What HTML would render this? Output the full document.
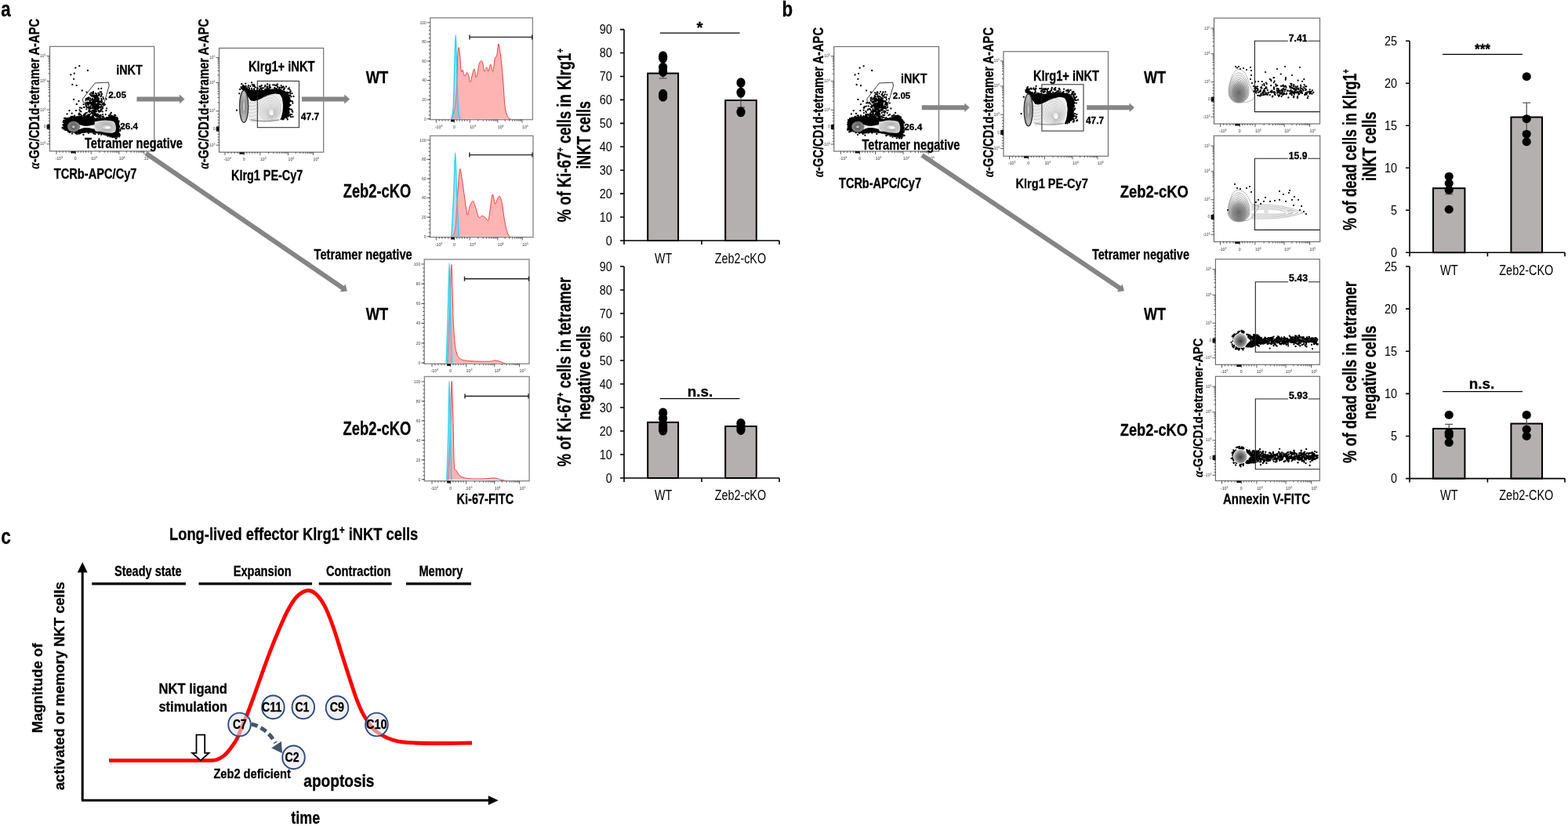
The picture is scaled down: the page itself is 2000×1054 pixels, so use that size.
<!DOCTYPE html>
<html><head><meta charset="utf-8"><title>Figure</title>
<style>html,body{margin:0;padding:0;background:#fff;}svg{display:block;}
text{font-family:'Liberation Sans', Arial, sans-serif;}</style></head>
<body><svg width="2000" height="1054" viewBox="0 0 2000 1054">
<rect width="2000" height="1054" fill="#fff"/>
<text x="1.20" y="20.80" font-size="27.54" font-weight="bold" fill="#000" stroke="#000" stroke-width="0.3" textLength="12.40" lengthAdjust="spacingAndGlyphs">a</text>
<rect x="63.50" y="59.30" width="133.20" height="133.60" fill="none" stroke="#707070" stroke-width="1.2"/>
<path d="M59.50 71.40H63.5 M59.50 103.40H63.5 M59.50 140.00H63.5 M59.50 161.70H63.5 M59.50 183.80H63.5 M61.50 93.77H63.5 M61.50 88.13H63.5 M61.50 84.13H63.5 M61.50 81.03H63.5 M61.50 78.50H63.5 M61.50 76.36H63.5 M61.50 74.50H63.5 M61.50 72.86H63.5 M61.50 128.98H63.5 M61.50 122.54H63.5 M61.50 117.96H63.5 M61.50 114.42H63.5 M61.50 111.52H63.5 M61.50 109.07H63.5 M61.50 106.95H63.5 M61.50 105.07H63.5 M61.50 143.62H63.5 M61.50 147.23H63.5 M61.50 150.85H63.5 M61.50 154.47H63.5 M61.50 158.08H63.5 M61.50 165.38H63.5 M61.50 169.07H63.5 M61.50 172.75H63.5 M61.50 176.43H63.5 M61.50 180.12H63.5 M72.00 192.90V196.90 M96.30 192.90V196.90 M116.20 192.90V196.90 M151.80 192.90V196.90 M183.80 192.90V196.90 M76.05 192.90V194.90 M80.10 192.90V194.90 M84.15 192.90V194.90 M88.20 192.90V194.90 M92.25 192.90V194.90 M99.62 192.90V194.90 M102.93 192.90V194.90 M106.25 192.90V194.90 M109.57 192.90V194.90 M112.88 192.90V194.90 M126.92 192.90V194.90 M133.19 192.90V194.90 M137.63 192.90V194.90 M141.08 192.90V194.90 M143.90 192.90V194.90 M146.29 192.90V194.90 M148.35 192.90V194.90 M150.17 192.90V194.90 M161.43 192.90V194.90 M167.07 192.90V194.90 M171.07 192.90V194.90 M174.17 192.90V194.90 M176.70 192.90V194.90 M178.84 192.90V194.90 M180.70 192.90V194.90 M182.34 192.90V194.90" stroke="#333" stroke-width="0.8" fill="none"/>
<path d="M59.70 158.70h3.8v6h-3.8z M90.30 192.90h6.2v2.6h-6.2z" fill="#111"/>
<text x="58.50" y="72.90" font-size="5" text-anchor="end" fill="#444">10<tspan dy="-2" font-size="3.5">5</tspan></text>
<text x="58.50" y="104.90" font-size="5" text-anchor="end" fill="#444">10<tspan dy="-2" font-size="3.5">4</tspan></text>
<text x="58.50" y="141.50" font-size="5" text-anchor="end" fill="#444">10<tspan dy="-2" font-size="3.5">3</tspan></text>
<text x="58.50" y="163.20" font-size="5" text-anchor="end" fill="#444">0</text>
<text x="58.50" y="185.30" font-size="5" text-anchor="end" fill="#444">-10<tspan dy="-2" font-size="3.5">3</tspan></text>
<text x="70.50" y="203.90" font-size="5.2" text-anchor="start" fill="#333">-10<tspan dy="-2" font-size="3.5">3</tspan></text>
<text x="96.30" y="203.90" font-size="5.2" text-anchor="middle" fill="#333">0</text>
<text x="116.20" y="203.90" font-size="5.2" text-anchor="start" fill="#333">10<tspan dy="-2" font-size="3.5">3</tspan></text>
<text x="151.80" y="203.90" font-size="5.2" text-anchor="start" fill="#333">10<tspan dy="-2" font-size="3.5">4</tspan></text>
<text x="183.80" y="203.90" font-size="5.2" text-anchor="start" fill="#333">10<tspan dy="-2" font-size="3.5">5</tspan></text>
<path d="M119.5 151.2h0M124.7 124.5h0M108.2 150.3h0M125.5 134.1h0M106.6 133.2h0M115.3 137.5h0M119.0 117.2h0M113.9 152.0h0M119.6 136.0h0M115.0 125.3h0M121.8 123.5h0M126.6 121.6h0M107.0 150.6h0M115.5 149.2h0M120.0 145.0h0M115.4 150.2h0M110.3 139.3h0M126.2 130.6h0M118.8 140.9h0M121.3 121.5h0M113.0 125.0h0M131.4 124.0h0M121.1 127.5h0M128.2 141.9h0M102.3 149.2h0M117.6 121.3h0M104.4 152.5h0M116.9 122.7h0M128.5 141.0h0M117.6 130.5h0M112.0 125.0h0M99.0 150.4h0M114.0 137.3h0M108.9 145.4h0M112.6 136.4h0M128.1 129.2h0M118.3 142.7h0M110.1 136.2h0M124.4 151.7h0M103.0 152.7h0M126.0 120.9h0M112.3 148.0h0M125.3 135.9h0M123.0 124.5h0M130.7 138.3h0M109.5 126.3h0M130.9 133.2h0M115.9 151.2h0M123.6 138.6h0M112.6 150.5h0M112.0 152.2h0M115.8 153.4h0M106.4 147.6h0M121.3 144.1h0M119.6 154.2h0M109.3 131.4h0M105.1 152.0h0M127.0 120.0h0M118.7 134.6h0M118.4 141.8h0M108.4 153.8h0M113.9 140.5h0M119.8 122.8h0M124.3 148.0h0M123.1 120.0h0M128.3 136.3h0M104.2 138.1h0M103.5 142.5h0M130.4 136.9h0M126.0 141.7h0M119.0 123.1h0M127.5 117.5h0M109.5 128.2h0M101.6 140.4h0M125.5 128.0h0M127.8 147.2h0M102.2 146.0h0M128.5 123.3h0M117.7 140.9h0M118.9 119.3h0M120.7 140.7h0M126.4 147.5h0M109.1 144.3h0M120.4 124.0h0M117.3 153.1h0M110.9 125.6h0M113.6 141.7h0M102.4 141.9h0M126.7 130.5h0M110.7 137.0h0M109.2 133.7h0M100.5 145.5h0M117.9 127.4h0M100.4 145.9h0M129.3 126.2h0M108.4 148.7h0M119.3 122.9h0M112.9 150.7h0M110.8 143.8h0M101.1 144.5h0M124.8 148.4h0M121.2 130.3h0M124.1 123.1h0M107.0 136.8h0M123.8 151.2h0M125.6 141.2h0M124.8 131.2h0M120.0 122.8h0M124.2 145.7h0M122.8 133.2h0M110.9 132.2h0M98.9 149.1h0M116.6 130.9h0M116.8 144.2h0M111.0 148.6h0M129.8 130.9h0M102.5 145.8h0M122.5 148.4h0M129.8 120.4h0M117.7 133.3h0" stroke="#000" stroke-width="2.20" stroke-linecap="round" fill="none"/>
<path d="M124.7 128.3h0M123.9 126.7h0M114.8 120.2h0M131.7 131.6h0M122.8 133.8h0M122.4 134.4h0M132.0 126.2h0M112.9 126.4h0M114.2 139.6h0M126.0 126.8h0M113.9 131.3h0M129.2 112.9h0M115.6 141.8h0M115.6 131.9h0M113.2 126.7h0M129.1 140.2h0M119.3 127.5h0M111.1 131.0h0M121.3 133.4h0M121.0 125.6h0M121.1 133.7h0M128.6 148.0h0M120.7 128.3h0M121.1 129.4h0M117.4 133.6h0M115.8 138.5h0M120.9 135.9h0M120.5 128.5h0M116.3 132.2h0M118.5 135.8h0M121.5 123.8h0M121.9 123.9h0M118.1 131.8h0M110.1 134.7h0M122.3 132.8h0M119.2 131.2h0M116.1 132.0h0M118.5 134.7h0M114.9 135.8h0M122.3 132.9h0M119.1 138.1h0M112.3 137.5h0M122.8 136.1h0M123.6 129.1h0M120.1 138.8h0M123.9 135.6h0M113.2 138.0h0M127.9 141.6h0M122.8 122.3h0M126.7 132.9h0M107.6 136.8h0M113.3 124.3h0M118.0 143.5h0M119.5 136.0h0M131.1 146.0h0M120.9 132.2h0M114.6 128.8h0M123.8 137.0h0M122.1 141.5h0M117.3 133.6h0M125.5 138.4h0M127.4 137.0h0M119.8 136.7h0M116.0 121.7h0M124.7 133.6h0M123.2 121.3h0M119.5 129.5h0M126.4 136.9h0M118.2 133.9h0M125.7 113.3h0M124.5 139.1h0M130.9 142.5h0M123.2 136.3h0M125.8 130.0h0M121.3 140.8h0M132.3 132.8h0M121.2 135.5h0M128.9 133.8h0M129.6 126.8h0M120.5 132.5h0M125.8 141.8h0M113.2 127.1h0M123.4 129.1h0M113.1 141.8h0M124.2 137.7h0M118.9 141.7h0M120.2 142.2h0M116.5 127.6h0M122.6 128.7h0M125.2 136.0h0M116.4 134.5h0M119.6 140.9h0M118.0 130.7h0M128.2 150.8h0M132.5 134.5h0M122.7 145.5h0M120.8 126.7h0M122.1 137.4h0M116.9 121.7h0M113.6 139.0h0M117.3 132.9h0M122.7 138.6h0M119.7 137.7h0M116.6 131.3h0M115.9 142.5h0M121.4 128.5h0M119.6 132.3h0M125.4 122.0h0M115.8 131.2h0M135.4 141.2h0M120.9 139.3h0M132.8 132.2h0M119.5 143.1h0M124.2 139.0h0M118.7 148.4h0M130.9 138.2h0M125.3 118.8h0M125.0 132.5h0M123.9 139.1h0M119.6 121.3h0M123.5 128.4h0M119.7 129.5h0M122.9 142.3h0M132.4 134.2h0M111.6 127.3h0M114.9 130.2h0M121.9 119.0h0M123.4 122.7h0M123.1 133.2h0M119.8 133.5h0M118.5 129.4h0M112.2 133.8h0M131.7 148.9h0M128.8 139.3h0M117.8 144.8h0M121.2 133.5h0M119.9 134.7h0M119.1 133.4h0M115.5 131.2h0M134.0 133.5h0M120.2 138.0h0M125.4 125.6h0M120.4 140.9h0M123.0 134.9h0M130.0 128.9h0M122.0 130.1h0M129.7 119.4h0M117.8 130.0h0M125.1 138.5h0M129.2 122.2h0M125.6 131.8h0M117.8 138.0h0M116.4 118.4h0M119.5 122.8h0M117.9 136.8h0M123.2 145.9h0M120.4 122.5h0M117.3 127.1h0M114.8 137.3h0M118.0 119.2h0M125.3 133.2h0M123.5 134.8h0M125.0 134.3h0M128.3 137.2h0M123.7 137.1h0M113.5 132.8h0M120.1 135.6h0M114.0 146.3h0M122.1 124.9h0M112.1 131.9h0M121.0 128.6h0M122.0 129.2h0M124.5 128.6h0M121.3 141.3h0M135.6 126.4h0M118.9 127.7h0M125.8 125.4h0M118.8 133.8h0M116.1 126.8h0M118.9 118.2h0M113.5 130.9h0M122.3 132.6h0M111.7 130.5h0M125.9 138.2h0M121.1 127.3h0M125.0 129.7h0M115.1 128.0h0M129.5 135.7h0M127.9 130.4h0M126.7 129.5h0M120.6 152.6h0M125.7 130.2h0M121.0 136.4h0M128.2 130.3h0M111.9 131.9h0M121.6 134.8h0M128.7 136.4h0M126.0 125.7h0M126.3 149.7h0M125.8 135.9h0M122.3 147.4h0M116.4 133.2h0M124.0 139.6h0M119.1 136.3h0M120.0 134.9h0M120.8 125.4h0M121.4 140.6h0M116.2 132.2h0M125.2 126.0h0M122.5 126.0h0M127.7 151.3h0M132.6 132.4h0M125.6 134.9h0M122.1 145.6h0M114.2 141.9h0M121.2 144.6h0M122.5 129.0h0M123.0 139.5h0M121.7 137.7h0M118.6 118.0h0M125.3 135.1h0M121.9 141.8h0M119.0 128.7h0M120.5 142.9h0M113.9 142.9h0M118.0 125.7h0M128.4 133.3h0M114.3 131.3h0M126.6 142.9h0M119.2 137.0h0" stroke="#000" stroke-width="2.20" stroke-linecap="round" fill="none"/>
<path d="M112.3 150.3h0M110.7 149.0h0M107.8 150.3h0M103.6 152.4h0M130.5 148.9h0M113.6 152.0h0M107.6 151.5h0M107.5 150.8h0M109.1 149.8h0M125.3 149.3h0M110.6 147.6h0M119.0 145.5h0M125.2 146.2h0M118.9 149.1h0M104.5 149.1h0M107.6 145.7h0M102.1 151.5h0M102.3 146.3h0M117.6 148.3h0M112.4 146.4h0M120.4 147.1h0M111.3 148.6h0M128.6 146.8h0M122.2 147.3h0M128.2 148.0h0M114.9 152.1h0M120.7 145.5h0M102.4 153.1h0M103.2 146.5h0M100.6 148.7h0M117.9 147.4h0M101.4 151.6h0M125.2 149.5h0M102.4 149.3h0M119.2 148.3h0M127.2 148.0h0M115.1 145.6h0M116.9 151.2h0M122.7 146.8h0M112.2 148.2h0M124.3 146.2h0M119.5 150.8h0M115.3 152.1h0M113.7 148.6h0M107.4 152.5h0M108.5 150.6h0M111.7 152.6h0M104.0 147.8h0M108.1 149.8h0M108.9 149.5h0M107.7 151.3h0M107.6 152.3h0M123.3 148.5h0M102.7 149.0h0M107.8 149.3h0M131.3 148.6h0M127.5 149.6h0M122.1 146.3h0M106.8 147.4h0M117.9 150.0h0" stroke="#000" stroke-width="2.20" stroke-linecap="round" fill="none"/>
<path d="M96.3 86.6h0M101.3 84.2h0M111.9 89.9h0M90.3 95.3h0M94.8 93.7h0M94.1 100.8h0M92.3 107.9h0M97.7 109.1h0M104.8 115.5h0M110.5 117.6h0M94.1 126.9h0M97.7 133.0h0M88.4 141.1h0M97.0 141.1h0M136.1 138.3h0M141.8 143.9h0M85.6 145.4h0M100.5 129.0h0M91.7 144.7h0M129.0 117.3h0M102.0 137.5h0M134.7 146.1h0M139.0 147.5h0M90.6 148.9h0" stroke="#000" stroke-width="2.30" stroke-linecap="round" fill="none"/>
<path d="M80.40 162.00L81.30 153.90L84.00 150.75L88.50 149.40L93.90 148.50L98.40 148.50L102.90 149.85L109.20 148.50L115.50 149.40L122.25 150.75L128.11 152.10L133.51 150.30L140.26 148.05L145.21 147.15L148.81 149.40L151.51 153.90L152.41 160.20L152.18 166.50L151.51 171.90L150.61 174.60L146.11 175.95L138.01 173.70L129.01 171.00L120.00 169.65L111.00 169.20L102.00 170.55L95.25 169.65L88.50 168.30L83.10 166.50L80.85 164.70Z" fill="#000" />
<path d="M82.0 159.8h0M80.4 159.5h0M80.6 155.8h0M81.2 153.9h0M82.1 151.0h0M83.0 150.9h0M83.5 151.0h0M86.1 151.2h0M86.5 150.8h0M89.7 150.5h0M91.7 149.0h0M91.9 149.6h0M92.5 148.7h0M94.9 148.1h0M95.2 147.6h0M98.4 149.4h0M100.9 148.9h0M101.2 148.6h0M103.3 149.6h0M105.6 151.2h0M107.1 147.5h0M108.3 147.0h0M110.1 150.1h0M113.6 147.6h0M116.2 150.7h0M117.4 149.2h0M119.7 150.6h0M122.9 151.9h0M125.4 152.4h0M127.5 152.3h0M126.6 152.0h0M130.2 151.1h0M132.6 150.5h0M132.6 151.7h0M136.4 149.8h0M138.9 149.9h0M140.6 145.6h0M141.2 147.3h0M142.6 147.6h0M146.4 146.7h0M145.3 149.9h0M147.2 147.4h0M149.0 149.8h0M149.0 151.7h0M150.1 151.5h0M151.7 154.7h0M151.2 156.3h0M152.0 160.9h0M151.7 161.6h0M152.3 162.2h0M153.0 165.3h0M153.4 166.8h0M151.4 167.8h0M152.2 170.7h0M152.9 172.3h0M152.3 174.3h0M151.1 172.2h0M149.4 173.2h0M150.7 174.2h0M148.8 176.1h0M147.8 177.0h0M143.3 175.0h0M140.8 174.6h0M137.5 173.7h0M136.6 171.1h0M132.3 171.0h0M129.2 171.8h0M125.9 171.3h0M121.4 171.2h0M119.4 170.3h0M117.2 166.9h0M113.2 169.6h0M112.6 169.5h0M108.3 168.2h0M106.4 171.9h0M102.0 170.3h0M98.1 171.1h0M100.2 170.7h0M96.5 170.2h0M92.0 170.5h0M89.5 168.5h0M88.8 169.2h0M87.1 168.1h0M84.1 165.8h0M83.2 165.8h0M81.0 164.6h0M81.1 163.5h0M79.5 163.1h0M80.9 164.2h0M82.6 161.4h0" stroke="#000" stroke-width="2.30" stroke-linecap="round" fill="none"/>
<path d="M100.20 158.40 C101.25 158.74 104.33 160.09 106.50 160.43 C108.68 160.77 110.78 160.62 113.25 160.43 C115.73 160.24 120.00 158.63 121.35 159.30 C122.70 159.98 122.70 163.84 121.35 164.48 C120.00 165.12 115.73 163.35 113.25 163.13 C110.78 162.90 108.68 162.83 106.50 163.13 C104.33 163.43 101.25 165.72 100.20 164.93 C99.15 164.14 100.20 159.49 100.20 158.40Z" fill="#f2f2f2"/>
<path d="M120.90 155.25 C121.88 155.10 124.65 154.65 126.76 154.35 C128.86 154.05 131.26 153.53 133.51 153.45 C135.76 153.38 138.31 153.60 140.26 153.90 C142.21 154.20 144.01 154.28 145.21 155.25 C146.41 156.23 147.01 158.25 147.46 159.75 C147.91 161.25 148.06 162.83 147.91 164.25 C147.76 165.68 147.46 167.40 146.56 168.30 C145.66 169.20 144.31 169.50 142.51 169.65 C140.71 169.80 138.01 169.50 135.76 169.20 C133.51 168.90 131.26 168.15 129.01 167.85 C126.76 167.55 123.68 168.08 122.25 167.40 C120.83 166.73 120.68 165.83 120.45 163.80 C120.23 161.78 120.83 156.68 120.90 155.25Z" fill="#d9d9d9"/>
<ellipse cx="134.86" cy="162.00" rx="12.50" ry="7.00" fill="none" stroke="#9a9a9a" stroke-width="0.45"/>
<ellipse cx="135.07" cy="162.07" rx="10.75" ry="6.02" fill="none" stroke="#9a9a9a" stroke-width="0.45"/>
<ellipse cx="135.25" cy="162.13" rx="9.24" ry="5.18" fill="none" stroke="#9a9a9a" stroke-width="0.45"/>
<ellipse cx="135.40" cy="162.18" rx="7.95" ry="4.45" fill="none" stroke="#9a9a9a" stroke-width="0.45"/>
<ellipse cx="135.54" cy="162.23" rx="6.84" ry="3.83" fill="none" stroke="#9a9a9a" stroke-width="0.45"/>
<ellipse cx="135.65" cy="162.27" rx="5.88" ry="3.29" fill="none" stroke="#9a9a9a" stroke-width="0.45"/>
<ellipse cx="135.75" cy="162.30" rx="5.06" ry="2.83" fill="none" stroke="#9a9a9a" stroke-width="0.45"/>
<ellipse cx="138.01" cy="162.90" rx="3.4" ry="1.4" fill="#fff"/>
<ellipse cx="93.90" cy="161.55" rx="7.9" ry="6.75" fill="#9a9a9a"/>
<ellipse cx="93.90" cy="161.55" rx="7.90" ry="6.75" fill="none" stroke="#4a4a4a" stroke-width="0.55"/>
<ellipse cx="93.90" cy="161.55" rx="6.32" ry="5.40" fill="none" stroke="#4a4a4a" stroke-width="0.55"/>
<ellipse cx="93.90" cy="161.55" rx="5.06" ry="4.32" fill="none" stroke="#4a4a4a" stroke-width="0.55"/>
<ellipse cx="93.90" cy="161.55" rx="4.04" ry="3.46" fill="none" stroke="#4a4a4a" stroke-width="0.55"/>
<ellipse cx="93.90" cy="161.55" rx="3.24" ry="2.76" fill="none" stroke="#4a4a4a" stroke-width="0.55"/>
<ellipse cx="93.90" cy="161.55" rx="2.59" ry="2.21" fill="none" stroke="#4a4a4a" stroke-width="0.55"/>
<ellipse cx="93.40" cy="162.05" rx="1.2" ry="0.8" fill="#eee"/>
<path d="M105.52 126.15L121.17 105.95L138.25 105.09L139.25 109.08L129.71 142.09L126.15 142.66L105.95 130.14Z" fill="none" stroke="#222" stroke-width="0.9"/>
<path d="M120.45 168.75L146.11 175.95L152.41 174.15" fill="none" stroke="#333" stroke-width="0.8"/>
<text transform="translate(49.80,215.50) rotate(-90)" x="0" y="0" font-size="18.84" font-weight="bold" stroke="#000" stroke-width="0.3" textLength="191.60" lengthAdjust="spacingAndGlyphs"><tspan font-family="'Liberation Serif', 'Times New Roman', serif" font-style="italic" font-weight="bold">α</tspan>-GC/CD1d-tetramer A-APC</text>
<text x="68.80" y="228.00" font-size="18.12" font-weight="bold" fill="#000" stroke="#000" stroke-width="0.3" textLength="105.70" lengthAdjust="spacingAndGlyphs">TCRb-APC/Cy7</text>
<text x="148.20" y="94.80" font-size="17.39" font-weight="bold" fill="#000" stroke="#000" stroke-width="0.3" textLength="33.50" lengthAdjust="spacingAndGlyphs">iNKT</text>
<text x="138.20" y="125.40" font-size="11.30" font-weight="bold" fill="#000" stroke="#000" stroke-width="0.3" textLength="22.80" lengthAdjust="spacingAndGlyphs">2.05</text>
<text x="153.20" y="165.30" font-size="11.30" font-weight="bold" fill="#000" stroke="#000" stroke-width="0.3" textLength="22.80" lengthAdjust="spacingAndGlyphs">26.4</text>
<text x="108.00" y="188.75" font-size="17.68" font-weight="bold" fill="#000" stroke="#000" stroke-width="0.3" textLength="125.00" lengthAdjust="spacingAndGlyphs">Tetramer negative</text>
<rect x="279.50" y="61.40" width="133.20" height="132.80" fill="none" stroke="#707070" stroke-width="1.2"/>
<path d="M275.50 73.50H279.5 M275.50 105.50H279.5 M275.50 141.80H279.5 M275.50 164.60H279.5 M275.50 185.20H279.5 M277.50 95.87H279.5 M277.50 90.23H279.5 M277.50 86.23H279.5 M277.50 83.13H279.5 M277.50 80.60H279.5 M277.50 78.46H279.5 M277.50 76.60H279.5 M277.50 74.96H279.5 M277.50 130.87H279.5 M277.50 124.48H279.5 M277.50 119.95H279.5 M277.50 116.43H279.5 M277.50 113.55H279.5 M277.50 111.12H279.5 M277.50 109.02H279.5 M277.50 107.16H279.5 M277.50 145.60H279.5 M277.50 149.40H279.5 M277.50 153.20H279.5 M277.50 157.00H279.5 M277.50 160.80H279.5 M277.50 168.03H279.5 M277.50 171.47H279.5 M277.50 174.90H279.5 M277.50 178.33H279.5 M277.50 181.77H279.5 M287.00 194.20V198.20 M311.30 194.20V198.20 M331.90 194.20V198.20 M367.50 194.20V198.20 M399.50 194.20V198.20 M291.05 194.20V196.20 M295.10 194.20V196.20 M299.15 194.20V196.20 M303.20 194.20V196.20 M307.25 194.20V196.20 M314.73 194.20V196.20 M318.17 194.20V196.20 M321.60 194.20V196.20 M325.03 194.20V196.20 M328.47 194.20V196.20 M342.62 194.20V196.20 M348.89 194.20V196.20 M353.33 194.20V196.20 M356.78 194.20V196.20 M359.60 194.20V196.20 M361.99 194.20V196.20 M364.05 194.20V196.20 M365.87 194.20V196.20 M377.13 194.20V196.20 M382.77 194.20V196.20 M386.77 194.20V196.20 M389.87 194.20V196.20 M392.40 194.20V196.20 M394.54 194.20V196.20 M396.40 194.20V196.20 M398.04 194.20V196.20" stroke="#333" stroke-width="0.8" fill="none"/>
<path d="M275.70 161.60h3.8v6h-3.8z M305.30 194.20h6.2v2.6h-6.2z" fill="#111"/>
<text x="274.50" y="75.00" font-size="5" text-anchor="end" fill="#444">10<tspan dy="-2" font-size="3.5">5</tspan></text>
<text x="274.50" y="107.00" font-size="5" text-anchor="end" fill="#444">10<tspan dy="-2" font-size="3.5">4</tspan></text>
<text x="274.50" y="143.30" font-size="5" text-anchor="end" fill="#444">10<tspan dy="-2" font-size="3.5">3</tspan></text>
<text x="274.50" y="166.10" font-size="5" text-anchor="end" fill="#444">0</text>
<text x="274.50" y="186.70" font-size="5" text-anchor="end" fill="#444">-10<tspan dy="-2" font-size="3.5">3</tspan></text>
<text x="285.50" y="205.20" font-size="5.2" text-anchor="start" fill="#333">-10<tspan dy="-2" font-size="3.5">3</tspan></text>
<text x="311.30" y="205.20" font-size="5.2" text-anchor="middle" fill="#333">0</text>
<text x="331.90" y="205.20" font-size="5.2" text-anchor="start" fill="#333">10<tspan dy="-2" font-size="3.5">3</tspan></text>
<text x="367.50" y="205.20" font-size="5.2" text-anchor="start" fill="#333">10<tspan dy="-2" font-size="3.5">4</tspan></text>
<text x="399.50" y="205.20" font-size="5.2" text-anchor="start" fill="#333">10<tspan dy="-2" font-size="3.5">5</tspan></text>
<path d="M306.80 113.00L309.50 108.50L314.80 112.50L318.80 115.00L327.30 115.00L331.90 116.00L337.00 114.50L341.00 114.00L350.10 113.20L357.00 114.00L362.60 115.50L367.50 119.50L370.00 124.50L369.50 129.60L368.80 136.40L369.50 143.30L367.30 149.00L362.60 151.80L357.00 153.00L356.40 153.50L358.70 150.10L360.40 142.70L361.00 134.20L359.80 125.60L357.00 120.50L351.30 119.40L345.60 120.50L337.00 123.90L328.50 127.90L323.90 129.00L320.00 128.50L316.50 123.90L311.00 116.00Z" fill="#000" />
<path d="M306.1 113.9h0M307.5 111.2h0M310.3 109.7h0M308.3 107.2h0M311.6 110.1h0M311.7 110.2h0M315.3 113.1h0M315.5 114.0h0M318.0 112.4h0M318.5 115.4h0M321.1 112.9h0M324.2 115.8h0M328.9 112.8h0M331.4 114.2h0M331.3 116.9h0M332.9 116.1h0M332.4 116.1h0M334.6 112.5h0M339.8 115.2h0M340.2 113.4h0M341.1 115.8h0M342.6 114.0h0M342.8 113.6h0M344.9 111.8h0M350.2 112.2h0M352.2 113.4h0M356.6 115.0h0M357.0 115.2h0M358.1 114.2h0M361.6 113.8h0M362.3 114.2h0M364.4 118.5h0M365.1 118.4h0M366.6 118.4h0M367.1 122.6h0M371.5 123.3h0M369.3 125.2h0M369.5 127.0h0M370.0 128.2h0M370.1 129.0h0M368.9 130.1h0M368.6 132.7h0M368.7 135.4h0M369.1 139.2h0M367.8 140.2h0M368.6 144.0h0M370.5 146.1h0M367.7 148.6h0M365.8 150.5h0M365.1 147.2h0M366.8 152.4h0M361.6 152.0h0M360.5 152.3h0M357.4 151.9h0" stroke="#000" stroke-width="2.30" stroke-linecap="round" fill="none"/>
<path d="M315.8 114.3h0M353.4 107.5h0M369.1 133.4h0M331.2 114.8h0M352.0 109.1h0M343.8 109.7h0M324.4 108.9h0M321.4 115.2h0M310.4 110.8h0M344.3 116.2h0M366.7 119.7h0M318.2 113.6h0M371.2 149.3h0M371.9 139.6h0M341.3 115.1h0M355.9 113.2h0M325.8 111.5h0M359.4 111.9h0M369.8 114.6h0M323.8 108.2h0M363.5 117.7h0M359.9 111.2h0M367.8 144.1h0M338.4 108.9h0M330.2 115.4h0M369.4 134.5h0M370.3 122.0h0M368.7 121.7h0M321.8 108.0h0M363.2 112.6h0M328.0 114.1h0M367.8 146.8h0M370.4 119.7h0M361.6 111.2h0M322.9 109.8h0M370.2 117.4h0M343.9 111.1h0M343.5 111.8h0M344.0 108.3h0M368.2 118.4h0M353.7 110.0h0M371.5 128.9h0M368.6 135.5h0M367.8 144.0h0M364.3 118.4h0M362.5 117.2h0M366.2 117.5h0M367.3 128.0h0M341.3 112.7h0M324.0 113.4h0M333.7 108.9h0M367.3 126.4h0M324.5 114.2h0M316.9 109.0h0M370.2 139.5h0M330.9 110.3h0M352.8 113.2h0M313.9 112.1h0M358.7 111.6h0M322.7 115.6h0M373.4 131.7h0M332.4 116.8h0M310.2 109.2h0M314.7 114.3h0M348.4 115.1h0M354.4 111.3h0M316.4 110.9h0M313.3 111.6h0M352.0 115.9h0M310.6 110.1h0M337.9 110.7h0M333.3 112.9h0M367.2 136.3h0M356.7 111.7h0M373.3 142.8h0M332.6 110.4h0M367.6 113.4h0M321.0 115.1h0M324.7 110.5h0M348.2 108.3h0M338.3 113.8h0M373.1 129.5h0M347.7 116.2h0M372.1 145.9h0M316.2 114.7h0M358.7 109.0h0M333.9 114.8h0M313.7 109.9h0M343.7 110.2h0M361.5 110.4h0M341.1 110.6h0M370.3 119.7h0M330.4 116.9h0M369.8 129.3h0M368.8 134.8h0M335.9 112.3h0M370.8 148.6h0M313.3 106.6h0M369.3 147.3h0M372.8 142.4h0M328.2 112.0h0M339.7 115.2h0M345.8 116.2h0M350.7 112.3h0M360.0 111.6h0M353.1 113.4h0M368.8 146.5h0M343.3 114.0h0M354.1 107.7h0M368.6 128.0h0" stroke="#000" stroke-width="2.20" stroke-linecap="round" fill="none"/>
<path d="M321.0 105.4h0M319.4 109.9h0M332.2 112.3h0M341.2 107.5h0M350.3 108.5h0M365.0 110.5h0M368.8 112.5h0M370.8 116.3h0M372.5 119.2h0M374.5 123.0h0M370.5 134.0h0M372.8 141.5h0M373.5 149.0h0M305.2 119.3h0M302.0 140.7h0M319.7 153.6h0M323.6 153.2h0M340.5 111.0h0M344.0 109.5h0" stroke="#000" stroke-width="2.30" stroke-linecap="round" fill="none"/>
<path d="M317.00 125.00 C317.50 125.72 318.83 128.50 320.00 129.30 C321.17 130.10 322.58 129.92 324.00 129.80 C325.42 129.68 326.33 129.47 328.50 128.60 C330.67 127.73 334.15 125.83 337.00 124.60 C339.85 123.37 343.22 121.95 345.60 121.20 C347.98 120.45 349.40 120.10 351.30 120.10 C353.20 120.10 355.62 120.22 357.00 121.20 C358.38 122.18 359.00 123.83 359.60 126.00 C360.20 128.17 360.53 131.42 360.60 134.20 C360.67 136.98 360.40 140.05 360.00 142.70 C359.60 145.35 358.87 148.22 358.20 150.10 C357.53 151.98 358.20 153.15 356.00 154.00 C353.80 154.85 349.33 155.03 345.00 155.20 C340.67 155.37 334.50 155.20 330.00 155.00 C325.50 154.80 320.17 159.00 318.00 154.00 C315.83 149.00 317.17 129.83 317.00 125.00Z" fill="#ececec"/>
<ellipse cx="343.70" cy="138.00" rx="14.00" ry="17.00" fill="none" stroke="#a6a6a6" stroke-width="0.5"/>
<ellipse cx="344.18" cy="139.12" rx="11.76" ry="14.28" fill="none" stroke="#a6a6a6" stroke-width="0.5"/>
<ellipse cx="344.58" cy="140.06" rx="9.88" ry="12.00" fill="none" stroke="#a6a6a6" stroke-width="0.5"/>
<ellipse cx="344.92" cy="140.85" rx="8.30" ry="10.08" fill="none" stroke="#a6a6a6" stroke-width="0.5"/>
<ellipse cx="345.21" cy="141.51" rx="6.97" ry="8.46" fill="none" stroke="#a6a6a6" stroke-width="0.5"/>
<ellipse cx="345.45" cy="142.07" rx="5.85" ry="7.11" fill="none" stroke="#a6a6a6" stroke-width="0.5"/>
<ellipse cx="345.65" cy="142.54" rx="4.92" ry="5.97" fill="none" stroke="#a6a6a6" stroke-width="0.5"/>
<ellipse cx="345.81" cy="142.93" rx="4.13" ry="5.02" fill="none" stroke="#a6a6a6" stroke-width="0.5"/>
<ellipse cx="345.96" cy="143.26" rx="3.47" ry="4.21" fill="none" stroke="#a6a6a6" stroke-width="0.5"/>
<ellipse cx="346.70" cy="145.00" rx="2.2" ry="2.2" fill="#fff"/>
<path d="M317.00 131.00 Q322.00 133.00 328.00 129.50" stroke="#aaa" stroke-width="0.5" fill="none"/>
<path d="M317.00 135.20 Q322.00 137.20 328.00 133.70" stroke="#aaa" stroke-width="0.5" fill="none"/>
<path d="M317.00 139.40 Q322.00 141.40 328.00 137.90" stroke="#aaa" stroke-width="0.5" fill="none"/>
<path d="M317.00 143.60 Q322.00 145.60 328.00 142.10" stroke="#aaa" stroke-width="0.5" fill="none"/>
<path d="M317.00 147.80 Q322.00 149.80 328.00 146.30" stroke="#aaa" stroke-width="0.5" fill="none"/>
<path d="M317.00 152.00 Q322.00 154.00 328.00 150.50" stroke="#aaa" stroke-width="0.5" fill="none"/>
<path d="M320.00 153.00 Q338.00 156.50 356.00 153.00" stroke="#9a9a9a" stroke-width="1.3" fill="none"/>
<ellipse cx="311.10" cy="135.90" rx="5.5" ry="20.4" fill="#c8c8c8" stroke="#333" stroke-width="1.5"/>
<ellipse cx="311.10" cy="135.90" rx="3.90" ry="17.50" fill="none" stroke="#777" stroke-width="0.55"/>
<ellipse cx="311.10" cy="135.90" rx="3.12" ry="14.00" fill="none" stroke="#777" stroke-width="0.55"/>
<ellipse cx="311.10" cy="135.90" rx="2.50" ry="11.20" fill="none" stroke="#777" stroke-width="0.55"/>
<ellipse cx="311.10" cy="135.90" rx="2.00" ry="8.96" fill="none" stroke="#777" stroke-width="0.55"/>
<ellipse cx="311.10" cy="135.90" rx="1.60" ry="7.17" fill="none" stroke="#777" stroke-width="0.55"/>
<rect x="328.30" y="103.40" width="53.10" height="59.30" fill="none" stroke="#222" stroke-width="1"/>
<text transform="translate(266.00,215.50) rotate(-90)" x="0" y="0" font-size="18.84" font-weight="bold" stroke="#000" stroke-width="0.3" textLength="191.60" lengthAdjust="spacingAndGlyphs"><tspan font-family="'Liberation Serif', 'Times New Roman', serif" font-style="italic" font-weight="bold">α</tspan>-GC/CD1d-tetramer A-APC</text>
<text x="317.00" y="91.30" font-size="18.55" font-weight="bold" fill="#000" stroke="#000" stroke-width="0.3" textLength="84.60" lengthAdjust="spacingAndGlyphs">Klrg1+ iNKT</text>
<text x="383.80" y="153.20" font-size="13.33" font-weight="bold" fill="#000" stroke="#000" stroke-width="0.3" textLength="23.50" lengthAdjust="spacingAndGlyphs">47.7</text>
<text x="295.00" y="229.50" font-size="18.12" font-weight="bold" fill="#000" stroke="#000" stroke-width="0.3" textLength="91.30" lengthAdjust="spacingAndGlyphs">Klrg1 PE-Cy7</text>
<path d="M174.40 123.60H229.00V120.60L235.50 126.60L229.00 132.60V129.60H174.40Z" fill="#858585"/>
<path d="M385.00 123.60H439.20V120.60L446.20 126.60L439.20 132.60V129.60H385.00Z" fill="#858585"/>
<path transform="translate(186.00,195.50) rotate(34.415)" d="M0 -3.0H304.41V-6L311.41 0L304.41 6V3.0H0Z" fill="#858585"/>
<text x="466.70" y="105.80" font-size="22.17" font-weight="bold" fill="#000" stroke="#000" stroke-width="0.3" textLength="28.60" lengthAdjust="spacingAndGlyphs">WT</text>
<text x="437.70" y="252.20" font-size="23.33" font-weight="bold" fill="#000" stroke="#000" stroke-width="0.3" textLength="86.50" lengthAdjust="spacingAndGlyphs">Zeb2-cKO</text>
<text x="400.60" y="331.00" font-size="18.12" font-weight="bold" fill="#000" stroke="#000" stroke-width="0.3" textLength="125.10" lengthAdjust="spacingAndGlyphs">Tetramer negative</text>
<text x="466.70" y="408.20" font-size="22.17" font-weight="bold" fill="#000" stroke="#000" stroke-width="0.3" textLength="28.40" lengthAdjust="spacingAndGlyphs">WT</text>
<text x="437.60" y="555.00" font-size="23.19" font-weight="bold" fill="#000" stroke="#000" stroke-width="0.3" textLength="86.70" lengthAdjust="spacingAndGlyphs">Zeb2-cKO</text>
<text x="582.50" y="642.50" font-size="18.41" font-weight="bold" fill="#000" stroke="#000" stroke-width="0.3" textLength="72.70" lengthAdjust="spacingAndGlyphs">Ki-67-FITC</text>
<rect x="548.80" y="22.80" width="130.60" height="129.80" fill="none" stroke="#8a8a8a" stroke-width="1.4"/>
<text x="543.80" y="153.50" font-size="5" text-anchor="end" fill="#444">0</text>
<text x="543.80" y="128.90" font-size="5" text-anchor="end" fill="#444">20</text>
<text x="543.80" y="104.30" font-size="5" text-anchor="end" fill="#444">40</text>
<text x="543.80" y="79.70" font-size="5" text-anchor="end" fill="#444">60</text>
<text x="543.80" y="55.10" font-size="5" text-anchor="end" fill="#444">80</text>
<text x="543.80" y="30.50" font-size="5" text-anchor="end" fill="#444">100</text>
<path d="M544.80 151.80H548.8 M544.80 127.20H548.8 M544.80 102.60H548.8 M544.80 78.00H548.8 M544.80 53.40H548.8 M544.80 28.80H548.8 M546.80 151.80H548.8 M546.80 146.88H548.8 M546.80 141.96H548.8 M546.80 137.04H548.8 M546.80 132.12H548.8 M546.80 127.20H548.8 M546.80 122.28H548.8 M546.80 117.36H548.8 M546.80 112.44H548.8 M546.80 107.52H548.8 M546.80 102.60H548.8 M546.80 97.68H548.8 M546.80 92.76H548.8 M546.80 87.84H548.8 M546.80 82.92H548.8 M546.80 78.00H548.8 M546.80 73.08H548.8 M546.80 68.16H548.8 M546.80 63.24H548.8 M546.80 58.32H548.8 M546.80 53.40H548.8 M546.80 48.48H548.8 M546.80 43.56H548.8 M546.80 38.64H548.8 M546.80 33.72H548.8 M556.40 152.60V156.60 M579.50 152.60V156.60 M599.20 152.60V156.60 M634.80 152.60V156.60 M666.00 152.60V156.60 M560.25 152.60V154.60 M564.10 152.60V154.60 M567.95 152.60V154.60 M571.80 152.60V154.60 M575.65 152.60V154.60 M582.78 152.60V154.60 M586.07 152.60V154.60 M589.35 152.60V154.60 M592.63 152.60V154.60 M595.92 152.60V154.60 M609.92 152.60V154.60 M616.19 152.60V154.60 M620.63 152.60V154.60 M624.08 152.60V154.60 M626.90 152.60V154.60 M629.29 152.60V154.60 M631.35 152.60V154.60 M633.17 152.60V154.60 M644.19 152.60V154.60 M649.69 152.60V154.60 M653.58 152.60V154.60 M656.61 152.60V154.60 M659.08 152.60V154.60 M661.17 152.60V154.60 M662.98 152.60V154.60 M664.57 152.60V154.60" stroke="#333" stroke-width="0.8" fill="none"/>
<path d="M575.00 152.60h4.5v2.8h-4.5z" fill="#111"/>
<text x="554.90" y="163.60" font-size="5.2" text-anchor="start" fill="#333">-10<tspan dy="-2" font-size="3.5">3</tspan></text>
<text x="579.50" y="163.60" font-size="5.2" text-anchor="middle" fill="#333">0</text>
<text x="599.20" y="163.60" font-size="5.2" text-anchor="start" fill="#333">10<tspan dy="-2" font-size="3.5">3</tspan></text>
<text x="634.80" y="163.60" font-size="5.2" text-anchor="start" fill="#333">10<tspan dy="-2" font-size="3.5">4</tspan></text>
<text x="666.00" y="163.60" font-size="5.2" text-anchor="start" fill="#333">10<tspan dy="-2" font-size="3.5">5</tspan></text>
<path d="M575.90 151.79 C576.65 149.26 579.31 144.20 580.45 136.61 C581.59 129.02 582.14 117.64 582.73 106.25 C583.31 94.87 583.51 75.90 583.94 68.31 C584.37 60.72 584.83 59.96 585.31 60.72 C585.79 61.48 586.32 67.80 586.82 72.86 C587.33 77.92 587.76 88.29 588.34 91.07 C588.92 93.86 589.61 88.54 590.32 89.56 C591.02 90.57 591.71 96.64 592.59 97.15 C593.48 97.65 594.74 92.59 595.63 92.59 C596.51 92.59 597.20 95.12 597.91 97.15 C598.61 99.17 598.74 106.25 599.88 104.74 C601.02 103.22 603.47 89.05 604.74 88.04 C606.00 87.03 606.33 99.93 607.47 98.66 C608.61 97.40 610.25 83.74 611.57 80.45 C612.88 77.16 614.35 77.16 615.36 78.93 C616.37 80.70 616.75 89.94 617.64 91.07 C618.52 92.21 619.79 85.76 620.67 85.76 C621.56 85.76 622.12 91.71 622.95 91.07 C623.79 90.44 624.72 81.97 625.68 81.97 C626.64 81.97 627.78 92.34 628.72 91.07 C629.65 89.81 630.49 77.67 631.30 74.38 C632.11 71.09 632.82 74.38 633.58 71.34 C634.34 68.31 635.17 57.17 635.85 56.16 C636.54 55.15 637.04 61.22 637.67 65.27 C638.31 69.32 638.94 73.62 639.65 80.45 C640.36 87.28 641.17 96.89 641.92 106.25 C642.68 115.61 643.19 129.40 644.20 136.61 C645.21 143.82 646.73 146.91 648.00 149.51 C649.26 152.12 651.16 151.79 651.79 152.25 L651.79 151.80 L575.90 151.80 Z" fill="#ffb4b4" fill-opacity="1.0" stroke="none"/>
<path d="M575.90 151.79 C576.65 149.26 579.31 144.20 580.45 136.61 C581.59 129.02 582.14 117.64 582.73 106.25 C583.31 94.87 583.51 75.90 583.94 68.31 C584.37 60.72 584.83 59.96 585.31 60.72 C585.79 61.48 586.32 67.80 586.82 72.86 C587.33 77.92 587.76 88.29 588.34 91.07 C588.92 93.86 589.61 88.54 590.32 89.56 C591.02 90.57 591.71 96.64 592.59 97.15 C593.48 97.65 594.74 92.59 595.63 92.59 C596.51 92.59 597.20 95.12 597.91 97.15 C598.61 99.17 598.74 106.25 599.88 104.74 C601.02 103.22 603.47 89.05 604.74 88.04 C606.00 87.03 606.33 99.93 607.47 98.66 C608.61 97.40 610.25 83.74 611.57 80.45 C612.88 77.16 614.35 77.16 615.36 78.93 C616.37 80.70 616.75 89.94 617.64 91.07 C618.52 92.21 619.79 85.76 620.67 85.76 C621.56 85.76 622.12 91.71 622.95 91.07 C623.79 90.44 624.72 81.97 625.68 81.97 C626.64 81.97 627.78 92.34 628.72 91.07 C629.65 89.81 630.49 77.67 631.30 74.38 C632.11 71.09 632.82 74.38 633.58 71.34 C634.34 68.31 635.17 57.17 635.85 56.16 C636.54 55.15 637.04 61.22 637.67 65.27 C638.31 69.32 638.94 73.62 639.65 80.45 C640.36 87.28 641.17 96.89 641.92 106.25 C642.68 115.61 643.19 129.40 644.20 136.61 C645.21 143.82 646.73 146.91 648.00 149.51 C649.26 152.12 651.16 151.79 651.79 152.25" fill="none" stroke="#f23c3c" stroke-width="1.0"/>
<path d="M575.59 152.25 C576.02 149.64 577.44 149.34 578.17 136.61 C578.91 123.89 579.49 91.20 579.99 75.90 C580.50 60.59 580.80 44.78 581.21 44.78 C581.61 44.78 581.89 60.59 582.42 75.90 C582.95 91.20 583.66 123.89 584.40 136.61 C585.13 149.34 586.42 149.64 586.82 152.25 L586.82 151.80 L575.59 151.80 Z" fill="#a0a8c8" fill-opacity="0.55" stroke="none"/>
<path d="M575.59 152.25 C576.02 149.64 577.44 149.34 578.17 136.61 C578.91 123.89 579.49 91.20 579.99 75.90 C580.50 60.59 580.80 44.78 581.21 44.78 C581.61 44.78 581.89 60.59 582.42 75.90 C582.95 91.20 583.66 123.89 584.40 136.61 C585.13 149.34 586.42 149.64 586.82 152.25" fill="none" stroke="#22d8fa" stroke-width="1.4"/>
<path d="M599.00 47.40H678.70 M599.00 44.40V50.40 M678.70 44.40V50.40" stroke="#222" stroke-width="1.4"/>
<rect x="548.60" y="173.30" width="131.40" height="129.40" fill="none" stroke="#8a8a8a" stroke-width="1.4"/>
<text x="543.60" y="303.50" font-size="5" text-anchor="end" fill="#444">0</text>
<text x="543.60" y="278.90" font-size="5" text-anchor="end" fill="#444">20</text>
<text x="543.60" y="254.30" font-size="5" text-anchor="end" fill="#444">40</text>
<text x="543.60" y="229.70" font-size="5" text-anchor="end" fill="#444">60</text>
<text x="543.60" y="205.10" font-size="5" text-anchor="end" fill="#444">80</text>
<text x="543.60" y="180.50" font-size="5" text-anchor="end" fill="#444">100</text>
<path d="M544.60 301.80H548.6 M544.60 277.20H548.6 M544.60 252.60H548.6 M544.60 228.00H548.6 M544.60 203.40H548.6 M544.60 178.80H548.6 M546.60 301.80H548.6 M546.60 296.88H548.6 M546.60 291.96H548.6 M546.60 287.04H548.6 M546.60 282.12H548.6 M546.60 277.20H548.6 M546.60 272.28H548.6 M546.60 267.36H548.6 M546.60 262.44H548.6 M546.60 257.52H548.6 M546.60 252.60H548.6 M546.60 247.68H548.6 M546.60 242.76H548.6 M546.60 237.84H548.6 M546.60 232.92H548.6 M546.60 228.00H548.6 M546.60 223.08H548.6 M546.60 218.16H548.6 M546.60 213.24H548.6 M546.60 208.32H548.6 M546.60 203.40H548.6 M546.60 198.48H548.6 M546.60 193.56H548.6 M546.60 188.64H548.6 M546.60 183.72H548.6 M556.30 302.70V306.70 M579.50 302.70V306.70 M599.10 302.70V306.70 M634.80 302.70V306.70 M666.20 302.70V306.70 M560.17 302.70V304.70 M564.03 302.70V304.70 M567.90 302.70V304.70 M571.77 302.70V304.70 M575.63 302.70V304.70 M582.77 302.70V304.70 M586.03 302.70V304.70 M589.30 302.70V304.70 M592.57 302.70V304.70 M595.83 302.70V304.70 M609.85 302.70V304.70 M616.13 302.70V304.70 M620.59 302.70V304.70 M624.05 302.70V304.70 M626.88 302.70V304.70 M629.27 302.70V304.70 M631.34 302.70V304.70 M633.17 302.70V304.70 M644.25 302.70V304.70 M649.78 302.70V304.70 M653.70 302.70V304.70 M656.75 302.70V304.70 M659.23 302.70V304.70 M661.34 302.70V304.70 M663.16 302.70V304.70 M664.76 302.70V304.70" stroke="#333" stroke-width="0.8" fill="none"/>
<path d="M575.00 302.70h4.5v2.8h-4.5z" fill="#111"/>
<text x="554.80" y="313.70" font-size="5.2" text-anchor="start" fill="#333">-10<tspan dy="-2" font-size="3.5">3</tspan></text>
<text x="579.50" y="313.70" font-size="5.2" text-anchor="middle" fill="#333">0</text>
<text x="599.10" y="313.70" font-size="5.2" text-anchor="start" fill="#333">10<tspan dy="-2" font-size="3.5">3</tspan></text>
<text x="634.80" y="313.70" font-size="5.2" text-anchor="start" fill="#333">10<tspan dy="-2" font-size="3.5">4</tspan></text>
<text x="666.20" y="313.70" font-size="5.2" text-anchor="start" fill="#333">10<tspan dy="-2" font-size="3.5">5</tspan></text>
<path d="M574.29 302.68 C575.30 301.17 578.85 302.18 580.36 293.58 C581.88 284.97 582.39 263.98 583.40 251.07 C584.41 238.17 585.42 219.70 586.44 216.16 C587.45 212.62 588.46 224.01 589.47 229.82 C590.48 235.64 591.39 243.74 592.51 251.07 C593.62 258.41 595.04 271.82 596.15 273.84 C597.26 275.87 598.02 266.10 599.19 263.22 C600.35 260.33 601.97 256.54 603.13 256.54 C604.30 256.54 604.90 259.83 606.17 263.22 C607.43 266.61 609.20 274.86 610.72 276.88 C612.24 278.90 613.76 275.11 615.28 275.36 C616.79 275.61 618.57 277.39 619.83 278.40 C621.09 279.41 621.96 283.46 622.87 281.43 C623.78 279.41 624.38 271.82 625.29 266.25 C626.21 260.69 627.32 249.05 628.33 248.04 C629.34 247.03 630.35 259.17 631.37 260.18 C632.38 261.19 633.39 255.73 634.40 254.11 C635.41 252.49 636.43 249.46 637.44 250.47 C638.45 251.48 639.46 255.02 640.47 260.18 C641.49 265.34 642.40 275.36 643.51 281.43 C644.62 287.50 645.94 293.07 647.15 296.61 C648.37 300.15 650.19 301.67 650.80 302.68 L650.80 301.80 L574.29 301.80 Z" fill="#ffb4b4" fill-opacity="1.0" stroke="none"/>
<path d="M574.29 302.68 C575.30 301.17 578.85 302.18 580.36 293.58 C581.88 284.97 582.39 263.98 583.40 251.07 C584.41 238.17 585.42 219.70 586.44 216.16 C587.45 212.62 588.46 224.01 589.47 229.82 C590.48 235.64 591.39 243.74 592.51 251.07 C593.62 258.41 595.04 271.82 596.15 273.84 C597.26 275.87 598.02 266.10 599.19 263.22 C600.35 260.33 601.97 256.54 603.13 256.54 C604.30 256.54 604.90 259.83 606.17 263.22 C607.43 266.61 609.20 274.86 610.72 276.88 C612.24 278.90 613.76 275.11 615.28 275.36 C616.79 275.61 618.57 277.39 619.83 278.40 C621.09 279.41 621.96 283.46 622.87 281.43 C623.78 279.41 624.38 271.82 625.29 266.25 C626.21 260.69 627.32 249.05 628.33 248.04 C629.34 247.03 630.35 259.17 631.37 260.18 C632.38 261.19 633.39 255.73 634.40 254.11 C635.41 252.49 636.43 249.46 637.44 250.47 C638.45 251.48 639.46 255.02 640.47 260.18 C641.49 265.34 642.40 275.36 643.51 281.43 C644.62 287.50 645.94 293.07 647.15 296.61 C648.37 300.15 650.19 301.67 650.80 302.68" fill="none" stroke="#f23c3c" stroke-width="1.0"/>
<path d="M575.81 302.68 C576.27 294.08 577.73 269.04 578.54 251.07 C579.35 233.11 579.96 194.91 580.67 194.91 C581.38 194.91 581.98 233.11 582.79 251.07 C583.60 269.04 585.07 294.08 585.53 302.68 L585.53 301.80 L575.81 301.80 Z" fill="#a0a8c8" fill-opacity="0.55" stroke="none"/>
<path d="M575.81 302.68 C576.27 294.08 577.73 269.04 578.54 251.07 C579.35 233.11 579.96 194.91 580.67 194.91 C581.38 194.91 581.98 233.11 582.79 251.07 C583.60 269.04 585.07 294.08 585.53 302.68" fill="none" stroke="#22d8fa" stroke-width="1.4"/>
<path d="M598.90 197.60H679.00 M598.90 194.60V200.60 M679.00 194.60V200.60" stroke="#222" stroke-width="1.4"/>
<rect x="541.20" y="331.00" width="133.80" height="133.20" fill="none" stroke="#8a8a8a" stroke-width="1.4"/>
<text x="536.20" y="464.70" font-size="5" text-anchor="end" fill="#444">0</text>
<text x="536.20" y="439.50" font-size="5" text-anchor="end" fill="#444">20</text>
<text x="536.20" y="414.30" font-size="5" text-anchor="end" fill="#444">40</text>
<text x="536.20" y="389.10" font-size="5" text-anchor="end" fill="#444">60</text>
<text x="536.20" y="363.90" font-size="5" text-anchor="end" fill="#444">80</text>
<text x="536.20" y="338.70" font-size="5" text-anchor="end" fill="#444">100</text>
<path d="M537.20 463.00H541.2 M537.20 437.80H541.2 M537.20 412.60H541.2 M537.20 387.40H541.2 M537.20 362.20H541.2 M537.20 337.00H541.2 M539.20 463.00H541.2 M539.20 457.96H541.2 M539.20 452.92H541.2 M539.20 447.88H541.2 M539.20 442.84H541.2 M539.20 437.80H541.2 M539.20 432.76H541.2 M539.20 427.72H541.2 M539.20 422.68H541.2 M539.20 417.64H541.2 M539.20 412.60H541.2 M539.20 407.56H541.2 M539.20 402.52H541.2 M539.20 397.48H541.2 M539.20 392.44H541.2 M539.20 387.40H541.2 M539.20 382.36H541.2 M539.20 377.32H541.2 M539.20 372.28H541.2 M539.20 367.24H541.2 M539.20 362.20H541.2 M539.20 357.16H541.2 M539.20 352.12H541.2 M539.20 347.08H541.2 M539.20 342.04H541.2 M551.00 464.20V468.20 M574.70 464.20V468.20 M594.60 464.20V468.20 M630.80 464.20V468.20 M662.60 464.20V468.20 M554.95 464.20V466.20 M558.90 464.20V466.20 M562.85 464.20V466.20 M566.80 464.20V466.20 M570.75 464.20V466.20 M578.02 464.20V466.20 M581.33 464.20V466.20 M584.65 464.20V466.20 M587.97 464.20V466.20 M591.28 464.20V466.20 M605.50 464.20V466.20 M611.87 464.20V466.20 M616.39 464.20V466.20 M619.90 464.20V466.20 M622.77 464.20V466.20 M625.19 464.20V466.20 M627.29 464.20V466.20 M629.14 464.20V466.20 M640.37 464.20V466.20 M645.97 464.20V466.20 M649.95 464.20V466.20 M653.03 464.20V466.20 M655.55 464.20V466.20 M657.67 464.20V466.20 M659.52 464.20V466.20 M661.14 464.20V466.20" stroke="#333" stroke-width="0.8" fill="none"/>
<path d="M570.20 464.20h4.5v2.8h-4.5z" fill="#111"/>
<text x="549.50" y="475.20" font-size="5.2" text-anchor="start" fill="#333">-10<tspan dy="-2" font-size="3.5">3</tspan></text>
<text x="574.70" y="475.20" font-size="5.2" text-anchor="middle" fill="#333">0</text>
<text x="594.60" y="475.20" font-size="5.2" text-anchor="start" fill="#333">10<tspan dy="-2" font-size="3.5">3</tspan></text>
<text x="630.80" y="475.20" font-size="5.2" text-anchor="start" fill="#333">10<tspan dy="-2" font-size="3.5">4</tspan></text>
<text x="662.60" y="475.20" font-size="5.2" text-anchor="start" fill="#333">10<tspan dy="-2" font-size="3.5">5</tspan></text>
<path d="M570.65 463.58 C571.11 453.46 572.52 423.86 573.38 402.87 C574.24 381.87 575.05 337.60 575.81 337.60 C576.57 337.60 577.28 386.93 577.94 402.87 C578.59 418.80 579.10 425.63 579.76 433.22 C580.41 440.81 580.77 444.36 581.88 448.40 C583.00 452.45 583.65 455.49 586.44 457.51 C589.22 459.53 592.51 459.94 598.58 460.55 C604.65 461.15 617.30 461.25 622.87 461.15 C628.43 461.05 629.19 459.79 631.97 459.94 C634.76 460.09 637.44 461.36 639.56 462.06 C641.69 462.77 643.86 463.84 644.72 464.19 L644.72 463.00 L570.65 463.00 Z" fill="#ffb4b4" fill-opacity="1.0" stroke="none"/>
<path d="M570.65 463.58 C571.11 453.46 572.52 423.86 573.38 402.87 C574.24 381.87 575.05 337.60 575.81 337.60 C576.57 337.60 577.28 386.93 577.94 402.87 C578.59 418.80 579.10 425.63 579.76 433.22 C580.41 440.81 580.77 444.36 581.88 448.40 C583.00 452.45 583.65 455.49 586.44 457.51 C589.22 459.53 592.51 459.94 598.58 460.55 C604.65 461.15 617.30 461.25 622.87 461.15 C628.43 461.05 629.19 459.79 631.97 459.94 C634.76 460.09 637.44 461.36 639.56 462.06 C641.69 462.77 643.86 463.84 644.72 464.19" fill="none" stroke="#f23c3c" stroke-width="1.0"/>
<path d="M569.13 463.58 C569.49 453.46 570.60 424.12 571.26 402.87 C571.91 381.62 572.52 336.08 573.08 336.08 C573.63 336.08 573.99 381.62 574.60 402.87 C575.20 424.12 576.37 453.46 576.72 463.58 L576.72 463.00 L569.13 463.00 Z" fill="#a0a8c8" fill-opacity="0.55" stroke="none"/>
<path d="M569.13 463.58 C569.49 453.46 570.60 424.12 571.26 402.87 C571.91 381.62 572.52 336.08 573.08 336.08 C573.63 336.08 573.99 381.62 574.60 402.87 C575.20 424.12 576.37 453.46 576.72 463.58" fill="none" stroke="#22d8fa" stroke-width="1.4"/>
<path d="M592.50 355.80H674.50 M592.50 352.80V358.80 M674.50 352.80V358.80" stroke="#222" stroke-width="1.4"/>
<rect x="541.40" y="480.50" width="133.70" height="133.20" fill="none" stroke="#8a8a8a" stroke-width="1.4"/>
<text x="536.40" y="613.50" font-size="5" text-anchor="end" fill="#444">0</text>
<text x="536.40" y="588.54" font-size="5" text-anchor="end" fill="#444">20</text>
<text x="536.40" y="563.58" font-size="5" text-anchor="end" fill="#444">40</text>
<text x="536.40" y="538.62" font-size="5" text-anchor="end" fill="#444">60</text>
<text x="536.40" y="513.66" font-size="5" text-anchor="end" fill="#444">80</text>
<text x="536.40" y="488.70" font-size="5" text-anchor="end" fill="#444">100</text>
<path d="M537.40 611.80H541.4 M537.40 586.84H541.4 M537.40 561.88H541.4 M537.40 536.92H541.4 M537.40 511.96H541.4 M537.40 487.00H541.4 M539.40 611.80H541.4 M539.40 606.81H541.4 M539.40 601.82H541.4 M539.40 596.82H541.4 M539.40 591.83H541.4 M539.40 586.84H541.4 M539.40 581.85H541.4 M539.40 576.86H541.4 M539.40 571.86H541.4 M539.40 566.87H541.4 M539.40 561.88H541.4 M539.40 556.89H541.4 M539.40 551.90H541.4 M539.40 546.90H541.4 M539.40 541.91H541.4 M539.40 536.92H541.4 M539.40 531.93H541.4 M539.40 526.94H541.4 M539.40 521.94H541.4 M539.40 516.95H541.4 M539.40 511.96H541.4 M539.40 506.97H541.4 M539.40 501.98H541.4 M539.40 496.98H541.4 M539.40 491.99H541.4 M551.00 613.70V617.70 M574.70 613.70V617.70 M594.60 613.70V617.70 M630.80 613.70V617.70 M662.60 613.70V617.70 M554.95 613.70V615.70 M558.90 613.70V615.70 M562.85 613.70V615.70 M566.80 613.70V615.70 M570.75 613.70V615.70 M578.02 613.70V615.70 M581.33 613.70V615.70 M584.65 613.70V615.70 M587.97 613.70V615.70 M591.28 613.70V615.70 M605.50 613.70V615.70 M611.87 613.70V615.70 M616.39 613.70V615.70 M619.90 613.70V615.70 M622.77 613.70V615.70 M625.19 613.70V615.70 M627.29 613.70V615.70 M629.14 613.70V615.70 M640.37 613.70V615.70 M645.97 613.70V615.70 M649.95 613.70V615.70 M653.03 613.70V615.70 M655.55 613.70V615.70 M657.67 613.70V615.70 M659.52 613.70V615.70 M661.14 613.70V615.70" stroke="#333" stroke-width="0.8" fill="none"/>
<path d="M570.20 613.70h4.5v2.8h-4.5z" fill="#111"/>
<text x="549.50" y="624.70" font-size="5.2" text-anchor="start" fill="#333">-10<tspan dy="-2" font-size="3.5">3</tspan></text>
<text x="574.70" y="624.70" font-size="5.2" text-anchor="middle" fill="#333">0</text>
<text x="594.60" y="624.70" font-size="5.2" text-anchor="start" fill="#333">10<tspan dy="-2" font-size="3.5">3</tspan></text>
<text x="630.80" y="624.70" font-size="5.2" text-anchor="start" fill="#333">10<tspan dy="-2" font-size="3.5">4</tspan></text>
<text x="662.60" y="624.70" font-size="5.2" text-anchor="start" fill="#333">10<tspan dy="-2" font-size="3.5">5</tspan></text>
<path d="M571.35 612.75 C571.82 603.11 573.40 575.91 574.19 554.88 C574.98 533.85 575.46 489.73 576.09 486.57 C576.72 483.40 577.45 518.19 577.99 535.90 C578.53 553.61 578.62 582.07 579.32 592.83 C580.01 603.58 580.74 597.89 582.16 600.42 C583.59 602.95 585.01 606.27 587.86 608.01 C590.70 609.75 594.18 610.38 599.24 610.85 C604.30 611.33 613.00 611.01 618.22 610.85 C623.43 610.70 627.39 609.75 630.55 609.91 C633.71 610.06 634.98 611.17 637.19 611.80 C639.41 612.44 642.73 613.38 643.83 613.70 L643.83 611.80 L571.35 611.80 Z" fill="#ffb4b4" fill-opacity="1.0" stroke="none"/>
<path d="M571.35 612.75 C571.82 603.11 573.40 575.91 574.19 554.88 C574.98 533.85 575.46 489.73 576.09 486.57 C576.72 483.40 577.45 518.19 577.99 535.90 C578.53 553.61 578.62 582.07 579.32 592.83 C580.01 603.58 580.74 597.89 582.16 600.42 C583.59 602.95 585.01 606.27 587.86 608.01 C590.70 609.75 594.18 610.38 599.24 610.85 C604.30 611.33 613.00 611.01 618.22 610.85 C623.43 610.70 627.39 609.75 630.55 609.91 C633.71 610.06 634.98 611.17 637.19 611.80 C639.41 612.44 642.73 613.38 643.83 613.70" fill="none" stroke="#f23c3c" stroke-width="1.0"/>
<path d="M569.83 612.75 C570.15 603.11 571.19 575.91 571.73 554.88 C572.26 533.85 572.58 486.57 573.06 486.57 C573.53 486.57 574.07 533.85 574.57 554.88 C575.08 575.91 575.84 603.11 576.09 612.75 L576.09 611.80 L569.83 611.80 Z" fill="#a0a8c8" fill-opacity="0.55" stroke="none"/>
<path d="M569.83 612.75 C570.15 603.11 571.19 575.91 571.73 554.88 C572.26 533.85 572.58 486.57 573.06 486.57 C573.53 486.57 574.07 533.85 574.57 554.88 C575.08 575.91 575.84 603.11 576.09 612.75" fill="none" stroke="#22d8fa" stroke-width="1.4"/>
<path d="M593.00 505.50H674.00 M593.00 502.50V508.50 M674.00 502.50V508.50" stroke="#222" stroke-width="1.4"/>
<rect x="826.20" y="93.58" width="38.90" height="213.42" fill="#b4b0b0" stroke="#000" stroke-width="2"/>
<path d="M845.65 99.86V86.69 M840.65 99.86h10 M840.65 86.69h10" stroke="#555" stroke-width="1.3"/>
<ellipse cx="845.65" cy="71.72" rx="5.6" ry="6.4" fill="#000"/>
<ellipse cx="845.65" cy="74.12" rx="5.6" ry="6.4" fill="#000"/>
<ellipse cx="845.65" cy="86.09" rx="5.6" ry="6.4" fill="#000"/>
<ellipse cx="845.65" cy="91.48" rx="5.6" ry="6.4" fill="#000"/>
<ellipse cx="845.65" cy="120.22" rx="5.6" ry="6.4" fill="#000"/>
<ellipse cx="845.65" cy="123.21" rx="5.6" ry="6.4" fill="#000"/>
<rect x="925.20" y="128.00" width="39.60" height="179.00" fill="#b4b0b0" stroke="#000" stroke-width="2"/>
<path d="M945.00 136.98V118.42 M940.00 136.98h10 M940.00 118.42h10" stroke="#555" stroke-width="1.3"/>
<ellipse cx="945.00" cy="105.55" rx="5.6" ry="6.4" fill="#000"/>
<ellipse cx="945.00" cy="118.12" rx="5.6" ry="6.4" fill="#000"/>
<ellipse cx="945.00" cy="142.97" rx="5.6" ry="6.4" fill="#000"/>
<path d="M796.00 37.60V307.00H994.00 M791.00 307.00H796 M791.00 277.07H796 M791.00 247.13H796 M791.00 217.20H796 M791.00 187.27H796 M791.00 157.33H796 M791.00 127.40H796 M791.00 97.47H796 M791.00 67.53H796 M791.00 37.60H796 M796.00 307.00V312.00 M895.00 307.00V312.00 M994.00 307.00V312.00" stroke="#000" stroke-width="1.6" fill="none"/>
<text x="772.80" y="312.80" font-size="16.81" font-weight="normal" fill="#000" textLength="8.00" lengthAdjust="spacingAndGlyphs">0</text>
<text x="764.80" y="282.87" font-size="16.81" font-weight="normal" fill="#000" textLength="16.00" lengthAdjust="spacingAndGlyphs">10</text>
<text x="764.80" y="252.93" font-size="16.81" font-weight="normal" fill="#000" textLength="16.00" lengthAdjust="spacingAndGlyphs">20</text>
<text x="764.80" y="223.00" font-size="16.81" font-weight="normal" fill="#000" textLength="16.00" lengthAdjust="spacingAndGlyphs">30</text>
<text x="764.80" y="193.07" font-size="16.81" font-weight="normal" fill="#000" textLength="16.00" lengthAdjust="spacingAndGlyphs">40</text>
<text x="764.80" y="163.13" font-size="16.81" font-weight="normal" fill="#000" textLength="16.00" lengthAdjust="spacingAndGlyphs">50</text>
<text x="764.80" y="133.20" font-size="16.81" font-weight="normal" fill="#000" textLength="16.00" lengthAdjust="spacingAndGlyphs">60</text>
<text x="764.80" y="103.27" font-size="16.81" font-weight="normal" fill="#000" textLength="16.00" lengthAdjust="spacingAndGlyphs">70</text>
<text x="764.80" y="73.33" font-size="16.81" font-weight="normal" fill="#000" textLength="16.00" lengthAdjust="spacingAndGlyphs">80</text>
<text x="764.80" y="43.40" font-size="16.81" font-weight="normal" fill="#000" textLength="16.00" lengthAdjust="spacingAndGlyphs">90</text>
<text x="835.10" y="335.80" font-size="18.26" font-weight="normal" fill="#000" textLength="22.20" lengthAdjust="spacingAndGlyphs">WT</text>
<text x="911.75" y="335.80" font-size="18.26" font-weight="normal" fill="#000" textLength="65.30" lengthAdjust="spacingAndGlyphs">Zeb2-cKO</text>
<path d="M841.80 42.20H943.50" stroke="#000" stroke-width="1.2"/>
<text x="888.50" y="42.00" font-size="19.57" font-weight="bold" fill="#000" stroke="#000" stroke-width="0.3" textLength="8.00" lengthAdjust="spacingAndGlyphs">*</text>
<text transform="translate(727.50,283.50) rotate(-90)" x="0" y="0" font-size="23.48" font-weight="bold" stroke="#000" stroke-width="0.3" textLength="221.50" lengthAdjust="spacingAndGlyphs">% of Ki-67<tspan dy="-9" font-size="12">+</tspan><tspan dy="9"> cells in Klrg1</tspan><tspan dy="-9" font-size="12">+</tspan></text>
<text transform="translate(753.00,215.70) rotate(-90)" x="0" y="0" font-size="23.33" font-weight="bold" stroke="#000" stroke-width="0.3" textLength="86.70" lengthAdjust="spacingAndGlyphs">iNKT cells</text>
<rect x="826.20" y="538.90" width="38.90" height="71.10" fill="#b4b0b0" stroke="#000" stroke-width="2"/>
<ellipse cx="845.65" cy="526.90" rx="5.6" ry="6.4" fill="#000"/>
<ellipse cx="845.65" cy="534.10" rx="5.6" ry="6.4" fill="#000"/>
<ellipse cx="845.65" cy="542.50" rx="5.6" ry="6.4" fill="#000"/>
<ellipse cx="845.65" cy="546.10" rx="5.6" ry="6.4" fill="#000"/>
<ellipse cx="845.65" cy="549.10" rx="5.6" ry="6.4" fill="#000"/>
<rect x="925.20" y="544.00" width="39.60" height="66.00" fill="#b4b0b0" stroke="#000" stroke-width="2"/>
<ellipse cx="945.00" cy="540.40" rx="5.6" ry="6.4" fill="#000"/>
<ellipse cx="945.00" cy="544.90" rx="5.6" ry="6.4" fill="#000"/>
<ellipse cx="945.00" cy="548.50" rx="5.6" ry="6.4" fill="#000"/>
<path d="M796.00 340.00V610.00H994.00 M791.00 610.00H796 M791.00 580.00H796 M791.00 550.00H796 M791.00 520.00H796 M791.00 490.00H796 M791.00 460.00H796 M791.00 430.00H796 M791.00 400.00H796 M791.00 370.00H796 M791.00 340.00H796 M796.00 610.00V615.00 M895.00 610.00V615.00 M994.00 610.00V615.00" stroke="#000" stroke-width="1.6" fill="none"/>
<text x="772.80" y="615.80" font-size="16.81" font-weight="normal" fill="#000" textLength="8.00" lengthAdjust="spacingAndGlyphs">0</text>
<text x="764.80" y="585.80" font-size="16.81" font-weight="normal" fill="#000" textLength="16.00" lengthAdjust="spacingAndGlyphs">10</text>
<text x="764.80" y="555.80" font-size="16.81" font-weight="normal" fill="#000" textLength="16.00" lengthAdjust="spacingAndGlyphs">20</text>
<text x="764.80" y="525.80" font-size="16.81" font-weight="normal" fill="#000" textLength="16.00" lengthAdjust="spacingAndGlyphs">30</text>
<text x="764.80" y="495.80" font-size="16.81" font-weight="normal" fill="#000" textLength="16.00" lengthAdjust="spacingAndGlyphs">40</text>
<text x="764.80" y="465.80" font-size="16.81" font-weight="normal" fill="#000" textLength="16.00" lengthAdjust="spacingAndGlyphs">50</text>
<text x="764.80" y="435.80" font-size="16.81" font-weight="normal" fill="#000" textLength="16.00" lengthAdjust="spacingAndGlyphs">60</text>
<text x="764.80" y="405.80" font-size="16.81" font-weight="normal" fill="#000" textLength="16.00" lengthAdjust="spacingAndGlyphs">70</text>
<text x="764.80" y="375.80" font-size="16.81" font-weight="normal" fill="#000" textLength="16.00" lengthAdjust="spacingAndGlyphs">80</text>
<text x="764.80" y="345.80" font-size="16.81" font-weight="normal" fill="#000" textLength="16.00" lengthAdjust="spacingAndGlyphs">90</text>
<text x="835.10" y="638.00" font-size="18.26" font-weight="normal" fill="#000" textLength="22.20" lengthAdjust="spacingAndGlyphs">WT</text>
<text x="911.75" y="638.00" font-size="18.26" font-weight="normal" fill="#000" textLength="65.30" lengthAdjust="spacingAndGlyphs">Zeb2-cKO</text>
<path d="M841.80 508.60H943.50" stroke="#000" stroke-width="1.2"/>
<text x="876.75" y="505.50" font-size="18.99" font-weight="bold" fill="#000" stroke="#000" stroke-width="0.3" textLength="32.50" lengthAdjust="spacingAndGlyphs">n.s.</text>
<text transform="translate(727.80,595.50) rotate(-90)" x="0" y="0" font-size="23.48" font-weight="bold" stroke="#000" stroke-width="0.3" textLength="241.60" lengthAdjust="spacingAndGlyphs">% of Ki-67<tspan dy="-9" font-size="12">+</tspan><tspan dy="9"> cells in tetramer</tspan></text>
<text transform="translate(753.00,535.50) rotate(-90)" x="0" y="0" font-size="23.33" font-weight="bold" stroke="#000" stroke-width="0.3" textLength="119.90" lengthAdjust="spacingAndGlyphs">negative cells</text>
<text x="997.40" y="20.80" font-size="27.54" font-weight="bold" fill="#000" stroke="#000" stroke-width="0.3" textLength="13.60" lengthAdjust="spacingAndGlyphs">b</text>
<rect x="1063.75" y="59.50" width="133.75" height="133.50" fill="none" stroke="#707070" stroke-width="1.2"/>
<path d="M1059.75 71.60H1063.75 M1059.75 103.60H1063.75 M1059.75 140.20H1063.75 M1059.75 161.90H1063.75 M1059.75 184.00H1063.75 M1061.75 93.97H1063.75 M1061.75 88.33H1063.75 M1061.75 84.33H1063.75 M1061.75 81.23H1063.75 M1061.75 78.70H1063.75 M1061.75 76.56H1063.75 M1061.75 74.70H1063.75 M1061.75 73.06H1063.75 M1061.75 129.18H1063.75 M1061.75 122.74H1063.75 M1061.75 118.16H1063.75 M1061.75 114.62H1063.75 M1061.75 111.72H1063.75 M1061.75 109.27H1063.75 M1061.75 107.15H1063.75 M1061.75 105.27H1063.75 M1061.75 143.82H1063.75 M1061.75 147.43H1063.75 M1061.75 151.05H1063.75 M1061.75 154.67H1063.75 M1061.75 158.28H1063.75 M1061.75 165.58H1063.75 M1061.75 169.27H1063.75 M1061.75 172.95H1063.75 M1061.75 176.63H1063.75 M1061.75 180.32H1063.75 M1072.30 193.00V197.00 M1096.60 193.00V197.00 M1116.50 193.00V197.00 M1152.10 193.00V197.00 M1184.10 193.00V197.00 M1076.35 193.00V195.00 M1080.40 193.00V195.00 M1084.45 193.00V195.00 M1088.50 193.00V195.00 M1092.55 193.00V195.00 M1099.92 193.00V195.00 M1103.23 193.00V195.00 M1106.55 193.00V195.00 M1109.87 193.00V195.00 M1113.18 193.00V195.00 M1127.22 193.00V195.00 M1133.49 193.00V195.00 M1137.93 193.00V195.00 M1141.38 193.00V195.00 M1144.20 193.00V195.00 M1146.59 193.00V195.00 M1148.65 193.00V195.00 M1150.47 193.00V195.00 M1161.73 193.00V195.00 M1167.37 193.00V195.00 M1171.37 193.00V195.00 M1174.47 193.00V195.00 M1177.00 193.00V195.00 M1179.14 193.00V195.00 M1181.00 193.00V195.00 M1182.64 193.00V195.00" stroke="#333" stroke-width="0.8" fill="none"/>
<path d="M1059.95 158.90h3.8v6h-3.8z M1090.60 193.00h6.2v2.6h-6.2z" fill="#111"/>
<text x="1058.75" y="73.10" font-size="5" text-anchor="end" fill="#444">10<tspan dy="-2" font-size="3.5">5</tspan></text>
<text x="1058.75" y="105.10" font-size="5" text-anchor="end" fill="#444">10<tspan dy="-2" font-size="3.5">4</tspan></text>
<text x="1058.75" y="141.70" font-size="5" text-anchor="end" fill="#444">10<tspan dy="-2" font-size="3.5">3</tspan></text>
<text x="1058.75" y="163.40" font-size="5" text-anchor="end" fill="#444">0</text>
<text x="1058.75" y="185.50" font-size="5" text-anchor="end" fill="#444">-10<tspan dy="-2" font-size="3.5">3</tspan></text>
<text x="1070.80" y="204.00" font-size="5.2" text-anchor="start" fill="#333">-10<tspan dy="-2" font-size="3.5">3</tspan></text>
<text x="1096.60" y="204.00" font-size="5.2" text-anchor="middle" fill="#333">0</text>
<text x="1116.50" y="204.00" font-size="5.2" text-anchor="start" fill="#333">10<tspan dy="-2" font-size="3.5">3</tspan></text>
<text x="1152.10" y="204.00" font-size="5.2" text-anchor="start" fill="#333">10<tspan dy="-2" font-size="3.5">4</tspan></text>
<text x="1184.10" y="204.00" font-size="5.2" text-anchor="start" fill="#333">10<tspan dy="-2" font-size="3.5">5</tspan></text>
<path d="M1101.6 137.7h0M1113.5 144.0h0M1120.3 153.5h0M1109.8 150.7h0M1111.4 141.9h0M1126.1 131.4h0M1113.5 140.7h0M1119.7 154.3h0M1103.1 136.2h0M1113.4 130.7h0M1124.8 143.9h0M1117.6 140.3h0M1118.3 142.6h0M1125.2 127.3h0M1119.1 117.8h0M1105.1 131.5h0M1106.0 149.9h0M1109.1 130.8h0M1126.0 137.9h0M1119.3 123.5h0M1106.7 140.4h0M1115.2 126.3h0M1117.5 140.8h0M1108.7 150.6h0M1104.8 143.3h0M1126.3 117.9h0M1128.1 143.3h0M1105.6 152.1h0M1108.2 147.0h0M1115.6 151.3h0M1127.2 137.4h0M1111.1 155.2h0M1121.7 131.7h0M1110.7 146.2h0M1101.3 148.1h0M1121.4 132.9h0M1122.8 131.4h0M1113.3 148.5h0M1105.1 135.5h0M1129.4 142.5h0M1118.5 138.8h0M1119.0 134.1h0M1110.6 125.1h0M1124.8 137.6h0M1103.7 148.0h0M1099.4 152.7h0M1120.7 137.7h0M1112.4 148.5h0M1116.1 127.4h0M1112.0 137.0h0M1099.5 154.8h0M1121.6 119.5h0M1123.7 136.8h0M1121.9 145.0h0M1110.7 151.3h0M1122.9 135.4h0M1126.4 117.4h0M1102.2 136.7h0M1101.1 150.9h0M1104.4 142.2h0M1120.8 128.4h0M1105.5 152.0h0M1109.4 138.9h0M1117.9 144.4h0M1122.6 135.1h0M1116.6 140.6h0M1113.4 153.8h0M1105.0 148.0h0M1123.1 151.4h0M1130.2 125.0h0M1130.1 131.6h0M1121.7 153.6h0M1118.7 138.8h0M1106.4 131.1h0M1111.2 154.4h0M1120.2 144.5h0M1128.6 120.4h0M1131.2 132.6h0M1111.6 136.1h0M1113.4 134.3h0M1112.8 143.5h0M1113.6 135.3h0M1125.3 119.9h0M1111.8 146.7h0M1109.8 148.9h0M1123.0 117.2h0M1111.4 146.1h0M1116.4 142.4h0M1117.0 149.3h0M1107.5 139.3h0M1111.9 124.7h0M1117.3 129.3h0M1101.9 144.0h0M1102.8 151.9h0M1125.8 125.7h0M1114.7 140.7h0M1127.2 122.1h0M1115.1 133.0h0M1129.5 137.9h0M1112.8 154.5h0M1110.3 144.5h0M1106.1 145.8h0M1124.2 148.6h0M1114.9 124.4h0M1120.0 151.9h0M1104.4 152.8h0M1101.4 151.1h0M1111.4 143.1h0M1122.6 132.9h0M1123.5 134.0h0M1116.9 127.8h0M1128.6 130.0h0M1101.6 140.7h0M1110.2 139.9h0M1107.7 154.9h0M1125.8 135.7h0M1105.8 152.0h0M1115.7 122.4h0M1117.9 144.7h0M1119.0 117.4h0" stroke="#000" stroke-width="2.20" stroke-linecap="round" fill="none"/>
<path d="M1113.5 139.0h0M1122.7 127.0h0M1128.8 128.9h0M1115.1 126.0h0M1121.7 141.5h0M1128.2 135.7h0M1115.2 129.2h0M1116.9 132.8h0M1112.1 134.9h0M1125.4 133.0h0M1124.3 127.1h0M1113.8 129.3h0M1128.2 141.8h0M1119.3 143.1h0M1120.0 145.4h0M1124.5 130.7h0M1126.2 128.3h0M1116.7 123.2h0M1123.2 133.7h0M1121.4 131.0h0M1129.7 130.9h0M1117.8 143.4h0M1129.6 136.6h0M1112.2 129.6h0M1125.2 134.2h0M1130.3 123.8h0M1125.5 129.4h0M1129.1 133.5h0M1127.5 129.2h0M1114.0 125.8h0M1118.5 126.4h0M1128.4 144.1h0M1123.3 126.3h0M1121.1 129.0h0M1129.8 136.5h0M1124.5 131.1h0M1110.7 128.3h0M1115.7 136.9h0M1122.3 128.1h0M1119.7 145.8h0M1116.5 127.2h0M1120.5 128.9h0M1119.4 138.1h0M1131.3 120.8h0M1121.7 134.4h0M1121.3 132.7h0M1119.9 141.6h0M1119.2 133.1h0M1121.8 134.9h0M1120.9 141.6h0M1121.8 135.4h0M1121.5 126.6h0M1117.2 126.2h0M1122.9 128.7h0M1116.0 135.9h0M1124.7 120.9h0M1131.1 134.3h0M1121.2 142.1h0M1122.2 129.6h0M1133.9 126.0h0M1121.3 140.5h0M1115.9 133.3h0M1123.9 152.1h0M1116.9 133.7h0M1125.4 134.7h0M1115.2 137.2h0M1122.4 137.4h0M1128.0 141.7h0M1124.0 136.4h0M1115.8 133.1h0M1123.0 131.1h0M1122.3 127.9h0M1130.2 150.2h0M1119.7 137.1h0M1120.5 143.6h0M1124.2 134.7h0M1120.6 135.0h0M1116.3 139.2h0M1117.9 138.1h0M1122.5 142.3h0M1121.7 141.8h0M1116.7 138.7h0M1120.6 135.6h0M1122.2 141.1h0M1110.7 136.5h0M1113.6 143.2h0M1110.9 126.6h0M1112.6 146.4h0M1114.7 135.0h0M1118.9 120.6h0M1119.9 139.1h0M1120.8 141.2h0M1119.8 134.2h0M1119.7 136.7h0M1132.2 136.8h0M1122.9 129.5h0M1117.6 145.1h0M1115.7 127.3h0M1121.3 130.9h0M1125.7 125.7h0M1118.3 137.3h0M1130.8 127.2h0M1113.1 141.4h0M1130.2 131.6h0M1109.6 145.0h0M1120.7 142.5h0M1121.6 131.3h0M1119.3 145.2h0M1131.6 131.3h0M1114.3 134.1h0M1121.2 133.4h0M1119.2 131.8h0M1119.3 136.6h0M1117.3 131.9h0M1121.0 143.9h0M1123.9 133.3h0M1124.7 137.1h0M1127.8 137.9h0M1131.7 144.2h0M1121.6 131.0h0M1126.7 138.0h0M1121.3 123.0h0M1111.7 136.7h0M1126.0 140.1h0M1114.7 141.9h0M1118.9 137.0h0M1124.1 128.1h0M1118.5 118.6h0M1116.8 120.6h0M1124.2 134.6h0M1126.8 136.8h0M1118.3 136.7h0M1119.7 138.7h0M1123.5 126.7h0M1121.8 134.5h0M1120.1 140.8h0M1131.2 131.3h0M1119.4 117.9h0M1125.1 128.6h0M1119.8 126.9h0M1126.0 122.7h0M1120.1 148.7h0M1122.1 137.6h0M1121.0 125.3h0M1121.6 137.1h0M1116.2 136.7h0M1128.6 142.1h0M1113.1 126.8h0M1112.9 142.1h0M1125.2 139.4h0M1117.0 125.4h0M1122.2 134.9h0M1117.1 135.2h0M1125.3 135.8h0M1116.1 118.3h0M1120.4 135.3h0M1120.4 130.9h0M1118.0 139.5h0M1121.5 135.0h0M1116.5 129.4h0M1122.7 126.6h0M1114.9 131.6h0M1128.4 135.5h0M1129.8 133.1h0M1120.1 123.7h0M1118.6 144.9h0M1123.6 139.6h0M1125.7 134.0h0M1120.7 135.0h0M1125.5 137.5h0M1124.5 135.3h0M1117.6 132.1h0M1116.6 141.6h0M1110.2 132.5h0M1134.9 131.5h0M1115.6 134.0h0M1128.9 132.9h0M1125.2 134.8h0M1119.7 157.7h0M1122.2 130.1h0M1119.1 137.0h0M1124.1 139.9h0M1122.6 123.4h0M1124.7 131.8h0M1120.2 123.0h0M1118.6 128.6h0M1121.6 123.2h0M1122.1 135.0h0M1115.6 129.4h0M1117.1 140.9h0M1107.9 131.5h0M1112.7 130.9h0M1126.5 129.4h0M1122.6 127.8h0M1132.5 140.9h0M1128.0 124.1h0M1115.7 142.2h0M1120.7 132.2h0M1123.6 124.7h0M1126.1 134.2h0M1124.4 129.1h0M1124.6 128.8h0M1127.0 142.6h0M1126.8 138.0h0M1120.3 134.8h0M1120.2 123.7h0M1118.8 139.0h0M1129.6 129.4h0M1116.8 145.0h0M1116.9 149.7h0M1122.1 127.5h0M1127.2 146.8h0M1113.9 145.8h0M1120.3 145.2h0M1119.7 122.3h0M1124.6 141.0h0M1133.3 147.0h0M1125.6 132.3h0M1118.9 131.9h0M1117.2 132.0h0M1107.8 135.4h0M1121.6 153.3h0M1126.0 130.5h0M1124.9 124.9h0M1118.5 120.1h0M1129.7 138.6h0M1115.3 133.6h0M1127.0 137.8h0M1123.9 127.7h0M1118.3 134.8h0" stroke="#000" stroke-width="2.20" stroke-linecap="round" fill="none"/>
<path d="M1122.2 146.2h0M1121.3 150.7h0M1117.6 148.4h0M1117.8 148.2h0M1124.1 148.7h0M1114.9 147.8h0M1105.3 147.2h0M1110.1 147.8h0M1104.1 148.8h0M1101.8 152.2h0M1116.8 145.6h0M1109.2 146.9h0M1103.3 148.9h0M1104.3 146.0h0M1122.0 148.4h0M1120.9 148.8h0M1115.2 147.4h0M1112.6 148.9h0M1109.7 151.8h0M1106.4 146.6h0M1109.7 151.5h0M1126.9 149.6h0M1110.3 150.3h0M1126.2 146.8h0M1120.8 150.8h0M1111.3 146.0h0M1118.7 146.5h0M1110.6 149.4h0M1100.5 149.4h0M1116.8 145.8h0M1120.5 147.8h0M1120.3 147.0h0M1107.3 146.2h0M1104.8 149.4h0M1112.9 151.8h0M1115.0 149.4h0M1118.0 145.1h0M1113.7 145.0h0M1118.7 145.3h0M1116.4 146.0h0M1120.5 150.8h0M1107.4 149.8h0M1109.3 147.0h0M1121.0 145.4h0M1125.5 149.3h0M1114.0 149.7h0M1125.6 150.1h0M1115.5 147.4h0M1117.5 148.8h0M1100.2 151.5h0M1117.7 145.9h0M1117.2 150.4h0M1106.6 149.5h0M1110.1 147.7h0M1112.6 147.0h0M1110.2 146.1h0M1109.4 150.7h0M1127.6 150.0h0M1128.2 146.8h0M1101.6 150.4h0" stroke="#000" stroke-width="2.20" stroke-linecap="round" fill="none"/>
<path d="M1096.6 86.7h0M1101.6 84.3h0M1112.2 90.0h0M1090.6 95.4h0M1095.1 93.8h0M1094.4 100.9h0M1092.6 108.0h0M1098.0 109.2h0M1105.1 115.6h0M1110.8 117.7h0M1094.4 127.0h0M1098.0 133.1h0M1088.7 141.2h0M1097.3 141.2h0M1136.4 138.4h0M1142.1 144.0h0M1085.9 145.5h0M1100.8 129.1h0M1092.0 144.8h0M1129.3 117.4h0M1102.3 137.6h0M1135.0 146.2h0M1139.3 147.6h0M1090.9 149.0h0" stroke="#000" stroke-width="2.30" stroke-linecap="round" fill="none"/>
<path d="M1080.70 162.10L1081.60 154.00L1084.30 150.85L1088.80 149.50L1094.20 148.60L1098.70 148.60L1103.20 149.95L1109.50 148.60L1115.80 149.50L1122.55 150.85L1128.41 152.20L1133.81 150.40L1140.56 148.15L1145.51 147.25L1149.11 149.50L1151.81 154.00L1152.71 160.30L1152.48 166.60L1151.81 172.00L1150.91 174.70L1146.41 176.05L1138.31 173.80L1129.31 171.10L1120.30 169.75L1111.30 169.30L1102.30 170.65L1095.55 169.75L1088.80 168.40L1083.40 166.60L1081.15 164.80Z" fill="#000" />
<path d="M1082.8 162.2h0M1081.2 158.7h0M1082.4 154.6h0M1081.6 156.2h0M1082.1 153.0h0M1084.1 151.1h0M1084.3 151.8h0M1086.0 150.8h0M1087.0 150.3h0M1088.9 151.0h0M1091.3 149.0h0M1090.0 149.6h0M1095.0 147.7h0M1093.7 147.5h0M1098.1 147.5h0M1098.2 148.8h0M1101.4 149.0h0M1101.6 149.0h0M1104.8 151.0h0M1105.2 148.1h0M1106.6 149.6h0M1108.8 149.5h0M1112.0 149.2h0M1114.4 149.7h0M1114.9 149.2h0M1120.4 148.7h0M1119.8 151.5h0M1122.4 150.0h0M1123.2 151.8h0M1127.5 153.2h0M1128.5 153.2h0M1129.2 151.8h0M1131.3 151.2h0M1134.6 151.5h0M1135.1 150.9h0M1137.8 147.9h0M1140.4 146.7h0M1142.2 148.1h0M1143.7 148.1h0M1145.2 147.3h0M1145.3 148.0h0M1147.1 148.3h0M1149.0 149.7h0M1148.4 149.4h0M1150.6 153.0h0M1152.2 154.9h0M1153.4 156.6h0M1152.4 157.2h0M1151.8 159.8h0M1152.9 162.6h0M1152.6 164.4h0M1153.1 166.8h0M1152.6 168.7h0M1151.5 169.2h0M1152.3 172.4h0M1151.3 172.5h0M1153.5 173.0h0M1150.7 175.0h0M1148.3 175.3h0M1149.7 176.5h0M1147.0 176.6h0M1143.8 176.3h0M1140.9 174.1h0M1138.4 174.7h0M1135.6 173.6h0M1130.3 173.2h0M1131.6 172.4h0M1126.0 169.8h0M1123.6 169.2h0M1121.0 169.2h0M1118.3 171.0h0M1112.3 169.7h0M1110.6 167.9h0M1107.7 169.5h0M1106.3 168.7h0M1103.4 172.7h0M1100.6 170.9h0M1097.8 168.9h0M1096.1 170.1h0M1094.0 171.9h0M1091.8 169.3h0M1090.4 167.1h0M1085.9 167.4h0M1084.5 167.9h0M1083.1 168.3h0M1084.2 166.8h0M1081.5 166.0h0M1082.0 163.7h0M1081.3 164.6h0M1081.1 164.6h0" stroke="#000" stroke-width="2.30" stroke-linecap="round" fill="none"/>
<path d="M1100.50 158.50 C1101.55 158.84 1104.63 160.19 1106.80 160.53 C1108.98 160.87 1111.08 160.72 1113.55 160.53 C1116.03 160.34 1120.30 158.73 1121.65 159.40 C1123.00 160.08 1123.00 163.94 1121.65 164.58 C1120.30 165.22 1116.03 163.45 1113.55 163.23 C1111.08 163.00 1108.98 162.93 1106.80 163.23 C1104.63 163.53 1101.55 165.82 1100.50 165.03 C1099.45 164.24 1100.50 159.59 1100.50 158.50Z" fill="#f2f2f2"/>
<path d="M1121.20 155.35 C1122.18 155.20 1124.95 154.75 1127.06 154.45 C1129.16 154.15 1131.56 153.63 1133.81 153.55 C1136.06 153.48 1138.61 153.70 1140.56 154.00 C1142.51 154.30 1144.31 154.38 1145.51 155.35 C1146.71 156.33 1147.31 158.35 1147.76 159.85 C1148.21 161.35 1148.36 162.93 1148.21 164.35 C1148.06 165.78 1147.76 167.50 1146.86 168.40 C1145.96 169.30 1144.61 169.60 1142.81 169.75 C1141.01 169.90 1138.31 169.60 1136.06 169.30 C1133.81 169.00 1131.56 168.25 1129.31 167.95 C1127.06 167.65 1123.98 168.18 1122.55 167.50 C1121.13 166.83 1120.98 165.93 1120.75 163.90 C1120.53 161.88 1121.13 156.78 1121.20 155.35Z" fill="#d9d9d9"/>
<ellipse cx="1135.16" cy="162.10" rx="12.50" ry="7.00" fill="none" stroke="#9a9a9a" stroke-width="0.45"/>
<ellipse cx="1135.37" cy="162.17" rx="10.75" ry="6.02" fill="none" stroke="#9a9a9a" stroke-width="0.45"/>
<ellipse cx="1135.55" cy="162.23" rx="9.24" ry="5.18" fill="none" stroke="#9a9a9a" stroke-width="0.45"/>
<ellipse cx="1135.70" cy="162.28" rx="7.95" ry="4.45" fill="none" stroke="#9a9a9a" stroke-width="0.45"/>
<ellipse cx="1135.84" cy="162.33" rx="6.84" ry="3.83" fill="none" stroke="#9a9a9a" stroke-width="0.45"/>
<ellipse cx="1135.95" cy="162.37" rx="5.88" ry="3.29" fill="none" stroke="#9a9a9a" stroke-width="0.45"/>
<ellipse cx="1136.05" cy="162.40" rx="5.06" ry="2.83" fill="none" stroke="#9a9a9a" stroke-width="0.45"/>
<ellipse cx="1138.31" cy="163.00" rx="3.4" ry="1.4" fill="#fff"/>
<ellipse cx="1094.20" cy="161.65" rx="7.9" ry="6.75" fill="#9a9a9a"/>
<ellipse cx="1094.20" cy="161.65" rx="7.90" ry="6.75" fill="none" stroke="#4a4a4a" stroke-width="0.55"/>
<ellipse cx="1094.20" cy="161.65" rx="6.32" ry="5.40" fill="none" stroke="#4a4a4a" stroke-width="0.55"/>
<ellipse cx="1094.20" cy="161.65" rx="5.06" ry="4.32" fill="none" stroke="#4a4a4a" stroke-width="0.55"/>
<ellipse cx="1094.20" cy="161.65" rx="4.04" ry="3.46" fill="none" stroke="#4a4a4a" stroke-width="0.55"/>
<ellipse cx="1094.20" cy="161.65" rx="3.24" ry="2.76" fill="none" stroke="#4a4a4a" stroke-width="0.55"/>
<ellipse cx="1094.20" cy="161.65" rx="2.59" ry="2.21" fill="none" stroke="#4a4a4a" stroke-width="0.55"/>
<ellipse cx="1093.70" cy="162.15" rx="1.2" ry="0.8" fill="#eee"/>
<path d="M1105.82 126.25L1121.47 106.05L1138.55 105.19L1139.55 109.18L1130.01 142.19L1126.45 142.76L1106.25 130.24Z" fill="none" stroke="#222" stroke-width="0.9"/>
<path d="M1120.75 168.85L1146.41 176.05L1152.71 174.25" fill="none" stroke="#333" stroke-width="0.8"/>
<text transform="translate(1050.00,226.00) rotate(-90)" x="0" y="0" font-size="18.84" font-weight="bold" stroke="#000" stroke-width="0.3" textLength="191.00" lengthAdjust="spacingAndGlyphs"><tspan font-family="'Liberation Serif', 'Times New Roman', serif" font-style="italic" font-weight="bold">α</tspan>-GC/CD1d-tetramer A-APC</text>
<text x="1070.00" y="239.50" font-size="18.12" font-weight="bold" fill="#000" stroke="#000" stroke-width="0.3" textLength="105.00" lengthAdjust="spacingAndGlyphs">TCRb-APC/Cy7</text>
<text x="1149.00" y="106.00" font-size="17.39" font-weight="bold" fill="#000" stroke="#000" stroke-width="0.3" textLength="33.50" lengthAdjust="spacingAndGlyphs">iNKT</text>
<text x="1138.80" y="125.75" font-size="11.30" font-weight="bold" fill="#000" stroke="#000" stroke-width="0.3" textLength="22.50" lengthAdjust="spacingAndGlyphs">2.05</text>
<text x="1153.30" y="165.75" font-size="11.30" font-weight="bold" fill="#000" stroke="#000" stroke-width="0.3" textLength="23.00" lengthAdjust="spacingAndGlyphs">26.4</text>
<text x="1099.50" y="191.25" font-size="17.68" font-weight="bold" fill="#000" stroke="#000" stroke-width="0.3" textLength="125.00" lengthAdjust="spacingAndGlyphs">Tetramer negative</text>
<rect x="1280.00" y="65.75" width="133.50" height="133.50" fill="none" stroke="#707070" stroke-width="1.2"/>
<path d="M1276.00 77.90H1280.0 M1276.00 109.90H1280.0 M1276.00 146.20H1280.0 M1276.00 169.00H1280.0 M1276.00 189.60H1280.0 M1278.00 100.27H1280.0 M1278.00 94.63H1280.0 M1278.00 90.63H1280.0 M1278.00 87.53H1280.0 M1278.00 85.00H1280.0 M1278.00 82.86H1280.0 M1278.00 81.00H1280.0 M1278.00 79.36H1280.0 M1278.00 135.27H1280.0 M1278.00 128.88H1280.0 M1278.00 124.35H1280.0 M1278.00 120.83H1280.0 M1278.00 117.95H1280.0 M1278.00 115.52H1280.0 M1278.00 113.42H1280.0 M1278.00 111.56H1280.0 M1278.00 150.00H1280.0 M1278.00 153.80H1280.0 M1278.00 157.60H1280.0 M1278.00 161.40H1280.0 M1278.00 165.20H1280.0 M1278.00 172.43H1280.0 M1278.00 175.87H1280.0 M1278.00 179.30H1280.0 M1278.00 182.73H1280.0 M1278.00 186.17H1280.0 M1287.50 199.25V203.25 M1311.80 199.25V203.25 M1332.40 199.25V203.25 M1368.00 199.25V203.25 M1400.00 199.25V203.25 M1291.55 199.25V201.25 M1295.60 199.25V201.25 M1299.65 199.25V201.25 M1303.70 199.25V201.25 M1307.75 199.25V201.25 M1315.23 199.25V201.25 M1318.67 199.25V201.25 M1322.10 199.25V201.25 M1325.53 199.25V201.25 M1328.97 199.25V201.25 M1343.12 199.25V201.25 M1349.39 199.25V201.25 M1353.83 199.25V201.25 M1357.28 199.25V201.25 M1360.10 199.25V201.25 M1362.49 199.25V201.25 M1364.55 199.25V201.25 M1366.37 199.25V201.25 M1377.63 199.25V201.25 M1383.27 199.25V201.25 M1387.27 199.25V201.25 M1390.37 199.25V201.25 M1392.90 199.25V201.25 M1395.04 199.25V201.25 M1396.90 199.25V201.25 M1398.54 199.25V201.25" stroke="#333" stroke-width="0.8" fill="none"/>
<path d="M1276.20 166.00h3.8v6h-3.8z M1305.80 199.25h6.2v2.6h-6.2z" fill="#111"/>
<text x="1275.00" y="79.40" font-size="5" text-anchor="end" fill="#444">10<tspan dy="-2" font-size="3.5">5</tspan></text>
<text x="1275.00" y="111.40" font-size="5" text-anchor="end" fill="#444">10<tspan dy="-2" font-size="3.5">4</tspan></text>
<text x="1275.00" y="147.70" font-size="5" text-anchor="end" fill="#444">10<tspan dy="-2" font-size="3.5">3</tspan></text>
<text x="1275.00" y="170.50" font-size="5" text-anchor="end" fill="#444">0</text>
<text x="1275.00" y="191.10" font-size="5" text-anchor="end" fill="#444">-10<tspan dy="-2" font-size="3.5">3</tspan></text>
<text x="1286.00" y="210.25" font-size="5.2" text-anchor="start" fill="#333">-10<tspan dy="-2" font-size="3.5">3</tspan></text>
<text x="1311.80" y="210.25" font-size="5.2" text-anchor="middle" fill="#333">0</text>
<text x="1332.40" y="210.25" font-size="5.2" text-anchor="start" fill="#333">10<tspan dy="-2" font-size="3.5">3</tspan></text>
<text x="1368.00" y="210.25" font-size="5.2" text-anchor="start" fill="#333">10<tspan dy="-2" font-size="3.5">4</tspan></text>
<text x="1400.00" y="210.25" font-size="5.2" text-anchor="start" fill="#333">10<tspan dy="-2" font-size="3.5">5</tspan></text>
<path d="M1307.40 117.40L1310.10 112.90L1315.40 116.90L1319.40 119.40L1327.90 119.40L1332.50 120.40L1337.60 118.90L1341.60 118.40L1350.70 117.60L1357.60 118.40L1363.20 119.90L1368.10 123.90L1370.60 128.90L1370.10 134.00L1369.40 140.80L1370.10 147.70L1367.90 153.40L1363.20 156.20L1357.60 157.40L1357.00 157.90L1359.30 154.50L1361.00 147.10L1361.60 138.60L1360.40 130.00L1357.60 124.90L1351.90 123.80L1346.20 124.90L1337.60 128.30L1329.10 132.30L1324.50 133.40L1320.60 132.90L1317.10 128.30L1311.60 120.40Z" fill="#000" />
<path d="M1308.6 116.6h0M1308.4 115.1h0M1309.8 113.5h0M1311.0 113.3h0M1312.8 114.1h0M1312.2 117.3h0M1315.2 118.3h0M1317.2 118.4h0M1319.9 118.9h0M1320.8 117.9h0M1323.1 119.2h0M1324.9 119.4h0M1328.2 121.1h0M1327.6 119.8h0M1330.3 121.2h0M1332.1 120.9h0M1333.8 120.6h0M1336.9 119.0h0M1337.6 117.5h0M1339.2 119.6h0M1339.7 119.7h0M1339.5 116.5h0M1343.2 117.6h0M1347.7 117.8h0M1350.6 118.3h0M1352.5 116.6h0M1354.1 120.2h0M1355.2 118.2h0M1360.9 119.4h0M1360.5 119.4h0M1364.1 121.1h0M1363.9 122.0h0M1366.7 123.7h0M1369.5 123.6h0M1367.5 126.0h0M1371.5 127.9h0M1370.8 131.3h0M1369.4 131.5h0M1369.7 132.3h0M1370.2 135.5h0M1368.9 135.7h0M1368.0 139.0h0M1368.9 141.2h0M1368.6 142.7h0M1370.9 145.2h0M1370.7 148.2h0M1369.0 148.0h0M1369.6 151.7h0M1368.9 151.4h0M1364.7 152.2h0M1363.9 156.3h0M1363.8 156.2h0M1361.5 157.4h0M1359.2 157.4h0" stroke="#000" stroke-width="2.30" stroke-linecap="round" fill="none"/>
<path d="M1367.1 119.9h0M1369.0 120.9h0M1362.6 115.6h0M1328.0 116.0h0M1366.3 120.8h0M1346.2 114.4h0M1333.4 114.3h0M1321.4 113.2h0M1369.2 152.3h0M1330.6 116.3h0M1367.6 117.4h0M1372.9 128.0h0M1310.9 112.0h0M1348.4 116.4h0M1369.9 153.8h0M1311.5 114.1h0M1311.8 116.2h0M1351.8 114.0h0M1369.9 126.4h0M1335.4 114.1h0M1371.9 124.5h0M1327.9 116.6h0M1328.4 119.3h0M1346.3 111.9h0M1332.6 114.1h0M1369.7 122.3h0M1344.7 113.4h0M1366.6 121.4h0M1356.0 118.4h0M1370.1 131.4h0M1370.0 126.5h0M1310.9 111.1h0M1372.3 150.9h0M1371.2 127.1h0M1369.6 155.5h0M1329.4 116.0h0M1327.6 113.0h0M1327.4 119.9h0M1312.9 118.2h0M1332.3 114.6h0M1335.9 116.2h0M1326.1 113.0h0M1339.8 118.1h0M1371.0 127.0h0M1335.9 116.8h0M1346.5 118.0h0M1362.3 114.7h0M1331.1 113.9h0M1368.9 148.5h0M1314.0 113.1h0M1315.4 112.6h0M1364.0 116.3h0M1325.4 119.5h0M1370.9 119.3h0M1368.6 118.4h0M1356.7 116.8h0M1329.1 113.7h0M1335.3 118.6h0M1370.3 131.0h0M1368.6 155.5h0M1315.6 113.7h0M1314.7 118.3h0M1369.9 124.1h0M1368.9 118.1h0M1327.3 113.1h0M1331.7 117.7h0M1357.1 113.7h0M1370.7 126.1h0M1320.6 116.1h0M1318.2 113.6h0M1359.9 115.7h0M1368.0 145.1h0M1373.2 148.9h0M1320.0 118.1h0M1371.1 145.2h0M1338.0 117.7h0M1369.3 121.6h0M1336.9 113.2h0M1341.3 113.6h0M1318.4 112.4h0M1345.7 114.9h0M1335.6 114.3h0M1369.5 148.4h0M1373.0 131.6h0M1362.6 115.1h0M1361.6 115.1h0M1350.3 116.2h0M1326.1 119.8h0M1348.3 116.7h0M1341.2 114.1h0M1368.6 134.0h0M1370.4 139.9h0M1321.1 112.5h0M1363.1 118.4h0M1332.6 114.3h0M1331.1 118.2h0M1331.0 113.4h0M1369.8 154.9h0M1368.4 119.5h0M1370.1 126.7h0M1320.7 114.1h0M1372.1 148.5h0M1367.9 139.0h0M1333.9 113.2h0M1350.9 113.7h0M1361.5 116.4h0M1310.1 112.1h0M1373.2 154.2h0M1332.8 113.4h0M1330.3 113.6h0" stroke="#000" stroke-width="2.20" stroke-linecap="round" fill="none"/>
<path d="M1321.6 109.8h0M1320.0 114.3h0M1332.8 116.7h0M1341.8 111.9h0M1350.9 112.9h0M1365.6 114.9h0M1369.4 116.9h0M1371.4 120.7h0M1373.1 123.6h0M1375.1 127.4h0M1371.1 138.4h0M1373.4 145.9h0M1374.1 153.4h0M1305.8 123.7h0M1302.6 145.1h0M1320.3 158.0h0M1324.2 157.6h0M1341.1 115.4h0M1344.6 113.9h0" stroke="#000" stroke-width="2.30" stroke-linecap="round" fill="none"/>
<path d="M1317.60 129.40 C1318.10 130.12 1319.43 132.90 1320.60 133.70 C1321.77 134.50 1323.18 134.32 1324.60 134.20 C1326.02 134.08 1326.93 133.87 1329.10 133.00 C1331.27 132.13 1334.75 130.23 1337.60 129.00 C1340.45 127.77 1343.82 126.35 1346.20 125.60 C1348.58 124.85 1350.00 124.50 1351.90 124.50 C1353.80 124.50 1356.22 124.62 1357.60 125.60 C1358.98 126.58 1359.60 128.23 1360.20 130.40 C1360.80 132.57 1361.13 135.82 1361.20 138.60 C1361.27 141.38 1361.00 144.45 1360.60 147.10 C1360.20 149.75 1359.47 152.62 1358.80 154.50 C1358.13 156.38 1358.80 157.55 1356.60 158.40 C1354.40 159.25 1349.93 159.43 1345.60 159.60 C1341.27 159.77 1335.10 159.60 1330.60 159.40 C1326.10 159.20 1320.77 163.40 1318.60 158.40 C1316.43 153.40 1317.77 134.23 1317.60 129.40Z" fill="#ececec"/>
<ellipse cx="1344.30" cy="142.40" rx="14.00" ry="17.00" fill="none" stroke="#a6a6a6" stroke-width="0.5"/>
<ellipse cx="1344.78" cy="143.52" rx="11.76" ry="14.28" fill="none" stroke="#a6a6a6" stroke-width="0.5"/>
<ellipse cx="1345.18" cy="144.46" rx="9.88" ry="12.00" fill="none" stroke="#a6a6a6" stroke-width="0.5"/>
<ellipse cx="1345.52" cy="145.25" rx="8.30" ry="10.08" fill="none" stroke="#a6a6a6" stroke-width="0.5"/>
<ellipse cx="1345.81" cy="145.91" rx="6.97" ry="8.46" fill="none" stroke="#a6a6a6" stroke-width="0.5"/>
<ellipse cx="1346.05" cy="146.47" rx="5.85" ry="7.11" fill="none" stroke="#a6a6a6" stroke-width="0.5"/>
<ellipse cx="1346.25" cy="146.94" rx="4.92" ry="5.97" fill="none" stroke="#a6a6a6" stroke-width="0.5"/>
<ellipse cx="1346.41" cy="147.33" rx="4.13" ry="5.02" fill="none" stroke="#a6a6a6" stroke-width="0.5"/>
<ellipse cx="1346.56" cy="147.66" rx="3.47" ry="4.21" fill="none" stroke="#a6a6a6" stroke-width="0.5"/>
<ellipse cx="1347.30" cy="149.40" rx="2.2" ry="2.2" fill="#fff"/>
<path d="M1317.60 135.40 Q1322.60 137.40 1328.60 133.90" stroke="#aaa" stroke-width="0.5" fill="none"/>
<path d="M1317.60 139.60 Q1322.60 141.60 1328.60 138.10" stroke="#aaa" stroke-width="0.5" fill="none"/>
<path d="M1317.60 143.80 Q1322.60 145.80 1328.60 142.30" stroke="#aaa" stroke-width="0.5" fill="none"/>
<path d="M1317.60 148.00 Q1322.60 150.00 1328.60 146.50" stroke="#aaa" stroke-width="0.5" fill="none"/>
<path d="M1317.60 152.20 Q1322.60 154.20 1328.60 150.70" stroke="#aaa" stroke-width="0.5" fill="none"/>
<path d="M1317.60 156.40 Q1322.60 158.40 1328.60 154.90" stroke="#aaa" stroke-width="0.5" fill="none"/>
<path d="M1320.60 157.40 Q1338.60 160.90 1356.60 157.40" stroke="#9a9a9a" stroke-width="1.3" fill="none"/>
<ellipse cx="1311.70" cy="140.30" rx="5.5" ry="20.4" fill="#c8c8c8" stroke="#333" stroke-width="1.5"/>
<ellipse cx="1311.70" cy="140.30" rx="3.90" ry="17.50" fill="none" stroke="#777" stroke-width="0.55"/>
<ellipse cx="1311.70" cy="140.30" rx="3.12" ry="14.00" fill="none" stroke="#777" stroke-width="0.55"/>
<ellipse cx="1311.70" cy="140.30" rx="2.50" ry="11.20" fill="none" stroke="#777" stroke-width="0.55"/>
<ellipse cx="1311.70" cy="140.30" rx="2.00" ry="8.96" fill="none" stroke="#777" stroke-width="0.55"/>
<ellipse cx="1311.70" cy="140.30" rx="1.60" ry="7.17" fill="none" stroke="#777" stroke-width="0.55"/>
<rect x="1328.90" y="107.80" width="53.10" height="59.30" fill="none" stroke="#222" stroke-width="1"/>
<text transform="translate(1266.50,226.00) rotate(-90)" x="0" y="0" font-size="18.84" font-weight="bold" stroke="#000" stroke-width="0.3" textLength="191.00" lengthAdjust="spacingAndGlyphs"><tspan font-family="'Liberation Serif', 'Times New Roman', serif" font-style="italic" font-weight="bold">α</tspan>-GC/CD1d-tetramer A-APC</text>
<text x="1318.00" y="102.50" font-size="18.12" font-weight="bold" fill="#000" stroke="#000" stroke-width="0.3" textLength="84.00" lengthAdjust="spacingAndGlyphs">Klrg1+ iNKT</text>
<text x="1385.00" y="157.50" font-size="12.32" font-weight="bold" fill="#000" stroke="#000" stroke-width="0.3" textLength="23.00" lengthAdjust="spacingAndGlyphs">47.7</text>
<text x="1295.50" y="239.80" font-size="17.39" font-weight="bold" fill="#000" stroke="#000" stroke-width="0.3" textLength="92.30" lengthAdjust="spacingAndGlyphs">Klrg1 PE-Cy7</text>
<path d="M1175.75 134.30H1230.30V131.50L1236.80 137.30L1230.30 143.10V140.30H1175.75Z" fill="#858585"/>
<path d="M1386.20 134.30H1440.50V131.50L1447.00 137.30L1440.50 143.10V140.30H1386.20Z" fill="#858585"/>
<path transform="translate(1176.00,197.90) rotate(33.905)" d="M0 -3.0H303.86V-6L310.86 0L303.86 6V3.0H0Z" fill="#858585"/>
<text x="1458.90" y="106.00" font-size="22.17" font-weight="bold" fill="#000" stroke="#000" stroke-width="0.3" textLength="28.10" lengthAdjust="spacingAndGlyphs">WT</text>
<text x="1428.80" y="252.00" font-size="22.46" font-weight="bold" fill="#000" stroke="#000" stroke-width="0.3" textLength="87.10" lengthAdjust="spacingAndGlyphs">Zeb2-cKO</text>
<text x="1393.00" y="331.00" font-size="18.12" font-weight="bold" fill="#000" stroke="#000" stroke-width="0.3" textLength="124.00" lengthAdjust="spacingAndGlyphs">Tetramer negative</text>
<text x="1458.90" y="408.20" font-size="22.17" font-weight="bold" fill="#000" stroke="#000" stroke-width="0.3" textLength="28.10" lengthAdjust="spacingAndGlyphs">WT</text>
<text x="1428.80" y="555.50" font-size="22.46" font-weight="bold" fill="#000" stroke="#000" stroke-width="0.3" textLength="86.20" lengthAdjust="spacingAndGlyphs">Zeb2-cKO</text>
<defs><radialGradient id="gd" cx="50%" cy="55%" r="55%"><stop offset="0" stop-color="#3a3a3a"/><stop offset="0.5" stop-color="#7a7a7a"/><stop offset="1" stop-color="#dcdcdc"/></radialGradient><radialGradient id="gl" cx="50%" cy="68%" r="60%"><stop offset="0" stop-color="#666"/><stop offset="0.5" stop-color="#aaa"/><stop offset="1" stop-color="#fff" stop-opacity="0"/></radialGradient></defs>
<rect x="1548.50" y="23.10" width="135.00" height="134.90" fill="none" stroke="#707070" stroke-width="1.2"/>
<path d="M1544.50 36.00H1548.5 M1544.50 68.70H1548.5 M1544.50 104.70H1548.5 M1544.50 126.80H1548.5 M1544.50 149.10H1548.5 M1546.50 58.86H1548.5 M1546.50 53.10H1548.5 M1546.50 49.01H1548.5 M1546.50 45.84H1548.5 M1546.50 43.25H1548.5 M1546.50 41.07H1548.5 M1546.50 39.17H1548.5 M1546.50 37.50H1548.5 M1546.50 93.86H1548.5 M1546.50 87.52H1548.5 M1546.50 83.03H1548.5 M1546.50 79.54H1548.5 M1546.50 76.69H1548.5 M1546.50 74.28H1548.5 M1546.50 72.19H1548.5 M1546.50 70.35H1548.5 M1546.50 108.38H1548.5 M1546.50 112.07H1548.5 M1546.50 115.75H1548.5 M1546.50 119.43H1548.5 M1546.50 123.12H1548.5 M1546.50 130.52H1548.5 M1546.50 134.23H1548.5 M1546.50 137.95H1548.5 M1546.50 141.67H1548.5 M1546.50 145.38H1548.5 M1556.60 158.00V162.00 M1581.30 158.00V162.00 M1601.00 158.00V162.00 M1638.20 158.00V162.00 M1670.60 158.00V162.00 M1560.72 158.00V160.00 M1564.83 158.00V160.00 M1568.95 158.00V160.00 M1573.07 158.00V160.00 M1577.18 158.00V160.00 M1584.58 158.00V160.00 M1587.87 158.00V160.00 M1591.15 158.00V160.00 M1594.43 158.00V160.00 M1597.72 158.00V160.00 M1612.20 158.00V160.00 M1618.75 158.00V160.00 M1623.40 158.00V160.00 M1627.00 158.00V160.00 M1629.95 158.00V160.00 M1632.44 158.00V160.00 M1634.59 158.00V160.00 M1636.50 158.00V160.00 M1647.95 158.00V160.00 M1653.66 158.00V160.00 M1657.71 158.00V160.00 M1660.85 158.00V160.00 M1663.41 158.00V160.00 M1665.58 158.00V160.00 M1667.46 158.00V160.00 M1669.12 158.00V160.00" stroke="#333" stroke-width="0.8" fill="none"/>
<path d="M1544.70 123.80h3.8v6h-3.8z M1575.30 158.00h6.2v2.6h-6.2z" fill="#111"/>
<text x="1543.50" y="37.50" font-size="5" text-anchor="end" fill="#444">10<tspan dy="-2" font-size="3.5">5</tspan></text>
<text x="1543.50" y="70.20" font-size="5" text-anchor="end" fill="#444">10<tspan dy="-2" font-size="3.5">4</tspan></text>
<text x="1543.50" y="106.20" font-size="5" text-anchor="end" fill="#444">10<tspan dy="-2" font-size="3.5">3</tspan></text>
<text x="1543.50" y="128.30" font-size="5" text-anchor="end" fill="#444">0</text>
<text x="1543.50" y="150.60" font-size="5" text-anchor="end" fill="#444">-10<tspan dy="-2" font-size="3.5">3</tspan></text>
<text x="1555.10" y="169.00" font-size="5.2" text-anchor="start" fill="#333">-10<tspan dy="-2" font-size="3.5">3</tspan></text>
<text x="1581.30" y="169.00" font-size="5.2" text-anchor="middle" fill="#333">0</text>
<text x="1601.00" y="169.00" font-size="5.2" text-anchor="start" fill="#333">10<tspan dy="-2" font-size="3.5">3</tspan></text>
<text x="1638.20" y="169.00" font-size="5.2" text-anchor="start" fill="#333">10<tspan dy="-2" font-size="3.5">4</tspan></text>
<text x="1670.60" y="169.00" font-size="5.2" text-anchor="start" fill="#333">10<tspan dy="-2" font-size="3.5">5</tspan></text>
<path d="M1621.1 116.5h0M1672.2 117.2h0M1670.7 118.3h0M1654.9 117.1h0M1631.9 116.0h0M1632.6 120.0h0M1626.2 118.5h0M1607.2 122.5h0M1608.6 120.4h0M1613.8 112.9h0M1633.4 118.3h0M1650.2 117.4h0M1641.9 115.9h0M1640.5 120.2h0M1638.2 120.1h0M1665.3 115.0h0M1655.0 123.1h0M1630.1 117.2h0M1617.3 118.7h0M1636.9 112.8h0M1651.1 119.1h0M1661.8 113.9h0M1650.9 112.7h0M1626.2 117.9h0M1604.1 121.8h0M1673.9 115.4h0M1635.2 114.3h0M1630.1 121.3h0M1615.9 120.7h0M1667.7 117.4h0M1665.5 118.6h0M1666.0 114.4h0M1651.1 113.6h0M1655.5 113.2h0M1635.6 116.5h0M1608.3 120.0h0M1612.8 116.5h0M1611.1 117.6h0M1673.5 119.7h0M1601.6 110.9h0M1635.9 120.5h0M1610.2 118.6h0M1670.7 114.3h0M1669.9 116.8h0M1651.4 112.8h0M1650.3 119.3h0M1610.7 117.6h0M1607.2 116.8h0M1628.7 113.6h0M1666.1 118.8h0M1611.1 119.1h0M1670.5 119.5h0M1600.3 112.7h0M1648.0 116.4h0M1613.2 116.1h0M1640.6 120.3h0M1625.7 119.9h0M1614.4 119.0h0M1615.0 120.3h0M1621.5 117.7h0M1667.9 125.2h0M1657.5 116.7h0M1620.7 117.4h0M1639.7 113.9h0M1667.1 118.4h0M1655.1 118.3h0M1619.8 121.2h0M1665.4 118.7h0M1650.3 113.7h0M1622.7 117.6h0M1646.6 117.7h0M1637.9 119.6h0M1670.2 117.8h0M1611.8 116.0h0M1605.3 117.9h0M1654.4 118.0h0M1638.9 114.4h0M1604.4 115.0h0M1626.2 117.8h0M1613.1 120.8h0M1647.7 118.1h0M1612.1 117.4h0M1660.9 119.0h0M1652.5 117.7h0M1664.3 112.7h0M1612.4 115.9h0M1647.8 121.3h0M1635.5 117.9h0M1655.8 114.2h0M1603.8 110.3h0M1675.3 118.0h0M1648.2 117.1h0M1643.4 124.4h0M1658.3 114.7h0M1634.3 119.5h0M1611.0 121.3h0M1633.3 119.6h0M1638.6 114.2h0M1656.1 118.0h0M1616.8 115.1h0M1603.0 116.3h0M1657.6 119.6h0M1609.4 112.6h0M1664.7 120.5h0M1623.3 122.7h0M1651.0 120.0h0M1606.6 116.6h0M1634.6 123.1h0M1637.6 118.7h0M1608.3 112.2h0M1652.8 114.7h0M1617.6 118.5h0M1659.2 118.0h0M1625.9 119.3h0M1641.2 119.1h0M1646.4 115.2h0M1629.8 116.3h0M1649.6 118.6h0M1622.9 123.6h0M1616.9 120.8h0M1605.6 121.8h0M1611.4 119.7h0M1630.8 117.1h0M1659.6 115.9h0M1650.0 113.5h0M1622.9 117.4h0M1648.0 118.6h0M1662.6 115.6h0M1648.7 112.4h0M1647.3 111.3h0M1653.4 111.7h0M1631.8 122.2h0M1650.4 122.7h0M1656.3 120.5h0M1645.4 119.5h0M1671.5 119.2h0M1600.9 113.3h0M1654.9 124.9h0M1601.1 117.4h0M1654.0 118.0h0M1628.8 116.2h0M1602.6 113.0h0M1632.3 118.5h0M1636.5 120.9h0M1666.1 119.1h0M1628.9 113.3h0M1638.1 110.7h0M1668.5 122.8h0M1626.5 121.2h0M1630.3 113.2h0M1613.1 116.3h0M1655.1 123.9h0M1651.3 116.4h0M1599.2 116.5h0M1624.9 117.9h0M1629.0 118.8h0M1625.2 117.2h0M1666.4 120.5h0M1646.8 116.7h0M1633.9 115.7h0M1645.6 111.9h0M1653.5 118.4h0M1649.9 124.3h0M1638.2 119.4h0M1608.7 121.4h0M1602.5 118.6h0M1611.3 118.5h0M1645.6 111.0h0M1642.2 115.8h0M1660.2 116.6h0" stroke="#000" stroke-width="2.30" stroke-linecap="round" fill="none"/>
<path d="M1625.2 113.8h0M1647.6 109.0h0M1639.7 101.8h0M1619.7 101.0h0M1659.0 108.6h0M1652.6 110.4h0M1635.9 120.9h0M1609.8 104.1h0M1612.3 106.9h0M1646.8 107.1h0M1614.6 118.4h0M1610.2 108.5h0M1629.4 109.1h0M1615.7 112.6h0M1633.7 94.6h0M1622.5 115.5h0M1650.1 110.3h0M1660.3 113.1h0M1663.3 101.2h0M1629.9 115.5h0M1612.6 113.8h0M1631.0 122.8h0M1633.9 109.8h0M1607.6 116.8h0M1636.8 114.6h0M1644.9 109.8h0M1640.0 100.8h0M1652.4 114.8h0M1664.8 110.1h0M1618.4 118.1h0M1655.1 110.4h0M1655.6 102.7h0M1639.6 110.6h0M1646.0 110.6h0M1658.6 112.4h0M1653.8 113.5h0M1627.7 110.1h0M1620.9 101.6h0M1661.1 103.8h0M1666.3 110.3h0M1659.4 110.4h0M1642.7 115.6h0M1601.2 110.8h0M1653.2 115.3h0M1640.6 111.4h0M1650.3 108.2h0M1646.1 119.2h0M1637.4 109.8h0M1639.8 109.7h0M1608.9 111.1h0M1607.9 115.1h0M1612.7 108.9h0M1624.9 111.3h0M1615.8 107.1h0M1647.3 112.4h0M1624.5 99.2h0M1646.3 106.8h0M1627.2 107.5h0M1621.2 109.2h0M1663.6 108.0h0M1631.3 115.1h0M1604.5 113.8h0M1624.7 105.3h0M1662.6 111.3h0M1660.3 117.4h0M1647.4 107.2h0M1636.9 108.6h0M1655.8 112.8h0M1621.4 103.2h0M1650.2 109.7h0M1660.5 116.6h0M1666.9 119.1h0M1614.9 105.6h0M1636.0 116.2h0M1601.2 104.4h0M1647.3 120.3h0M1624.8 113.1h0M1635.7 109.7h0M1627.6 108.7h0M1625.1 113.3h0M1630.8 118.1h0M1630.5 113.7h0M1644.7 116.3h0M1629.3 115.6h0M1601.0 115.2h0M1664.1 121.1h0M1638.7 116.3h0M1614.8 111.2h0M1603.7 112.6h0M1625.7 103.5h0" stroke="#000" stroke-width="2.20" stroke-linecap="round" fill="none"/>
<path d="M1576.0 85.0h0M1578.0 86.5h0M1580.0 85.0h0M1582.0 88.0h0M1586.0 87.0h0M1590.0 89.0h0M1595.0 86.0h0M1596.0 90.0h0M1614.0 92.0h0M1629.0 88.0h0M1639.0 85.0h0M1658.0 86.0h0M1648.0 96.0h0M1625.0 99.0h0M1640.0 99.0h0M1605.0 104.0h0M1596.0 96.0h0M1595.0 101.0h0M1672.0 117.0h0M1597.0 106.0h0M1599.0 110.0h0" stroke="#000" stroke-width="2.20" stroke-linecap="round" fill="none"/>
<path d="M1580 88.5 C1587 88.5 1591 97 1593 106 C1595 113 1601 119 1600 124 C1598 130 1588 131 1580 131 C1572 131 1568 125 1568 116 C1568 103 1573 88.5 1580 88.5Z" fill="none" stroke="#777" stroke-width="0.55"/>
<path d="M1580.00 92.96 C1586.10 92.96 1593.00 104.19 1593.00 118.04 C1593.00 125.18 1587.18 130.96 1580.00 130.96 C1572.82 130.96 1567.00 125.18 1567.00 118.04 C1567.00 104.19 1573.90 92.96 1580.00 92.96Z" fill="url(#gl)"/>
<path d="M1580.00 92.96 C1586.10 92.96 1593.00 104.19 1593.00 118.04 C1593.00 125.18 1587.18 130.96 1580.00 130.96 C1572.82 130.96 1567.00 125.18 1567.00 118.04 C1567.00 104.19 1573.90 92.96 1580.00 92.96Z" fill="none" stroke="#6a6a6a" stroke-width="0.55"/>
<path d="M1580.00 95.84 C1585.51 95.84 1591.74 105.98 1591.74 118.48 C1591.74 124.93 1586.48 130.15 1580.00 130.15 C1573.52 130.15 1568.26 124.93 1568.26 118.48 C1568.26 105.98 1574.49 95.84 1580.00 95.84Z" fill="none" stroke="#6a6a6a" stroke-width="0.55"/>
<path d="M1580.00 98.72 C1584.92 98.72 1590.48 107.76 1590.48 118.93 C1590.48 124.68 1585.79 129.34 1580.00 129.34 C1574.21 129.34 1569.52 124.68 1569.52 118.93 C1569.52 107.76 1575.08 98.72 1580.00 98.72Z" fill="none" stroke="#6a6a6a" stroke-width="0.55"/>
<path d="M1580.00 101.59 C1584.33 101.59 1589.21 109.55 1589.21 119.37 C1589.21 124.43 1585.09 128.53 1580.00 128.53 C1574.91 128.53 1570.79 124.43 1570.79 119.37 C1570.79 109.55 1575.67 101.59 1580.00 101.59Z" fill="none" stroke="#6a6a6a" stroke-width="0.55"/>
<path d="M1580.00 104.47 C1583.73 104.47 1587.95 111.34 1587.95 119.81 C1587.95 124.18 1584.39 127.71 1580.00 127.71 C1575.61 127.71 1572.05 124.18 1572.05 119.81 C1572.05 111.34 1576.27 104.47 1580.00 104.47Z" fill="none" stroke="#6a6a6a" stroke-width="0.55"/>
<path d="M1580.00 107.35 C1583.14 107.35 1586.69 113.13 1586.69 120.25 C1586.69 123.93 1583.69 126.90 1580.00 126.90 C1576.31 126.90 1573.31 123.93 1573.31 120.25 C1573.31 113.13 1576.86 107.35 1580.00 107.35Z" fill="none" stroke="#6a6a6a" stroke-width="0.55"/>
<path d="M1580.00 110.23 C1582.55 110.23 1585.43 114.91 1585.43 120.70 C1585.43 123.68 1583.00 126.09 1580.00 126.09 C1577.00 126.09 1574.57 123.68 1574.57 120.70 C1574.57 114.91 1577.45 110.23 1580.00 110.23Z" fill="none" stroke="#6a6a6a" stroke-width="0.55"/>
<path d="M1580.00 113.10 C1581.96 113.10 1584.17 116.70 1584.17 121.14 C1584.17 123.43 1582.30 125.28 1580.00 125.28 C1577.70 125.28 1575.83 123.43 1575.83 121.14 C1575.83 116.70 1578.04 113.10 1580.00 113.10Z" fill="none" stroke="#6a6a6a" stroke-width="0.55"/>
<path d="M1580.00 115.98 C1581.36 115.98 1582.90 118.49 1582.90 121.58 C1582.90 123.18 1581.60 124.47 1580.00 124.47 C1578.40 124.47 1577.10 123.18 1577.10 121.58 C1577.10 118.49 1578.64 115.98 1580.00 115.98Z" fill="none" stroke="#6a6a6a" stroke-width="0.55"/>
<path d="M1580.00 118.86 C1580.77 118.86 1581.64 120.28 1581.64 122.02 C1581.64 122.93 1580.91 123.66 1580.00 123.66 C1579.09 123.66 1578.36 122.93 1578.36 122.02 C1578.36 120.28 1579.23 118.86 1580.00 118.86Z" fill="none" stroke="#6a6a6a" stroke-width="0.55"/>
<path d="M1683.50 52.20H1668.40 M1642.80 52.20H1600.40V142.60H1683.50" fill="none" stroke="#222" stroke-width="1.1"/>
<text x="1643.80" y="52.50" font-size="12.32" font-weight="bold" fill="#000" stroke="#000" stroke-width="0.3" textLength="23.60" lengthAdjust="spacingAndGlyphs">7.41</text>
<rect x="1548.40" y="173.20" width="135.30" height="135.30" fill="none" stroke="#707070" stroke-width="1.2"/>
<path d="M1544.40 186.10H1548.4 M1544.40 218.80H1548.4 M1544.40 254.80H1548.4 M1544.40 276.90H1548.4 M1544.40 299.20H1548.4 M1546.40 208.96H1548.4 M1546.40 203.20H1548.4 M1546.40 199.11H1548.4 M1546.40 195.94H1548.4 M1546.40 193.35H1548.4 M1546.40 191.17H1548.4 M1546.40 189.27H1548.4 M1546.40 187.60H1548.4 M1546.40 243.96H1548.4 M1546.40 237.62H1548.4 M1546.40 233.13H1548.4 M1546.40 229.64H1548.4 M1546.40 226.79H1548.4 M1546.40 224.38H1548.4 M1546.40 222.29H1548.4 M1546.40 220.45H1548.4 M1546.40 258.48H1548.4 M1546.40 262.17H1548.4 M1546.40 265.85H1548.4 M1546.40 269.53H1548.4 M1546.40 273.22H1548.4 M1546.40 280.62H1548.4 M1546.40 284.33H1548.4 M1546.40 288.05H1548.4 M1546.40 291.77H1548.4 M1546.40 295.48H1548.4 M1556.50 308.50V312.50 M1581.20 308.50V312.50 M1600.90 308.50V312.50 M1638.10 308.50V312.50 M1670.50 308.50V312.50 M1560.62 308.50V310.50 M1564.73 308.50V310.50 M1568.85 308.50V310.50 M1572.97 308.50V310.50 M1577.08 308.50V310.50 M1584.48 308.50V310.50 M1587.77 308.50V310.50 M1591.05 308.50V310.50 M1594.33 308.50V310.50 M1597.62 308.50V310.50 M1612.10 308.50V310.50 M1618.65 308.50V310.50 M1623.30 308.50V310.50 M1626.90 308.50V310.50 M1629.85 308.50V310.50 M1632.34 308.50V310.50 M1634.49 308.50V310.50 M1636.40 308.50V310.50 M1647.85 308.50V310.50 M1653.56 308.50V310.50 M1657.61 308.50V310.50 M1660.75 308.50V310.50 M1663.31 308.50V310.50 M1665.48 308.50V310.50 M1667.36 308.50V310.50 M1669.02 308.50V310.50" stroke="#333" stroke-width="0.8" fill="none"/>
<path d="M1544.60 273.90h3.8v6h-3.8z M1575.20 308.50h6.2v2.6h-6.2z" fill="#111"/>
<text x="1543.40" y="187.60" font-size="5" text-anchor="end" fill="#444">10<tspan dy="-2" font-size="3.5">5</tspan></text>
<text x="1543.40" y="220.30" font-size="5" text-anchor="end" fill="#444">10<tspan dy="-2" font-size="3.5">4</tspan></text>
<text x="1543.40" y="256.30" font-size="5" text-anchor="end" fill="#444">10<tspan dy="-2" font-size="3.5">3</tspan></text>
<text x="1543.40" y="278.40" font-size="5" text-anchor="end" fill="#444">0</text>
<text x="1543.40" y="300.70" font-size="5" text-anchor="end" fill="#444">-10<tspan dy="-2" font-size="3.5">3</tspan></text>
<text x="1555.00" y="319.50" font-size="5.2" text-anchor="start" fill="#333">-10<tspan dy="-2" font-size="3.5">3</tspan></text>
<text x="1581.20" y="319.50" font-size="5.2" text-anchor="middle" fill="#333">0</text>
<text x="1600.90" y="319.50" font-size="5.2" text-anchor="start" fill="#333">10<tspan dy="-2" font-size="3.5">3</tspan></text>
<text x="1638.10" y="319.50" font-size="5.2" text-anchor="start" fill="#333">10<tspan dy="-2" font-size="3.5">4</tspan></text>
<text x="1670.50" y="319.50" font-size="5.2" text-anchor="start" fill="#333">10<tspan dy="-2" font-size="3.5">5</tspan></text>
<path d="M1596 262 C1615 260 1640 261 1662 271.5 C1640 280 1615 279 1596 279" fill="none" stroke="#8a8a8a" stroke-width="0.55"/>
<path d="M1596 264 C1615 262 1640 263 1656 271.5 C1640 278 1615 277 1596 277" fill="none" stroke="#8a8a8a" stroke-width="0.55"/>
<path d="M1596 266 C1615 264 1640 265 1648 271.5 C1640 276 1615 275 1596 275" fill="none" stroke="#8a8a8a" stroke-width="0.55"/>
<path d="M1596 268 C1615 266 1640 267 1640 271.5 C1640 274 1615 273 1596 273" fill="none" stroke="#8a8a8a" stroke-width="0.55"/>
<ellipse cx="1646" cy="270.5" rx="3.5" ry="2" fill="none" stroke="#888" stroke-width="0.55"/>
<ellipse cx="1615" cy="270" rx="2.2" ry="1.4" fill="none" stroke="#888" stroke-width="0.55"/>
<path d="M1579 242.5 C1587 242.5 1592 250 1594 256 C1596 262 1602 262 1606 263 C1602 270 1598 279 1590 281.5 C1580 283 1568 281 1567.5 270 C1567 256 1572 242.5 1579 242.5Z" fill="none" stroke="#777" stroke-width="0.55"/>
<path d="M1580.00 246.04 C1586.57 246.04 1594.00 256.97 1594.00 270.46 C1594.00 277.41 1587.73 283.04 1580.00 283.04 C1572.27 283.04 1566.00 277.41 1566.00 270.46 C1566.00 256.97 1573.43 246.04 1580.00 246.04Z" fill="url(#gl)"/>
<path d="M1580.00 246.04 C1586.57 246.04 1594.00 256.97 1594.00 270.46 C1594.00 277.41 1587.73 283.04 1580.00 283.04 C1572.27 283.04 1566.00 277.41 1566.00 270.46 C1566.00 256.97 1573.43 246.04 1580.00 246.04Z" fill="none" stroke="#6a6a6a" stroke-width="0.55"/>
<path d="M1580.00 248.59 C1585.99 248.59 1592.76 258.56 1592.76 270.85 C1592.76 277.19 1587.05 282.32 1580.00 282.32 C1572.95 282.32 1567.24 277.19 1567.24 270.85 C1567.24 258.56 1574.01 248.59 1580.00 248.59Z" fill="none" stroke="#6a6a6a" stroke-width="0.55"/>
<path d="M1580.00 251.15 C1585.41 251.15 1591.52 260.15 1591.52 271.25 C1591.52 276.96 1586.36 281.60 1580.00 281.60 C1573.64 281.60 1568.48 276.96 1568.48 271.25 C1568.48 260.15 1574.59 251.15 1580.00 251.15Z" fill="none" stroke="#6a6a6a" stroke-width="0.55"/>
<path d="M1580.00 253.70 C1584.83 253.70 1590.28 261.73 1590.28 271.64 C1590.28 276.74 1585.68 280.88 1580.00 280.88 C1574.32 280.88 1569.72 276.74 1569.72 271.64 C1569.72 261.73 1575.17 253.70 1580.00 253.70Z" fill="none" stroke="#6a6a6a" stroke-width="0.55"/>
<path d="M1580.00 256.26 C1584.25 256.26 1589.04 263.32 1589.04 272.03 C1589.04 276.52 1585.00 280.16 1580.00 280.16 C1575.00 280.16 1570.96 276.52 1570.96 272.03 C1570.96 263.32 1575.75 256.26 1580.00 256.26Z" fill="none" stroke="#6a6a6a" stroke-width="0.55"/>
<path d="M1580.00 258.81 C1583.66 258.81 1587.81 264.91 1587.81 272.42 C1587.81 276.30 1584.31 279.44 1580.00 279.44 C1575.69 279.44 1572.19 276.30 1572.19 272.42 C1572.19 264.91 1576.34 258.81 1580.00 258.81Z" fill="none" stroke="#6a6a6a" stroke-width="0.55"/>
<path d="M1580.00 261.36 C1583.08 261.36 1586.57 266.49 1586.57 272.82 C1586.57 276.08 1583.63 278.72 1580.00 278.72 C1576.37 278.72 1573.43 276.08 1573.43 272.82 C1573.43 266.49 1576.92 261.36 1580.00 261.36Z" fill="none" stroke="#6a6a6a" stroke-width="0.55"/>
<path d="M1580.00 263.92 C1582.50 263.92 1585.33 268.08 1585.33 273.21 C1585.33 275.85 1582.94 278.00 1580.00 278.00 C1577.06 278.00 1574.67 275.85 1574.67 273.21 C1574.67 268.08 1577.50 263.92 1580.00 263.92Z" fill="none" stroke="#6a6a6a" stroke-width="0.55"/>
<path d="M1580.00 266.47 C1581.92 266.47 1584.09 269.66 1584.09 273.60 C1584.09 275.63 1582.26 277.28 1580.00 277.28 C1577.74 277.28 1575.91 275.63 1575.91 273.60 C1575.91 269.66 1578.08 266.47 1580.00 266.47Z" fill="none" stroke="#6a6a6a" stroke-width="0.55"/>
<path d="M1580.00 269.03 C1581.34 269.03 1582.85 271.25 1582.85 274.00 C1582.85 275.41 1581.57 276.56 1580.00 276.56 C1578.43 276.56 1577.15 275.41 1577.15 274.00 C1577.15 271.25 1578.66 269.03 1580.00 269.03Z" fill="none" stroke="#6a6a6a" stroke-width="0.55"/>
<path d="M1580.00 271.58 C1580.76 271.58 1581.61 272.84 1581.61 274.39 C1581.61 275.19 1580.89 275.84 1580.00 275.84 C1579.11 275.84 1578.39 275.19 1578.39 274.39 C1578.39 272.84 1579.24 271.58 1580.00 271.58Z" fill="none" stroke="#6a6a6a" stroke-width="0.55"/>
<path d="M1575.0 235.0h0M1578.0 240.0h0M1582.0 241.0h0M1590.0 240.0h0M1594.0 238.0h0M1596.0 245.0h0M1566.0 268.0h0M1605.0 255.0h0M1612.0 257.0h0M1620.0 257.0h0M1614.0 252.0h0M1632.0 244.0h0M1637.0 248.0h0M1645.0 243.0h0M1632.0 255.0h0M1640.0 257.0h0M1648.0 255.0h0M1651.0 251.0h0M1656.0 255.0h0M1650.0 262.0h0M1660.0 263.0h0M1658.0 268.0h0M1663.0 270.0h0M1666.0 273.0h0M1602.0 258.0h0M1608.0 260.0h0M1626.0 256.0h0M1644.0 246.0h0" stroke="#000" stroke-width="2.20" stroke-linecap="round" fill="none"/>
<path d="M1683.70 202.30H1668.40 M1642.80 202.30H1600.40V293.40H1683.70" fill="none" stroke="#222" stroke-width="1.1"/>
<text x="1643.80" y="202.80" font-size="12.32" font-weight="bold" fill="#000" stroke="#000" stroke-width="0.3" textLength="23.60" lengthAdjust="spacingAndGlyphs">15.9</text>
<rect x="1550.40" y="330.70" width="132.90" height="134.60" fill="none" stroke="#707070" stroke-width="1.2"/>
<path d="M1546.40 343.60H1550.4 M1546.40 376.30H1550.4 M1546.40 412.30H1550.4 M1546.40 434.40H1550.4 M1546.40 456.70H1550.4 M1548.40 366.46H1550.4 M1548.40 360.70H1550.4 M1548.40 356.61H1550.4 M1548.40 353.44H1550.4 M1548.40 350.85H1550.4 M1548.40 348.67H1550.4 M1548.40 346.77H1550.4 M1548.40 345.10H1550.4 M1548.40 401.46H1550.4 M1548.40 395.12H1550.4 M1548.40 390.63H1550.4 M1548.40 387.14H1550.4 M1548.40 384.29H1550.4 M1548.40 381.88H1550.4 M1548.40 379.79H1550.4 M1548.40 377.95H1550.4 M1548.40 415.98H1550.4 M1548.40 419.67H1550.4 M1548.40 423.35H1550.4 M1548.40 427.03H1550.4 M1548.40 430.72H1550.4 M1548.40 438.12H1550.4 M1548.40 441.83H1550.4 M1548.40 445.55H1550.4 M1548.40 449.27H1550.4 M1548.40 452.98H1550.4 M1558.50 465.30V469.30 M1583.20 465.30V469.30 M1602.90 465.30V469.30 M1640.10 465.30V469.30 M1672.50 465.30V469.30 M1562.62 465.30V467.30 M1566.73 465.30V467.30 M1570.85 465.30V467.30 M1574.97 465.30V467.30 M1579.08 465.30V467.30 M1586.48 465.30V467.30 M1589.77 465.30V467.30 M1593.05 465.30V467.30 M1596.33 465.30V467.30 M1599.62 465.30V467.30 M1614.10 465.30V467.30 M1620.65 465.30V467.30 M1625.30 465.30V467.30 M1628.90 465.30V467.30 M1631.85 465.30V467.30 M1634.34 465.30V467.30 M1636.49 465.30V467.30 M1638.40 465.30V467.30 M1649.85 465.30V467.30 M1655.56 465.30V467.30 M1659.61 465.30V467.30 M1662.75 465.30V467.30 M1665.31 465.30V467.30 M1667.48 465.30V467.30 M1669.36 465.30V467.30 M1671.02 465.30V467.30" stroke="#333" stroke-width="0.8" fill="none"/>
<path d="M1546.60 431.40h3.8v6h-3.8z M1577.20 465.30h6.2v2.6h-6.2z" fill="#111"/>
<text x="1545.40" y="345.10" font-size="5" text-anchor="end" fill="#444">10<tspan dy="-2" font-size="3.5">5</tspan></text>
<text x="1545.40" y="377.80" font-size="5" text-anchor="end" fill="#444">10<tspan dy="-2" font-size="3.5">4</tspan></text>
<text x="1545.40" y="413.80" font-size="5" text-anchor="end" fill="#444">10<tspan dy="-2" font-size="3.5">3</tspan></text>
<text x="1545.40" y="435.90" font-size="5" text-anchor="end" fill="#444">0</text>
<text x="1545.40" y="458.20" font-size="5" text-anchor="end" fill="#444">-10<tspan dy="-2" font-size="3.5">3</tspan></text>
<text x="1557.00" y="476.30" font-size="5.2" text-anchor="start" fill="#333">-10<tspan dy="-2" font-size="3.5">3</tspan></text>
<text x="1583.20" y="476.30" font-size="5.2" text-anchor="middle" fill="#333">0</text>
<text x="1602.90" y="476.30" font-size="5.2" text-anchor="start" fill="#333">10<tspan dy="-2" font-size="3.5">3</tspan></text>
<text x="1640.10" y="476.30" font-size="5.2" text-anchor="start" fill="#333">10<tspan dy="-2" font-size="3.5">4</tspan></text>
<text x="1672.50" y="476.30" font-size="5.2" text-anchor="start" fill="#333">10<tspan dy="-2" font-size="3.5">5</tspan></text>
<path d="M1579.2 423.6h0M1574.7 440.3h0M1573.2 427.7h0M1578.4 425.6h0M1585.5 446.4h0M1573.9 430.4h0M1576.3 427.3h0M1573.0 428.7h0M1576.4 427.1h0M1583.4 422.0h0M1586.7 423.5h0M1573.5 443.4h0M1572.2 429.2h0M1574.7 428.4h0M1580.8 423.0h0M1578.0 444.2h0M1581.0 445.2h0M1586.4 424.8h0M1571.7 439.5h0M1583.4 444.1h0M1577.2 426.3h0M1571.8 429.2h0M1573.4 432.1h0M1578.3 444.9h0M1585.3 423.4h0M1574.7 426.3h0M1574.0 442.0h0M1586.5 444.3h0M1579.4 424.9h0M1573.0 427.8h0M1580.2 446.6h0M1576.2 445.5h0M1573.4 441.3h0M1585.2 422.7h0M1572.7 435.1h0M1572.6 429.4h0M1584.3 444.9h0M1583.8 423.5h0M1579.3 445.6h0M1570.5 436.8h0M1573.3 434.9h0M1580.4 444.2h0M1584.9 424.3h0M1572.3 441.9h0M1578.2 445.2h0M1585.2 422.4h0M1580.3 445.3h0M1576.3 444.5h0M1577.4 443.0h0M1576.7 442.3h0" stroke="#000" stroke-width="2.30" stroke-linecap="round" fill="none"/>
<path d="M1600.9 430.9h0M1595.2 430.8h0M1594.8 431.3h0M1594.4 438.4h0M1594.3 427.6h0M1590.2 441.8h0M1603.5 427.4h0M1591.8 430.7h0M1603.0 428.0h0M1605.0 428.1h0M1598.2 439.5h0M1598.1 434.9h0M1595.9 430.4h0M1605.9 433.1h0M1599.5 436.2h0M1605.3 430.3h0M1590.8 441.7h0M1597.2 437.2h0M1599.3 439.7h0M1603.1 438.3h0M1601.6 436.1h0M1590.2 441.3h0M1598.6 434.1h0M1605.0 429.6h0M1591.2 441.6h0M1590.9 440.3h0M1591.8 440.2h0M1595.3 436.8h0M1598.9 432.9h0M1597.3 437.4h0M1590.5 442.0h0M1602.8 429.6h0M1601.9 435.0h0M1593.7 439.4h0M1591.5 438.4h0M1601.6 427.8h0M1598.3 436.4h0M1605.5 431.2h0M1596.3 442.4h0M1590.3 441.7h0M1594.6 432.0h0M1605.9 432.8h0M1592.5 429.6h0M1600.5 437.1h0M1593.2 440.7h0M1594.4 436.8h0M1604.4 430.2h0M1605.1 434.5h0M1599.5 430.8h0M1600.5 438.7h0M1598.7 441.1h0M1604.4 435.9h0M1599.1 436.5h0M1603.4 437.6h0M1602.6 431.8h0M1592.3 429.2h0M1600.4 436.5h0M1592.3 442.4h0M1601.8 435.8h0M1605.5 435.0h0M1593.6 438.2h0M1598.2 438.0h0M1598.0 437.5h0M1595.8 429.8h0M1593.6 439.3h0M1600.9 430.3h0M1602.5 435.9h0M1594.6 429.2h0M1595.4 435.9h0M1590.4 426.7h0M1604.8 432.6h0M1596.2 440.5h0M1605.7 432.2h0M1605.1 438.2h0M1597.4 440.0h0M1594.0 437.4h0M1599.9 435.2h0M1599.0 434.0h0M1599.0 434.1h0M1604.4 428.0h0M1603.6 439.0h0M1594.5 434.9h0M1597.3 438.9h0M1596.8 437.1h0M1591.9 427.2h0M1589.4 441.9h0M1594.9 437.4h0M1592.8 438.1h0M1595.8 439.9h0M1593.0 431.8h0M1599.3 427.8h0M1605.6 436.6h0M1605.5 429.1h0M1600.8 429.5h0M1596.5 435.8h0M1596.4 429.4h0M1600.3 430.7h0M1593.2 439.7h0M1600.3 438.7h0M1604.6 440.9h0M1597.4 435.8h0M1593.0 432.8h0M1601.0 432.1h0M1600.5 438.8h0M1599.1 427.3h0M1598.1 432.2h0M1600.9 438.4h0M1597.0 438.8h0M1590.6 440.3h0M1602.6 433.1h0M1604.8 435.8h0M1603.3 437.9h0M1597.1 442.2h0M1598.1 429.9h0M1604.1 435.3h0M1600.3 440.9h0M1589.6 442.0h0M1598.2 439.2h0M1600.0 434.8h0M1595.9 429.6h0M1593.2 427.6h0M1592.8 437.4h0M1597.9 435.9h0M1603.3 430.6h0M1592.8 438.3h0M1599.7 437.7h0M1598.0 439.0h0M1594.8 442.4h0M1598.2 431.9h0M1599.5 438.0h0M1604.5 437.1h0M1597.4 432.2h0M1595.7 431.0h0M1599.2 441.1h0M1598.7 429.6h0M1593.3 438.1h0M1598.0 442.0h0M1595.2 442.5h0M1600.2 427.4h0M1602.6 428.8h0M1601.6 428.7h0M1597.7 432.5h0M1603.8 430.8h0M1603.4 428.4h0M1603.9 433.7h0M1594.9 429.7h0M1593.9 441.8h0M1605.7 434.0h0M1596.9 436.5h0M1595.3 433.7h0" stroke="#000" stroke-width="2.40" stroke-linecap="round" fill="none"/>
<path d="M1628.4 432.4h0M1640.7 437.4h0M1618.9 434.6h0M1630.4 431.7h0M1602.7 437.1h0M1643.0 433.7h0M1611.7 436.5h0M1624.1 435.3h0M1649.8 436.8h0M1672.1 435.1h0M1638.7 431.3h0M1605.4 433.9h0M1618.1 438.4h0M1677.6 437.5h0M1613.4 436.5h0M1646.1 435.3h0M1642.4 433.1h0M1604.2 431.0h0M1613.6 430.6h0M1651.1 431.8h0M1656.0 438.4h0M1641.7 433.1h0M1640.9 436.2h0M1610.1 433.6h0M1663.5 436.3h0M1638.1 433.4h0M1667.0 433.6h0M1615.8 435.4h0M1676.4 438.0h0M1672.4 433.3h0M1623.4 433.3h0M1604.3 437.2h0M1615.4 436.7h0M1606.8 434.6h0M1603.3 432.0h0M1654.8 431.0h0M1616.9 435.9h0M1651.6 431.4h0M1606.6 436.7h0M1668.4 435.8h0M1607.1 434.8h0M1657.1 436.5h0M1648.1 430.7h0M1679.1 435.7h0M1610.1 433.1h0M1632.8 439.1h0M1641.3 431.9h0M1677.3 435.5h0M1644.9 435.6h0M1631.5 434.2h0M1654.6 438.7h0M1634.2 433.7h0M1663.6 432.5h0M1622.8 437.7h0M1609.5 433.8h0M1605.4 431.5h0M1624.5 429.6h0M1622.9 431.4h0M1612.5 432.7h0M1631.8 431.1h0M1603.9 433.9h0M1666.2 439.0h0M1642.9 439.1h0M1633.3 432.8h0M1661.8 435.0h0M1638.0 436.1h0M1622.3 435.0h0M1677.3 435.4h0M1607.4 431.7h0M1658.3 441.2h0M1643.7 436.0h0M1647.4 431.2h0M1660.7 435.8h0M1631.5 430.6h0M1609.8 437.0h0M1614.6 431.9h0M1666.4 442.2h0M1621.3 431.4h0M1647.2 433.4h0M1650.6 433.2h0M1613.1 436.5h0M1621.1 438.8h0M1602.9 434.7h0M1651.1 432.5h0M1658.4 430.3h0M1677.1 433.9h0M1677.5 431.1h0M1654.0 432.1h0M1615.2 435.9h0M1621.7 431.8h0M1656.4 430.5h0M1608.7 435.1h0M1615.1 432.3h0M1605.1 434.9h0M1607.9 438.7h0M1650.9 436.9h0M1677.1 438.0h0M1652.4 433.5h0M1620.7 433.4h0M1660.9 435.6h0M1679.1 431.6h0M1629.6 431.5h0M1674.9 431.8h0M1643.3 433.7h0M1653.1 436.0h0M1623.6 431.9h0M1618.8 431.8h0M1635.7 437.9h0M1662.5 431.6h0M1618.3 432.8h0M1661.2 435.9h0M1639.3 437.4h0M1606.9 430.5h0M1637.1 438.8h0M1666.2 438.4h0M1613.8 436.5h0M1604.3 434.0h0M1668.7 435.7h0M1675.8 436.7h0M1606.4 433.9h0M1611.7 438.6h0M1629.2 436.7h0M1637.9 432.1h0M1602.6 437.0h0M1649.9 436.8h0M1655.0 434.4h0M1624.6 435.5h0M1622.9 434.3h0M1605.1 437.6h0M1657.0 434.2h0M1656.6 437.1h0M1657.1 434.9h0M1662.7 430.2h0M1601.1 432.5h0M1622.3 438.6h0M1623.2 432.3h0M1646.3 430.1h0M1602.1 433.8h0M1609.0 431.1h0M1651.3 432.4h0M1648.2 432.9h0M1663.0 438.7h0M1617.4 436.3h0M1655.9 432.2h0M1606.5 438.1h0M1638.9 432.7h0M1676.4 433.5h0M1636.4 431.9h0M1649.4 430.1h0M1634.8 434.9h0M1607.3 433.8h0M1612.3 432.8h0M1616.0 435.2h0M1642.1 432.7h0M1665.5 432.2h0M1616.8 436.4h0M1638.0 438.4h0M1604.3 434.5h0M1604.0 431.5h0M1600.4 429.7h0M1662.7 434.9h0M1626.0 439.0h0M1639.5 435.4h0M1651.6 433.7h0M1653.5 432.0h0M1614.1 434.7h0M1614.0 430.9h0M1679.0 438.4h0M1607.3 435.4h0M1639.7 438.0h0M1641.1 435.7h0M1673.4 436.2h0M1614.2 437.4h0M1679.0 436.5h0M1635.5 436.2h0M1641.3 435.4h0M1660.4 430.5h0M1636.8 436.1h0M1634.0 434.8h0M1615.8 432.1h0M1604.6 435.5h0M1679.3 435.2h0M1656.7 428.8h0M1628.0 435.8h0M1622.4 436.4h0M1657.5 437.8h0M1605.8 441.5h0M1631.1 432.2h0M1659.0 436.3h0M1607.6 431.5h0M1675.1 434.0h0M1630.2 429.2h0M1610.2 435.0h0M1668.6 434.4h0M1621.6 435.8h0M1625.6 434.9h0M1670.7 431.6h0M1641.3 434.4h0M1612.1 434.4h0M1655.5 433.8h0M1609.4 438.3h0M1676.8 435.8h0M1643.0 436.7h0M1649.2 435.7h0M1643.7 435.3h0M1642.1 432.0h0M1640.8 439.7h0M1659.1 434.0h0M1600.5 436.2h0M1669.3 434.5h0M1656.0 439.0h0M1609.9 437.5h0M1638.7 435.3h0M1655.1 433.2h0M1633.6 432.9h0M1617.7 438.5h0M1636.6 437.5h0M1618.7 435.9h0M1611.6 433.1h0M1622.2 434.2h0M1652.2 436.1h0M1676.7 433.1h0M1610.7 438.4h0M1674.3 432.1h0M1622.1 437.1h0M1642.2 432.1h0M1648.1 436.7h0M1621.6 435.3h0M1613.1 434.2h0M1636.0 436.5h0M1657.1 438.4h0M1603.7 431.5h0M1648.0 435.5h0M1624.5 440.9h0M1677.8 432.3h0M1648.6 434.8h0M1631.1 436.4h0M1648.2 435.3h0M1622.7 432.6h0M1645.9 432.3h0M1660.8 434.8h0M1603.1 437.2h0M1603.2 435.3h0M1606.5 430.3h0M1676.0 439.1h0M1604.9 436.9h0M1662.9 436.0h0M1606.5 434.1h0M1611.0 433.0h0M1657.7 437.1h0M1623.0 436.8h0M1629.3 434.4h0M1603.0 440.0h0M1606.8 435.9h0M1603.4 435.0h0M1631.1 435.8h0M1600.8 434.4h0M1652.6 434.8h0M1645.1 433.8h0M1658.9 433.6h0M1649.0 432.8h0M1632.0 436.9h0M1677.9 435.3h0M1602.5 436.5h0M1627.9 433.3h0M1661.5 434.9h0M1637.0 435.4h0M1605.7 430.0h0M1678.5 431.7h0M1647.4 436.3h0M1640.6 436.5h0M1631.4 430.1h0M1666.7 431.5h0M1602.6 434.1h0M1607.5 437.1h0M1616.3 435.8h0M1614.5 432.7h0M1664.8 440.7h0M1600.3 438.4h0M1611.4 434.0h0M1678.9 438.4h0M1634.4 438.3h0M1629.2 434.3h0M1631.1 430.9h0M1667.4 435.1h0M1609.4 434.7h0M1643.1 434.5h0M1678.1 438.3h0M1614.8 436.8h0M1606.3 430.4h0M1637.7 433.0h0M1603.0 434.0h0M1669.8 429.9h0M1626.2 432.9h0M1616.7 438.8h0M1638.1 430.1h0M1657.8 433.6h0M1658.4 430.5h0M1665.7 437.6h0M1637.9 436.2h0M1637.7 434.1h0M1635.4 434.6h0M1668.4 432.2h0M1667.9 432.5h0M1642.5 432.8h0M1654.2 435.8h0M1640.9 432.5h0M1637.1 432.1h0M1617.7 431.3h0M1668.7 432.3h0M1665.8 436.4h0M1631.0 435.9h0M1647.9 435.3h0M1608.1 431.9h0M1621.4 431.5h0M1673.7 434.3h0M1627.6 434.9h0M1620.3 432.0h0M1609.1 434.0h0M1674.0 436.2h0M1654.5 432.4h0M1679.4 435.3h0M1652.6 441.9h0M1662.2 430.1h0M1638.7 433.8h0M1622.4 430.8h0M1652.3 433.1h0M1622.6 437.6h0M1634.3 433.0h0M1625.2 438.7h0M1607.5 437.2h0M1657.2 427.9h0M1666.5 436.2h0M1626.0 437.6h0M1605.6 434.1h0M1674.0 433.9h0M1617.0 433.6h0M1633.5 432.5h0M1656.6 437.6h0M1644.8 428.6h0M1633.9 433.6h0M1679.0 438.2h0M1653.5 432.0h0M1603.0 437.6h0M1652.0 430.4h0M1669.7 436.1h0M1632.5 436.0h0M1628.2 432.8h0M1636.1 434.7h0M1652.7 437.8h0M1629.3 437.2h0M1673.2 433.2h0M1600.4 436.9h0M1672.7 431.7h0M1651.2 434.5h0M1631.4 434.2h0M1650.6 433.1h0M1613.7 437.6h0M1608.5 431.4h0M1610.5 437.8h0M1658.8 437.4h0M1611.5 435.6h0M1676.9 437.3h0M1638.7 435.0h0M1628.6 431.0h0M1617.7 433.4h0M1623.8 436.5h0M1621.3 434.9h0M1646.6 436.8h0M1659.0 437.6h0M1642.9 433.4h0M1677.4 434.7h0M1618.3 431.8h0M1665.3 433.5h0M1604.3 434.8h0M1610.3 435.6h0M1675.7 434.7h0M1639.3 431.7h0M1650.8 431.1h0M1667.6 435.1h0M1620.2 431.1h0M1680.3 433.4h0M1657.4 438.2h0M1609.6 435.7h0M1657.3 433.8h0M1600.7 433.4h0M1632.0 436.9h0M1661.0 440.0h0M1621.3 438.7h0M1631.6 437.5h0M1680.8 439.2h0M1650.9 434.0h0M1652.3 428.5h0M1613.5 432.3h0M1671.2 435.9h0M1665.6 432.7h0M1661.5 434.2h0M1655.9 432.9h0M1610.7 433.8h0M1600.0 432.9h0" stroke="#000" stroke-width="2.40" stroke-linecap="round" fill="none"/>
<path d="M1634.6 430.5h0M1665.3 434.3h0M1679.4 432.4h0M1654.9 434.4h0M1672.3 434.2h0M1628.8 441.6h0M1609.6 435.6h0M1669.3 436.6h0M1615.1 435.5h0M1679.8 439.6h0M1658.3 433.4h0M1674.0 445.2h0M1673.0 439.9h0M1650.6 438.0h0M1612.3 436.2h0M1661.1 432.3h0M1649.7 436.5h0M1643.2 441.3h0M1674.1 435.1h0M1637.7 435.2h0M1626.5 437.5h0M1614.0 432.5h0M1635.9 434.6h0M1626.9 439.3h0M1627.9 435.8h0M1679.1 437.4h0M1631.8 436.0h0M1634.1 432.5h0M1675.2 432.0h0M1671.0 433.9h0M1634.1 439.4h0M1656.3 439.8h0M1666.9 430.3h0M1660.7 434.9h0M1663.8 435.8h0M1669.4 429.8h0M1615.3 435.0h0M1628.0 435.9h0M1673.7 431.3h0M1650.4 439.5h0M1679.3 433.3h0M1610.8 433.3h0M1655.3 434.2h0M1659.8 435.3h0M1627.8 441.1h0M1654.0 429.2h0M1625.3 437.5h0M1607.6 438.6h0M1619.7 444.5h0M1619.9 438.0h0" stroke="#000" stroke-width="2.20" stroke-linecap="round" fill="none"/>
<ellipse cx="1582.20" cy="434.50" rx="9.3" ry="9.6" fill="#fff"/>
<path d="M1588.20 428.00 L1595.20 434.50 L1588.20 441.00Z" fill="#fff"/>
<ellipse cx="1582.20" cy="434.50" rx="8.1" ry="8.6" fill="url(#gd)"/>
<ellipse cx="1582.20" cy="434.50" rx="8.10" ry="8.60" fill="none" stroke="#666" stroke-width="0.45"/>
<ellipse cx="1582.20" cy="434.50" rx="6.48" ry="6.88" fill="none" stroke="#666" stroke-width="0.45"/>
<ellipse cx="1582.20" cy="434.50" rx="5.18" ry="5.50" fill="none" stroke="#666" stroke-width="0.45"/>
<ellipse cx="1582.20" cy="434.50" rx="4.15" ry="4.40" fill="none" stroke="#666" stroke-width="0.45"/>
<ellipse cx="1582.20" cy="434.50" rx="3.32" ry="3.52" fill="none" stroke="#666" stroke-width="0.45"/>
<path d="M1683.30 359.80H1669.00 M1643.00 359.80H1601.30V449.20H1683.30" fill="none" stroke="#222" stroke-width="1.1"/>
<text x="1644.00" y="359.00" font-size="12.32" font-weight="bold" fill="#000" stroke="#000" stroke-width="0.3" textLength="24.00" lengthAdjust="spacingAndGlyphs">5.43</text>
<rect x="1550.40" y="480.30" width="132.90" height="133.20" fill="none" stroke="#707070" stroke-width="1.2"/>
<path d="M1546.40 493.20H1550.4 M1546.40 525.90H1550.4 M1546.40 561.90H1550.4 M1546.40 584.00H1550.4 M1546.40 606.30H1550.4 M1548.40 516.06H1550.4 M1548.40 510.30H1550.4 M1548.40 506.21H1550.4 M1548.40 503.04H1550.4 M1548.40 500.45H1550.4 M1548.40 498.27H1550.4 M1548.40 496.37H1550.4 M1548.40 494.70H1550.4 M1548.40 551.06H1550.4 M1548.40 544.72H1550.4 M1548.40 540.23H1550.4 M1548.40 536.74H1550.4 M1548.40 533.89H1550.4 M1548.40 531.48H1550.4 M1548.40 529.39H1550.4 M1548.40 527.55H1550.4 M1548.40 565.58H1550.4 M1548.40 569.27H1550.4 M1548.40 572.95H1550.4 M1548.40 576.63H1550.4 M1548.40 580.32H1550.4 M1548.40 587.72H1550.4 M1548.40 591.43H1550.4 M1548.40 595.15H1550.4 M1548.40 598.87H1550.4 M1548.40 602.58H1550.4 M1558.50 613.50V617.50 M1583.20 613.50V617.50 M1602.90 613.50V617.50 M1640.10 613.50V617.50 M1672.50 613.50V617.50 M1562.62 613.50V615.50 M1566.73 613.50V615.50 M1570.85 613.50V615.50 M1574.97 613.50V615.50 M1579.08 613.50V615.50 M1586.48 613.50V615.50 M1589.77 613.50V615.50 M1593.05 613.50V615.50 M1596.33 613.50V615.50 M1599.62 613.50V615.50 M1614.10 613.50V615.50 M1620.65 613.50V615.50 M1625.30 613.50V615.50 M1628.90 613.50V615.50 M1631.85 613.50V615.50 M1634.34 613.50V615.50 M1636.49 613.50V615.50 M1638.40 613.50V615.50 M1649.85 613.50V615.50 M1655.56 613.50V615.50 M1659.61 613.50V615.50 M1662.75 613.50V615.50 M1665.31 613.50V615.50 M1667.48 613.50V615.50 M1669.36 613.50V615.50 M1671.02 613.50V615.50" stroke="#333" stroke-width="0.8" fill="none"/>
<path d="M1546.60 581.00h3.8v6h-3.8z M1577.20 613.50h6.2v2.6h-6.2z" fill="#111"/>
<text x="1545.40" y="494.70" font-size="5" text-anchor="end" fill="#444">10<tspan dy="-2" font-size="3.5">5</tspan></text>
<text x="1545.40" y="527.40" font-size="5" text-anchor="end" fill="#444">10<tspan dy="-2" font-size="3.5">4</tspan></text>
<text x="1545.40" y="563.40" font-size="5" text-anchor="end" fill="#444">10<tspan dy="-2" font-size="3.5">3</tspan></text>
<text x="1545.40" y="585.50" font-size="5" text-anchor="end" fill="#444">0</text>
<text x="1545.40" y="607.80" font-size="5" text-anchor="end" fill="#444">-10<tspan dy="-2" font-size="3.5">3</tspan></text>
<text x="1557.00" y="624.50" font-size="5.2" text-anchor="start" fill="#333">-10<tspan dy="-2" font-size="3.5">3</tspan></text>
<text x="1583.20" y="624.50" font-size="5.2" text-anchor="middle" fill="#333">0</text>
<text x="1602.90" y="624.50" font-size="5.2" text-anchor="start" fill="#333">10<tspan dy="-2" font-size="3.5">3</tspan></text>
<text x="1640.10" y="624.50" font-size="5.2" text-anchor="start" fill="#333">10<tspan dy="-2" font-size="3.5">4</tspan></text>
<text x="1672.50" y="624.50" font-size="5.2" text-anchor="start" fill="#333">10<tspan dy="-2" font-size="3.5">5</tspan></text>
<path d="M1582.4 594.5h0M1574.7 576.6h0M1573.3 587.6h0M1571.3 584.6h0M1585.9 591.6h0M1575.9 575.5h0M1580.5 572.0h0M1585.8 593.9h0M1576.1 593.5h0M1584.0 570.3h0M1582.2 572.9h0M1585.8 592.5h0M1572.5 585.9h0M1571.6 577.9h0M1577.6 570.9h0M1573.4 574.3h0M1583.1 591.8h0M1570.7 584.9h0M1574.0 586.9h0M1581.8 592.6h0M1581.4 572.1h0M1581.0 570.0h0M1577.0 571.2h0M1577.1 590.9h0M1577.8 590.6h0M1584.0 572.7h0M1573.8 577.3h0M1572.1 580.7h0M1576.3 574.6h0M1576.2 589.9h0M1573.4 590.5h0M1585.0 573.6h0M1580.4 570.8h0M1583.6 592.3h0M1581.5 572.6h0M1583.2 571.4h0M1586.4 572.3h0M1581.5 593.9h0M1573.4 584.6h0M1579.0 570.5h0M1585.7 571.5h0M1573.3 579.2h0M1585.8 571.2h0M1573.6 575.0h0M1580.5 572.2h0M1582.4 595.3h0M1585.5 592.2h0M1573.2 582.8h0M1573.8 591.1h0M1572.8 576.9h0" stroke="#000" stroke-width="2.30" stroke-linecap="round" fill="none"/>
<path d="M1595.0 581.4h0M1593.7 587.7h0M1596.3 589.9h0M1594.2 576.5h0M1594.4 589.3h0M1594.5 588.4h0M1600.5 578.5h0M1591.4 576.0h0M1596.1 586.2h0M1593.3 590.7h0M1589.8 590.1h0M1595.2 579.0h0M1594.9 590.4h0M1597.5 589.8h0M1604.3 576.8h0M1599.4 588.1h0M1601.9 583.9h0M1597.2 584.0h0M1595.4 583.9h0M1604.0 580.1h0M1595.9 581.7h0M1603.6 578.3h0M1595.9 587.1h0M1595.1 589.0h0M1597.7 575.7h0M1594.6 576.6h0M1595.9 580.4h0M1594.1 588.5h0M1604.2 587.2h0M1601.8 589.6h0M1604.5 577.1h0M1604.2 576.8h0M1592.9 587.8h0M1590.6 590.9h0M1599.5 590.2h0M1597.7 583.4h0M1598.6 583.7h0M1598.5 585.9h0M1605.2 575.4h0M1604.2 579.5h0M1598.8 579.5h0M1605.8 577.4h0M1595.1 580.5h0M1591.8 575.3h0M1595.0 577.5h0M1599.1 582.4h0M1600.4 580.3h0M1595.2 589.3h0M1593.9 577.9h0M1591.3 578.5h0M1591.7 590.5h0M1594.0 582.5h0M1605.3 587.7h0M1605.0 583.4h0M1593.7 585.8h0M1589.9 590.6h0M1601.0 588.4h0M1591.4 591.1h0M1593.4 576.5h0M1594.5 580.2h0M1603.7 577.5h0M1597.9 589.2h0M1594.8 582.9h0M1593.6 588.4h0M1590.9 574.6h0M1604.2 577.0h0M1597.9 586.4h0M1593.9 590.3h0M1594.1 577.4h0M1589.2 589.7h0M1591.9 589.7h0M1596.2 590.3h0M1605.6 586.4h0M1602.4 577.7h0M1605.5 575.5h0M1590.3 574.3h0M1598.7 581.1h0M1603.9 575.6h0M1599.5 577.0h0M1597.2 580.0h0M1598.4 581.8h0M1600.4 577.2h0M1597.0 587.2h0M1603.6 579.5h0M1604.0 585.8h0M1604.2 577.7h0M1596.9 587.0h0M1600.7 587.8h0M1590.9 587.6h0M1598.2 576.6h0M1590.4 589.0h0M1595.2 578.8h0M1594.6 586.0h0M1590.5 576.8h0M1599.7 589.7h0M1593.1 580.2h0M1594.7 580.3h0M1592.8 587.9h0M1593.9 586.1h0M1593.9 588.0h0M1597.4 579.9h0M1592.8 579.1h0M1597.9 585.1h0M1598.3 580.7h0M1596.3 582.3h0M1604.5 580.1h0M1590.7 575.5h0M1594.1 584.0h0M1598.5 586.7h0M1599.9 575.5h0M1595.0 580.5h0M1597.5 576.1h0M1602.0 583.8h0M1592.3 577.6h0M1600.0 581.1h0M1603.4 581.2h0M1602.0 580.3h0M1598.4 575.2h0M1593.3 583.9h0M1597.2 577.9h0M1597.7 581.8h0M1600.9 589.9h0M1604.9 580.5h0M1599.6 584.6h0M1599.2 582.8h0M1593.0 589.3h0M1591.3 590.2h0M1604.9 586.5h0M1603.9 587.4h0M1599.8 587.1h0M1604.4 577.8h0M1601.1 577.1h0M1596.3 579.9h0M1599.4 585.2h0M1604.2 588.7h0M1591.9 590.7h0M1601.6 587.3h0M1598.9 589.5h0M1592.2 589.2h0M1603.9 584.6h0M1599.9 578.0h0M1596.8 584.3h0M1593.7 574.7h0M1605.1 588.1h0M1594.6 583.3h0M1598.1 586.7h0M1602.5 575.8h0M1598.5 590.3h0M1590.9 587.6h0M1593.0 589.3h0" stroke="#000" stroke-width="2.40" stroke-linecap="round" fill="none"/>
<path d="M1635.9 583.9h0M1650.5 575.0h0M1666.6 582.0h0M1611.3 587.0h0M1642.5 585.0h0M1625.4 584.6h0M1611.5 582.3h0M1610.9 590.7h0M1633.1 586.5h0M1614.8 581.6h0M1663.7 584.7h0M1620.3 578.1h0M1606.0 582.2h0M1642.7 580.8h0M1650.4 583.7h0M1602.6 581.6h0M1669.5 586.1h0M1613.7 579.4h0M1670.0 578.1h0M1666.1 573.1h0M1646.0 583.3h0M1671.4 584.8h0M1668.8 582.8h0M1651.6 586.6h0M1640.2 579.1h0M1621.3 583.3h0M1680.6 581.3h0M1604.8 582.0h0M1646.2 582.9h0M1600.9 587.3h0M1642.1 582.1h0M1641.5 580.8h0M1671.7 583.6h0M1613.5 587.6h0M1671.1 581.9h0M1604.9 582.3h0M1641.6 583.8h0M1662.1 579.7h0M1658.7 585.8h0M1654.7 585.9h0M1610.5 578.4h0M1634.0 585.3h0M1679.0 583.8h0M1635.4 583.5h0M1654.1 580.6h0M1669.9 582.3h0M1612.7 584.1h0M1667.3 578.1h0M1600.4 580.5h0M1617.5 580.8h0M1615.1 582.7h0M1600.4 583.8h0M1656.8 584.3h0M1651.7 582.3h0M1663.2 578.7h0M1635.8 583.3h0M1627.8 580.4h0M1640.3 580.0h0M1624.0 576.9h0M1664.1 579.3h0M1603.1 579.9h0M1646.5 578.9h0M1603.5 582.5h0M1615.3 583.2h0M1653.5 581.8h0M1615.0 585.3h0M1616.8 582.2h0M1673.7 577.2h0M1651.9 578.8h0M1673.9 581.6h0M1617.3 580.5h0M1665.7 586.3h0M1629.4 585.5h0M1622.5 583.9h0M1669.1 584.2h0M1645.7 576.7h0M1601.2 580.2h0M1611.3 580.7h0M1618.6 583.9h0M1676.3 585.7h0M1615.6 583.5h0M1673.7 577.5h0M1624.9 580.0h0M1637.8 581.8h0M1636.5 583.4h0M1616.3 585.2h0M1667.4 581.8h0M1611.0 581.0h0M1641.8 581.2h0M1677.5 585.4h0M1611.9 580.5h0M1673.7 585.0h0M1610.9 578.3h0M1606.0 583.8h0M1624.4 586.1h0M1634.3 586.9h0M1603.4 585.8h0M1603.9 584.0h0M1651.8 584.6h0M1634.2 585.9h0M1628.1 579.7h0M1606.3 579.1h0M1657.6 581.3h0M1657.3 580.7h0M1621.9 583.2h0M1639.9 579.7h0M1625.6 580.9h0M1629.9 583.2h0M1647.0 582.2h0M1606.7 584.2h0M1648.7 585.2h0M1615.7 583.6h0M1642.0 582.4h0M1660.7 587.3h0M1604.8 584.5h0M1674.5 579.7h0M1622.2 580.9h0M1604.3 587.1h0M1674.1 581.1h0M1623.7 586.6h0M1615.4 591.0h0M1602.2 581.4h0M1662.0 582.8h0M1632.9 578.5h0M1665.9 583.7h0M1659.6 578.2h0M1625.1 581.3h0M1674.2 581.7h0M1631.5 582.1h0M1658.6 586.3h0M1601.0 581.2h0M1604.6 582.3h0M1612.7 582.7h0M1633.1 582.7h0M1620.6 586.6h0M1633.1 580.8h0M1601.7 579.0h0M1634.7 580.0h0M1621.9 579.4h0M1679.4 577.1h0M1607.0 573.2h0M1640.7 583.9h0M1618.6 584.6h0M1608.1 587.1h0M1635.2 577.5h0M1673.7 585.1h0M1655.5 590.2h0M1603.5 584.6h0M1647.9 577.5h0M1662.4 588.2h0M1630.9 584.8h0M1674.2 587.4h0M1601.1 586.8h0M1656.5 584.5h0M1618.0 588.1h0M1664.2 585.5h0M1614.6 584.2h0M1662.3 582.6h0M1631.0 584.3h0M1640.5 581.7h0M1642.7 587.5h0M1620.4 580.8h0M1623.5 583.0h0M1633.8 582.1h0M1619.2 577.8h0M1627.3 584.5h0M1655.3 582.7h0M1618.2 582.0h0M1674.8 585.8h0M1626.2 581.7h0M1642.3 587.4h0M1678.2 581.8h0M1659.2 584.7h0M1601.2 587.4h0M1663.1 587.8h0M1621.6 580.2h0M1612.8 586.8h0M1620.4 580.8h0M1618.9 586.8h0M1617.2 586.9h0M1659.6 579.5h0M1631.5 583.1h0M1615.4 586.0h0M1619.6 582.3h0M1612.9 581.3h0M1646.4 584.7h0M1619.4 584.0h0M1635.3 586.0h0M1646.5 582.5h0M1618.3 582.1h0M1641.9 577.8h0M1600.8 585.7h0M1607.4 580.3h0M1604.4 587.8h0M1672.7 584.3h0M1623.0 581.1h0M1651.0 583.7h0M1634.5 580.3h0M1612.2 588.7h0M1617.8 580.7h0M1674.1 582.0h0M1647.1 582.2h0M1656.3 582.2h0M1655.3 583.1h0M1615.9 588.1h0M1600.0 587.0h0M1670.4 582.5h0M1657.4 578.1h0M1603.0 581.0h0M1670.1 582.5h0M1654.0 579.1h0M1614.5 580.7h0M1643.2 583.2h0M1637.4 578.8h0M1649.0 586.8h0M1619.5 583.4h0M1646.0 583.6h0M1608.9 581.5h0M1646.3 578.7h0M1651.2 579.5h0M1658.3 584.1h0M1623.4 582.1h0M1605.0 584.1h0M1660.6 588.3h0M1624.5 581.2h0M1639.5 588.2h0M1614.9 583.6h0M1653.1 582.5h0M1657.2 585.2h0M1609.1 584.8h0M1676.1 584.7h0M1603.7 585.6h0M1646.6 584.3h0M1634.7 581.4h0M1626.5 585.7h0M1663.0 577.7h0M1651.6 584.6h0M1669.3 579.4h0M1612.2 584.5h0M1618.4 584.8h0M1616.2 583.7h0M1627.4 581.6h0M1618.6 582.0h0M1616.6 583.2h0M1618.2 586.3h0M1656.6 584.1h0M1675.8 578.6h0M1643.7 584.9h0M1607.4 581.6h0M1620.9 581.4h0M1602.1 577.9h0M1676.5 579.5h0M1673.2 585.3h0M1669.6 582.0h0M1643.8 579.6h0M1644.6 585.3h0M1608.2 589.0h0M1606.5 583.2h0M1630.5 582.4h0M1631.6 583.3h0M1679.5 584.9h0M1603.5 582.4h0M1656.2 586.5h0M1648.0 585.6h0M1602.5 579.6h0M1669.2 584.7h0M1663.5 589.6h0M1609.9 583.2h0M1671.0 578.2h0M1665.6 579.4h0M1631.1 576.8h0M1667.2 584.7h0M1627.2 589.4h0M1626.2 580.1h0M1641.4 585.6h0M1665.9 584.3h0M1638.1 580.2h0M1648.7 584.2h0M1643.4 589.1h0M1672.8 581.6h0M1656.4 584.6h0M1628.5 588.2h0M1628.5 586.2h0M1612.2 584.4h0M1668.6 582.5h0M1679.4 581.2h0M1605.4 584.9h0M1645.4 584.7h0M1666.3 583.7h0M1657.4 582.0h0M1663.2 581.8h0M1673.3 583.5h0M1680.0 582.3h0M1601.0 585.3h0M1608.0 593.0h0M1620.3 581.4h0M1661.5 579.9h0M1635.3 583.9h0M1647.4 582.7h0M1673.6 583.1h0M1625.0 580.5h0M1605.4 585.7h0M1601.1 583.3h0M1602.8 583.0h0M1671.2 585.7h0M1659.7 574.9h0M1624.0 578.1h0M1611.1 576.3h0M1664.3 583.6h0M1624.8 581.1h0M1607.9 576.6h0M1640.3 581.4h0M1601.5 583.5h0M1667.9 581.9h0M1603.9 582.8h0M1622.1 579.8h0M1627.1 580.1h0M1655.7 584.0h0M1610.7 576.2h0M1660.4 582.3h0M1613.8 582.2h0M1606.9 585.6h0M1659.8 584.2h0M1674.2 577.8h0M1609.0 585.4h0M1601.2 585.4h0M1614.2 581.6h0M1650.3 585.4h0M1604.9 585.3h0M1627.3 586.4h0M1615.1 584.3h0M1635.8 585.7h0M1612.2 584.0h0M1617.9 582.0h0M1645.5 582.2h0M1676.1 582.6h0M1614.2 576.6h0M1673.8 584.2h0M1640.3 579.6h0M1676.6 581.3h0M1647.8 579.8h0M1629.1 580.7h0M1677.9 581.7h0M1662.8 579.8h0M1627.8 584.9h0M1674.8 581.0h0M1652.1 584.8h0M1619.8 582.1h0M1665.5 581.0h0M1619.1 582.6h0M1622.2 584.4h0M1655.6 584.4h0M1638.2 580.0h0M1656.7 581.8h0M1632.0 586.5h0M1656.8 581.7h0M1605.2 584.6h0M1659.6 577.4h0M1605.8 582.3h0M1615.5 580.9h0M1615.0 584.4h0M1676.3 579.3h0M1649.5 578.2h0M1618.3 582.3h0M1612.2 582.8h0M1646.0 584.5h0M1677.2 586.0h0M1620.9 581.3h0M1661.1 585.8h0M1629.6 578.9h0M1656.8 580.5h0M1667.0 582.6h0M1658.8 581.1h0M1603.8 584.4h0M1674.4 582.8h0M1652.5 578.6h0M1662.1 580.0h0M1637.9 589.0h0M1616.7 583.0h0M1628.1 586.5h0M1613.2 582.4h0M1639.8 582.5h0M1609.7 584.5h0M1641.0 585.9h0M1650.7 577.0h0M1606.5 582.7h0M1659.6 585.0h0M1646.6 581.9h0M1618.2 583.9h0M1632.2 579.5h0M1626.6 584.1h0M1637.9 579.9h0M1647.5 584.4h0M1660.8 584.7h0M1637.3 580.8h0M1609.2 578.6h0M1632.1 587.6h0M1632.9 583.5h0M1619.8 587.6h0M1650.7 584.3h0" stroke="#000" stroke-width="2.40" stroke-linecap="round" fill="none"/>
<path d="M1680.7 583.9h0M1633.9 586.4h0M1605.4 577.4h0M1662.9 578.6h0M1649.3 579.7h0M1645.1 582.8h0M1612.7 580.9h0M1604.9 580.7h0M1624.7 588.9h0M1664.3 576.7h0M1665.6 586.5h0M1630.5 583.4h0M1642.7 585.5h0M1635.8 582.3h0M1621.0 584.7h0M1665.6 591.2h0M1633.1 581.9h0M1650.4 582.6h0M1623.8 582.8h0M1609.2 578.7h0M1647.6 588.3h0M1617.5 581.1h0M1616.0 586.3h0M1661.5 578.6h0M1664.7 583.6h0M1626.8 585.4h0M1657.5 586.9h0M1672.7 578.3h0M1612.3 587.0h0M1677.1 576.1h0M1673.7 580.5h0M1607.1 589.4h0M1613.2 583.1h0M1638.2 588.7h0M1644.0 587.7h0M1643.2 577.0h0M1605.6 578.1h0M1671.3 589.3h0M1647.4 583.2h0M1654.1 584.3h0M1670.7 593.9h0M1610.2 586.4h0M1632.1 572.8h0M1667.6 581.9h0M1612.7 589.1h0M1628.1 588.7h0M1612.8 583.1h0M1678.9 584.6h0M1646.3 577.5h0M1673.1 587.7h0" stroke="#000" stroke-width="2.20" stroke-linecap="round" fill="none"/>
<ellipse cx="1582.20" cy="582.50" rx="9.3" ry="9.6" fill="#fff"/>
<path d="M1588.20 576.00 L1595.20 582.50 L1588.20 589.00Z" fill="#fff"/>
<ellipse cx="1582.20" cy="582.50" rx="8.1" ry="8.6" fill="url(#gd)"/>
<ellipse cx="1582.20" cy="582.50" rx="8.10" ry="8.60" fill="none" stroke="#666" stroke-width="0.45"/>
<ellipse cx="1582.20" cy="582.50" rx="6.48" ry="6.88" fill="none" stroke="#666" stroke-width="0.45"/>
<ellipse cx="1582.20" cy="582.50" rx="5.18" ry="5.50" fill="none" stroke="#666" stroke-width="0.45"/>
<ellipse cx="1582.20" cy="582.50" rx="4.15" ry="4.40" fill="none" stroke="#666" stroke-width="0.45"/>
<ellipse cx="1582.20" cy="582.50" rx="3.32" ry="3.52" fill="none" stroke="#666" stroke-width="0.45"/>
<path d="M1683.30 509.00H1669.00 M1643.00 509.00H1601.30V598.80H1683.30" fill="none" stroke="#222" stroke-width="1.1"/>
<text x="1644.00" y="508.50" font-size="12.32" font-weight="bold" fill="#000" stroke="#000" stroke-width="0.3" textLength="24.00" lengthAdjust="spacingAndGlyphs">5.93</text>
<text transform="translate(1533.50,609.00) rotate(-90)" x="0" y="0" font-size="16.67" font-weight="bold" stroke="#000" stroke-width="0.3" textLength="177.50" lengthAdjust="spacingAndGlyphs"><tspan font-family="'Liberation Serif', 'Times New Roman', serif" font-style="italic" font-weight="bold">α</tspan>-GC/CD1d-tetramer-APC</text>
<text x="1560.00" y="642.50" font-size="18.12" font-weight="bold" fill="#000" stroke="#000" stroke-width="0.3" textLength="111.00" lengthAdjust="spacingAndGlyphs">Annexin V-FITC</text>
<rect x="1828.00" y="240.22" width="40.40" height="82.08" fill="#b4b0b0" stroke="#000" stroke-width="2"/>
<path d="M1848.20 247.78V232.66 M1843.20 247.78h10 M1843.20 232.66h10" stroke="#555" stroke-width="1.3"/>
<ellipse cx="1848.20" cy="225.10" rx="5.6" ry="5.4" fill="#000"/>
<ellipse cx="1848.20" cy="233.74" rx="5.6" ry="5.4" fill="#000"/>
<ellipse cx="1848.20" cy="242.38" rx="5.6" ry="5.4" fill="#000"/>
<ellipse cx="1848.20" cy="267.22" rx="5.6" ry="5.4" fill="#000"/>
<rect x="1927.40" y="149.50" width="39.60" height="172.80" fill="#b4b0b0" stroke="#000" stroke-width="2"/>
<path d="M1947.20 167.86V131.14 M1942.20 167.86h10 M1942.20 131.14h10" stroke="#555" stroke-width="1.3"/>
<ellipse cx="1947.20" cy="97.66" rx="5.6" ry="5.4" fill="#000"/>
<ellipse cx="1947.20" cy="151.66" rx="5.6" ry="5.4" fill="#000"/>
<ellipse cx="1947.20" cy="171.10" rx="5.6" ry="5.4" fill="#000"/>
<ellipse cx="1947.20" cy="180.82" rx="5.6" ry="5.4" fill="#000"/>
<path d="M1798.00 52.30V322.30H1996.00 M1793.00 322.30H1798 M1793.00 268.30H1798 M1793.00 214.30H1798 M1793.00 160.30H1798 M1793.00 106.30H1798 M1793.00 52.30H1798 M1798.00 322.30V327.30 M1897.40 322.30V327.30 M1996.00 322.30V327.30" stroke="#000" stroke-width="1.6" fill="none"/>
<text x="1774.00" y="328.10" font-size="16.81" font-weight="normal" fill="#000" textLength="8.00" lengthAdjust="spacingAndGlyphs">0</text>
<text x="1774.00" y="274.10" font-size="16.81" font-weight="normal" fill="#000" textLength="8.00" lengthAdjust="spacingAndGlyphs">5</text>
<text x="1766.00" y="220.10" font-size="16.81" font-weight="normal" fill="#000" textLength="16.00" lengthAdjust="spacingAndGlyphs">10</text>
<text x="1766.00" y="166.10" font-size="16.81" font-weight="normal" fill="#000" textLength="16.00" lengthAdjust="spacingAndGlyphs">15</text>
<text x="1766.00" y="112.10" font-size="16.81" font-weight="normal" fill="#000" textLength="16.00" lengthAdjust="spacingAndGlyphs">20</text>
<text x="1766.00" y="58.10" font-size="16.81" font-weight="normal" fill="#000" textLength="16.00" lengthAdjust="spacingAndGlyphs">25</text>
<text x="1837.10" y="350.60" font-size="18.26" font-weight="normal" fill="#000" textLength="22.60" lengthAdjust="spacingAndGlyphs">WT</text>
<text x="1912.30" y="350.60" font-size="18.26" font-weight="normal" fill="#000" textLength="69.00" lengthAdjust="spacingAndGlyphs">Zeb2-CKO</text>
<path d="M1840.00 69.40H1942.00" stroke="#000" stroke-width="1.2"/>
<text x="1881.00" y="68.50" font-size="17.97" font-weight="bold" fill="#000" stroke="#000" stroke-width="0.3" textLength="20.00" lengthAdjust="spacingAndGlyphs">***</text>
<text transform="translate(1730.00,293.90) rotate(-90)" x="0" y="0" font-size="24.06" font-weight="bold" stroke="#000" stroke-width="0.3" textLength="205.50" lengthAdjust="spacingAndGlyphs">% of dead cells in Klrg1<tspan dy="-9" font-size="12">+</tspan></text>
<text transform="translate(1755.30,230.90) rotate(-90)" x="0" y="0" font-size="24.06" font-weight="bold" stroke="#000" stroke-width="0.3" textLength="88.30" lengthAdjust="spacingAndGlyphs">iNKT cells</text>
<rect x="1828.00" y="546.95" width="40.40" height="63.65" fill="#b4b0b0" stroke="#000" stroke-width="2"/>
<path d="M1848.20 552.15V541.33 M1843.20 552.15h10 M1843.20 541.33h10" stroke="#555" stroke-width="1.3"/>
<ellipse cx="1848.20" cy="529.42" rx="5.6" ry="5.4" fill="#000"/>
<ellipse cx="1848.20" cy="552.15" rx="5.6" ry="5.4" fill="#000"/>
<ellipse cx="1848.20" cy="555.40" rx="5.6" ry="5.4" fill="#000"/>
<ellipse cx="1848.20" cy="564.60" rx="5.6" ry="5.4" fill="#000"/>
<rect x="1927.40" y="540.57" width="39.60" height="70.03" fill="#b4b0b0" stroke="#000" stroke-width="2"/>
<path d="M1947.20 548.90V532.67 M1942.20 548.90h10 M1942.20 532.67h10" stroke="#555" stroke-width="1.3"/>
<ellipse cx="1947.20" cy="529.42" rx="5.6" ry="5.4" fill="#000"/>
<ellipse cx="1947.20" cy="547.82" rx="5.6" ry="5.4" fill="#000"/>
<ellipse cx="1947.20" cy="556.48" rx="5.6" ry="5.4" fill="#000"/>
<path d="M1798.00 340.00V610.60H1996.00 M1793.00 610.60H1798 M1793.00 556.48H1798 M1793.00 502.36H1798 M1793.00 448.24H1798 M1793.00 394.12H1798 M1793.00 340.00H1798 M1798.00 610.60V615.60 M1897.40 610.60V615.60 M1996.00 610.60V615.60" stroke="#000" stroke-width="1.6" fill="none"/>
<text x="1774.00" y="616.40" font-size="16.81" font-weight="normal" fill="#000" textLength="8.00" lengthAdjust="spacingAndGlyphs">0</text>
<text x="1774.00" y="562.28" font-size="16.81" font-weight="normal" fill="#000" textLength="8.00" lengthAdjust="spacingAndGlyphs">5</text>
<text x="1766.00" y="508.16" font-size="16.81" font-weight="normal" fill="#000" textLength="16.00" lengthAdjust="spacingAndGlyphs">10</text>
<text x="1766.00" y="454.04" font-size="16.81" font-weight="normal" fill="#000" textLength="16.00" lengthAdjust="spacingAndGlyphs">15</text>
<text x="1766.00" y="399.92" font-size="16.81" font-weight="normal" fill="#000" textLength="16.00" lengthAdjust="spacingAndGlyphs">20</text>
<text x="1766.00" y="345.80" font-size="16.81" font-weight="normal" fill="#000" textLength="16.00" lengthAdjust="spacingAndGlyphs">25</text>
<text x="1837.10" y="637.70" font-size="18.26" font-weight="normal" fill="#000" textLength="22.60" lengthAdjust="spacingAndGlyphs">WT</text>
<text x="1912.30" y="637.70" font-size="18.26" font-weight="normal" fill="#000" textLength="69.00" lengthAdjust="spacingAndGlyphs">Zeb2-CKO</text>
<path d="M1840.00 499.70H1942.00" stroke="#000" stroke-width="1.2"/>
<text x="1873.75" y="495.80" font-size="18.99" font-weight="bold" fill="#000" stroke="#000" stroke-width="0.3" textLength="32.50" lengthAdjust="spacingAndGlyphs">n.s.</text>
<text transform="translate(1730.00,590.90) rotate(-90)" x="0" y="0" font-size="24.06" font-weight="bold" stroke="#000" stroke-width="0.3" textLength="231.80" lengthAdjust="spacingAndGlyphs">% of dead cells in tetramer</text>
<text transform="translate(1755.30,535.00) rotate(-90)" x="0" y="0" font-size="24.06" font-weight="bold" stroke="#000" stroke-width="0.3" textLength="119.40" lengthAdjust="spacingAndGlyphs">negative cells</text>
<text x="1.30" y="693.80" font-size="27.54" font-weight="bold" fill="#000" stroke="#000" stroke-width="0.3" textLength="12.60" lengthAdjust="spacingAndGlyphs">c</text>
<text x="216.00" y="689.00" font-size="22.46" font-weight="bold" fill="#000" stroke="#000" stroke-width="0.3" textLength="317.30" lengthAdjust="spacingAndGlyphs">Long-lived effector Klrg1<tspan dy="-8" font-size="14">+</tspan><tspan dy="8"> iNKT cells</tspan></text>
<path d="M105.2 1021.5V728" stroke="#000" stroke-width="3"/>
<path d="M98.8 730.5L105.2 717.3L111.6 730.5Z" fill="#000"/>
<path d="M104 1021.3H624" stroke="#000" stroke-width="3"/>
<path d="M622.8 1015.3L635.6 1021.3L622.8 1027.3Z" fill="#000"/>
<path d="M117.2 744.8H236.9" stroke="#000" stroke-width="3.2"/>
<path d="M253.5 744.8H398.0" stroke="#000" stroke-width="3.2"/>
<path d="M406.8 744.8H499.6" stroke="#000" stroke-width="3.2"/>
<path d="M518.0 744.8H601.0" stroke="#000" stroke-width="3.2"/>
<text x="146.00" y="734.90" font-size="18.12" font-weight="bold" fill="#000" stroke="#000" stroke-width="0.3" textLength="85.60" lengthAdjust="spacingAndGlyphs">Steady state</text>
<text x="297.70" y="734.90" font-size="18.12" font-weight="bold" fill="#000" stroke="#000" stroke-width="0.3" textLength="73.90" lengthAdjust="spacingAndGlyphs">Expansion</text>
<text x="416.00" y="734.90" font-size="18.12" font-weight="bold" fill="#000" stroke="#000" stroke-width="0.3" textLength="82.50" lengthAdjust="spacingAndGlyphs">Contraction</text>
<text x="534.40" y="734.90" font-size="18.12" font-weight="bold" fill="#000" stroke="#000" stroke-width="0.3" textLength="56.00" lengthAdjust="spacingAndGlyphs">Memory</text>
<path d="M139.00 970.40 C149.17 970.40 179.50 970.40 200.00 970.40 C220.50 970.40 249.33 970.55 262.00 970.40 C274.67 970.25 272.00 970.57 276.00 969.50 C280.00 968.43 283.00 966.42 286.00 964.00 C289.00 961.58 291.33 958.47 294.00 955.00 C296.67 951.53 299.67 947.53 302.00 943.20 C304.33 938.87 305.87 934.07 308.00 929.00 C310.13 923.93 312.13 919.63 314.80 912.80 C317.47 905.97 320.80 896.80 324.00 888.00 C327.20 879.20 330.50 869.67 334.00 860.00 C337.50 850.33 341.33 839.50 345.00 830.00 C348.67 820.50 352.33 811.50 356.00 803.00 C359.67 794.50 363.33 785.83 367.00 779.00 C370.67 772.17 373.90 766.23 378.00 762.00 C382.10 757.77 387.43 754.27 391.60 753.60 C395.77 752.93 399.27 754.77 403.00 758.00 C406.73 761.23 410.33 766.00 414.00 773.00 C417.67 780.00 421.27 789.50 425.00 800.00 C428.73 810.50 432.90 825.00 436.40 836.00 C439.90 847.00 443.07 857.00 446.00 866.00 C448.93 875.00 451.33 882.83 454.00 890.00 C456.67 897.17 459.33 903.67 462.00 909.00 C464.67 914.33 467.33 918.17 470.00 922.00 C472.67 925.83 474.00 928.73 478.00 932.00 C482.00 935.27 488.67 939.20 494.00 941.60 C499.33 944.00 504.00 945.33 510.00 946.40 C516.00 947.47 521.67 947.65 530.00 948.00 C538.33 948.35 548.00 948.50 560.00 948.50 C572.00 948.50 595.00 948.08 602.00 948.00" fill="none" stroke="#ff0000" stroke-width="4.8"/>
<text x="202.50" y="885.30" font-size="18.55" font-weight="bold" fill="#000" stroke="#000" stroke-width="0.3" textLength="87.50" lengthAdjust="spacingAndGlyphs">NKT ligand</text>
<text x="202.50" y="907.70" font-size="18.55" font-weight="bold" fill="#000" stroke="#000" stroke-width="0.3" textLength="87.50" lengthAdjust="spacingAndGlyphs">stimulation</text>
<path d="M250.5 937.6H261.2V960.8H266.5L255.9 970.4L245.2 960.8H250.5Z" fill="#fff" stroke="#000" stroke-width="1.8" stroke-linejoin="miter"/>
<path d="M320.5 923.8 C333 927 343 934 351.5 948" fill="none" stroke="#44546a" stroke-width="5" stroke-dasharray="8.5 4.5"/>
<path d="M346.2 954.6L358.8 945.9L360.2 961.2Z" fill="#44546a"/>
<ellipse cx="305.5" cy="924.5" rx="14.3" ry="14.9" fill="#e6e6ea" fill-opacity="0.6" stroke="#2b4a8a" stroke-width="1.9"/>
<text x="296.90" y="930.40" font-size="16.67" font-weight="bold" fill="#000" stroke="#000" stroke-width="0.3" textLength="17.60" lengthAdjust="spacingAndGlyphs">C7</text>
<ellipse cx="348.4" cy="902.4" rx="14.3" ry="14.9" fill="#e6e6ea" fill-opacity="0.6" stroke="#2b4a8a" stroke-width="1.9"/>
<text x="334.00" y="908.30" font-size="16.67" font-weight="bold" fill="#000" stroke="#000" stroke-width="0.3" textLength="25.30" lengthAdjust="spacingAndGlyphs">C11</text>
<ellipse cx="386.8" cy="902.4" rx="14.3" ry="14.9" fill="#e6e6ea" fill-opacity="0.6" stroke="#2b4a8a" stroke-width="1.9"/>
<text x="376.40" y="908.30" font-size="16.67" font-weight="bold" fill="#000" stroke="#000" stroke-width="0.3" textLength="18.10" lengthAdjust="spacingAndGlyphs">C1</text>
<ellipse cx="430.0" cy="903.2" rx="14.3" ry="14.9" fill="#e6e6ea" fill-opacity="0.6" stroke="#2b4a8a" stroke-width="1.9"/>
<text x="420.70" y="908.30" font-size="16.67" font-weight="bold" fill="#000" stroke="#000" stroke-width="0.3" textLength="18.30" lengthAdjust="spacingAndGlyphs">C9</text>
<ellipse cx="480.4" cy="924.5" rx="14.3" ry="14.9" fill="#e6e6ea" fill-opacity="0.6" stroke="#2b4a8a" stroke-width="1.9"/>
<text x="467.00" y="930.40" font-size="16.67" font-weight="bold" fill="#000" stroke="#000" stroke-width="0.3" textLength="26.70" lengthAdjust="spacingAndGlyphs">C10</text>
<ellipse cx="374.5" cy="966.4" rx="14.3" ry="14.9" fill="#e6e6ea" fill-opacity="0.6" stroke="#2b4a8a" stroke-width="1.9"/>
<text x="363.60" y="972.00" font-size="16.67" font-weight="bold" fill="#000" stroke="#000" stroke-width="0.3" textLength="18.10" lengthAdjust="spacingAndGlyphs">C2</text>
<text x="272.40" y="992.50" font-size="16.96" font-weight="bold" fill="#000" stroke="#000" stroke-width="0.3" textLength="98.40" lengthAdjust="spacingAndGlyphs">Zeb2 deficient</text>
<text x="387.30" y="1004.30" font-size="21.70" font-weight="bold" fill="#000" stroke="#000" stroke-width="0.3" textLength="90.20" lengthAdjust="spacingAndGlyphs">apoptosis</text>
<text x="371.30" y="1050.70" font-size="22.26" font-weight="bold" fill="#000" stroke="#000" stroke-width="0.3" textLength="36.80" lengthAdjust="spacingAndGlyphs">time</text>
<text transform="translate(53.90,935.30) rotate(-90)" x="0" y="0" font-size="19.13" font-weight="bold" stroke="#000" stroke-width="0.3" textLength="114.40" lengthAdjust="spacingAndGlyphs">Magnitude of</text>
<text transform="translate(81.50,1008.30) rotate(-90)" x="0" y="0" font-size="19.13" font-weight="bold" stroke="#000" stroke-width="0.3" textLength="265.90" lengthAdjust="spacingAndGlyphs">activated or memory NKT cells</text>
</svg></body></html>
